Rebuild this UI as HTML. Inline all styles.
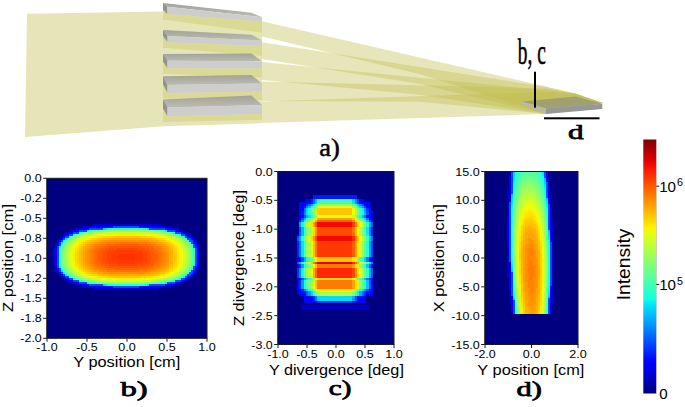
<!DOCTYPE html>
<html><head><meta charset="utf-8"><title>figure</title>
<style>html,body{margin:0;padding:0;background:#fff;}body{width:685px;height:407px;overflow:hidden;}svg{display:block;}</style>
</head><body>
<svg width="685" height="407" viewBox="0 0 685 407">
<defs><linearGradient id="tf" x1="0" y1="0" x2="0" y2="1"><stop offset="0" stop-color="#a2a29b"/><stop offset="1" stop-color="#bcbcb4"/></linearGradient></defs>
<polygon fill="#e6e5b8" points="27,13.8 163,11.4 262,17 262,123.2 163,126.2 25,137"/>
<polygon fill="#dbda93" points="163,10.1 167.5,14.0 262,21.7 262,32.7 163,19.5"/>
<polygon fill="url(#tf)" points="163,2.9 251.5,12.8 262,17.2 167.5,6.8"/>
<polygon fill="#93938e" points="163,2.9 167.5,6.8 167.5,14.0 163,10.1"/>
<polygon fill="#cdcdcd" points="167.5,6.8 262,17.2 262,21.7 167.5,14.0"/>
<polygon fill="#dbda93" points="163,36.1 167.5,42.2 262,46.0 262,56.0 163,47.7"/>
<polygon fill="url(#tf)" points="163,29.9 251.5,34.7 262,40.6 167.5,36.0"/>
<polygon fill="#93938e" points="163,29.9 167.5,36.0 167.5,42.2 163,36.1"/>
<polygon fill="#cdcdcd" points="167.5,36.0 262,40.6 262,46.0 167.5,42.2"/>
<polygon fill="#dbda93" points="163,61.5 167.5,68.3 262,68.6 262,77.6 163,73.8"/>
<polygon fill="url(#tf)" points="163,53.9 251.5,53.4 262,61.2 167.5,60.7"/>
<polygon fill="#93938e" points="163,53.9 167.5,60.7 167.5,68.3 163,61.5"/>
<polygon fill="#cdcdcd" points="167.5,60.7 262,61.2 262,68.6 167.5,68.3"/>
<polygon fill="#dbda93" points="163,84.3 167.5,93.0 262,91.6 262,100.1 163,98.5"/>
<polygon fill="url(#tf)" points="163,76.3 251.5,75.0 262,83.5 167.5,85.0"/>
<polygon fill="#93938e" points="163,76.3 167.5,85.0 167.5,93.0 163,84.3"/>
<polygon fill="#cdcdcd" points="167.5,85.0 262,83.5 262,91.6 167.5,93.0"/>
<polygon fill="#dbda93" points="163,108.4 167.5,116.4 262,113.9 262,119.9 163,121.9"/>
<polygon fill="url(#tf)" points="163,99.5 251.5,95.4 262,105.1 167.5,107.5"/>
<polygon fill="#93938e" points="163,99.5 167.5,107.5 167.5,116.4 163,108.4"/>
<polygon fill="#cdcdcd" points="167.5,107.5 262,105.1 262,113.9 167.5,116.4"/>
<polygon fill="#c4c4bc" points="522,101.4 546,108.4 546,114.0 522,104.4"/>
<polygon fill="#c0be4c" fill-opacity="0.38" points="262.0,21.2 545.0,86.3 575.0,93.5 603.0,103.0 546.0,114.0 420.0,74.3 262.0,36.4"/>
<polygon fill="#c0be4c" fill-opacity="0.38" points="262.0,42.3 545.0,86.7 575.0,93.5 603.0,103.0 546.0,114.0 420.0,84.1 262.0,59.0"/>
<polygon fill="#c0be4c" fill-opacity="0.38" points="262.0,61.9 545.0,90.2 575.0,93.5 603.0,103.0 546.0,114.0 420.0,94.7 262.0,80.0"/>
<polygon fill="#c0be4c" fill-opacity="0.38" points="262.0,81.6 545.0,88.4 575.0,93.5 603.0,103.0 546.0,114.0 420.0,101.8 262.0,101.0"/>
<polygon fill="#c0be4c" fill-opacity="0.38" points="262.0,101.5 545.0,91.9 575.0,93.5 603.0,103.0 546.0,114.0 420.0,118.0 262.0,123.0"/>
<polygon fill="#8e8e80" fill-opacity="0.65" points="522.0,101.4 546.0,108.4 602.3,103.8 576.0,96.5"/>
<polygon fill="#b9b9af" fill-opacity="0.85" points="522,101.4 546,108.4 546,114.0 522,104.4"/>
<polygon fill="#979797" points="546,108.4 602.3,103.8 602.3,109.0 546,114.0"/>
<rect x="534" y="71.7" width="2" height="36" fill="#000"/>
<rect x="544" y="117.3" width="55.5" height="2" fill="#000"/>
<text x="0.00" y="0.00" font-size="36.50" text-anchor="start" stroke="#000" stroke-width="0.60" transform="translate(517.8 64.4) scale(0.53 1)" style="font-family:'Liberation Serif',serif">b, c</text>
<text x="568.10" y="139.40" font-size="21.50" text-anchor="start" stroke="#000" stroke-width="0.75" textLength="15.60" lengthAdjust="spacingAndGlyphs" style="font-family:'Liberation Serif',serif">d</text>
<text x="0.00" y="0.00" font-size="24.50" text-anchor="start" stroke="#000" stroke-width="0.45" transform="translate(319.2 156) scale(1.08 1)" style="font-family:'Liberation Serif',serif">a)</text>
<rect x="47.00" y="178.30" width="160.00" height="160.00" fill="#000080"/>
<rect x="278.00" y="171.50" width="116.00" height="173.00" fill="#000080"/>
<rect x="485.00" y="171.50" width="93.00" height="173.00" fill="#000080"/>
<g shape-rendering="crispEdges">
<path fill="#0000d1" d="M93.0 224.3H159.0V226.3H93.0zM81.0 226.3H91.0V228.3H81.0zM163.0 226.3H171.0V228.3H163.0zM75.0 228.3H81.0V230.3H75.0zM173.0 228.3H179.0V230.3H173.0zM69.0 230.3H73.0V232.3H69.0zM179.0 230.3H183.0V232.3H179.0zM65.0 232.3H69.0V234.3H65.0zM185.0 232.3H187.0V234.3H185.0zM63.0 234.3H65.0V236.3H63.0zM187.0 234.3H191.0V236.3H187.0zM61.0 236.3H63.0V238.3H61.0zM191.0 236.3H193.0V238.3H191.0zM59.0 238.3H61.0V240.3H59.0zM193.0 238.3H195.0V240.3H193.0zM57.0 240.3H59.0V242.3H57.0zM195.0 240.3H197.0V242.3H195.0zM55.0 242.3H57.0V244.3H55.0zM195.0 242.3H197.0V244.3H195.0zM55.0 244.3H57.0V246.3H55.0zM197.0 244.3H199.0V246.3H197.0zM55.0 246.3H57.0V248.3H55.0zM197.0 246.3H199.0V248.3H197.0zM53.0 248.3H55.0V250.3H53.0zM197.0 248.3H199.0V250.3H197.0zM53.0 250.3H55.0V252.3H53.0zM53.0 252.3H55.0V254.3H53.0zM53.0 254.3H55.0V256.3H53.0zM53.0 256.3H55.0V258.3H53.0zM53.0 258.3H55.0V260.3H53.0zM53.0 260.3H55.0V262.3H53.0zM53.0 262.3H55.0V264.3H53.0zM53.0 264.3H55.0V266.3H53.0zM197.0 264.3H199.0V266.3H197.0zM55.0 266.3H57.0V268.3H55.0zM197.0 266.3H199.0V268.3H197.0zM55.0 268.3H57.0V270.3H55.0zM197.0 268.3H199.0V270.3H197.0zM55.0 270.3H57.0V272.3H55.0zM195.0 270.3H197.0V272.3H195.0zM57.0 272.3H59.0V274.3H57.0zM195.0 272.3H197.0V274.3H195.0zM59.0 274.3H61.0V276.3H59.0zM193.0 274.3H195.0V276.3H193.0zM61.0 276.3H63.0V278.3H61.0zM191.0 276.3H193.0V278.3H191.0zM63.0 278.3H65.0V280.3H63.0zM187.0 278.3H191.0V280.3H187.0zM65.0 280.3H69.0V282.3H65.0zM185.0 280.3H187.0V282.3H185.0zM69.0 282.3H73.0V284.3H69.0zM179.0 282.3H183.0V284.3H179.0zM75.0 284.3H81.0V286.3H75.0zM173.0 284.3H179.0V286.3H173.0zM81.0 286.3H91.0V288.3H81.0zM163.0 286.3H171.0V288.3H163.0zM93.0 288.3H159.0V290.3H93.0z"/>
<path fill="#0005ff" d="M91.0 226.3H113.0V228.3H91.0zM139.0 226.3H163.0V228.3H139.0zM81.0 228.3H89.0V230.3H81.0zM165.0 228.3H173.0V230.3H165.0zM73.0 230.3H79.0V232.3H73.0zM175.0 230.3H179.0V232.3H175.0zM69.0 232.3H73.0V234.3H69.0zM181.0 232.3H185.0V234.3H181.0zM65.0 234.3H69.0V236.3H65.0zM185.0 234.3H187.0V236.3H185.0zM63.0 236.3H65.0V238.3H63.0zM187.0 236.3H191.0V238.3H187.0zM61.0 238.3H63.0V240.3H61.0zM191.0 238.3H193.0V240.3H191.0zM59.0 240.3H61.0V242.3H59.0zM193.0 240.3H195.0V242.3H193.0zM57.0 242.3H59.0V244.3H57.0zM193.0 242.3H195.0V244.3H193.0zM57.0 244.3H59.0V246.3H57.0zM195.0 244.3H197.0V246.3H195.0zM195.0 246.3H197.0V248.3H195.0zM55.0 248.3H57.0V250.3H55.0zM55.0 250.3H57.0V252.3H55.0zM197.0 250.3H199.0V252.3H197.0zM55.0 252.3H57.0V254.3H55.0zM197.0 252.3H199.0V254.3H197.0zM55.0 254.3H57.0V256.3H55.0zM197.0 254.3H199.0V256.3H197.0zM55.0 256.3H57.0V258.3H55.0zM197.0 256.3H199.0V258.3H197.0zM55.0 258.3H57.0V260.3H55.0zM197.0 258.3H199.0V260.3H197.0zM55.0 260.3H57.0V262.3H55.0zM197.0 260.3H199.0V262.3H197.0zM55.0 262.3H57.0V264.3H55.0zM197.0 262.3H199.0V264.3H197.0zM55.0 264.3H57.0V266.3H55.0zM195.0 266.3H197.0V268.3H195.0zM57.0 268.3H59.0V270.3H57.0zM195.0 268.3H197.0V270.3H195.0zM57.0 270.3H59.0V272.3H57.0zM193.0 270.3H195.0V272.3H193.0zM59.0 272.3H61.0V274.3H59.0zM193.0 272.3H195.0V274.3H193.0zM61.0 274.3H63.0V276.3H61.0zM191.0 274.3H193.0V276.3H191.0zM63.0 276.3H65.0V278.3H63.0zM187.0 276.3H191.0V278.3H187.0zM65.0 278.3H69.0V280.3H65.0zM185.0 278.3H187.0V280.3H185.0zM69.0 280.3H73.0V282.3H69.0zM181.0 280.3H185.0V282.3H181.0zM73.0 282.3H79.0V284.3H73.0zM175.0 282.3H179.0V284.3H175.0zM81.0 284.3H89.0V286.3H81.0zM165.0 284.3H173.0V286.3H165.0zM91.0 286.3H113.0V288.3H91.0zM139.0 286.3H163.0V288.3H139.0z"/>
<path fill="#004dff" d="M113.0 226.3H139.0V228.3H113.0zM89.0 228.3H103.0V230.3H89.0zM149.0 228.3H165.0V230.3H149.0zM79.0 230.3H87.0V232.3H79.0zM167.0 230.3H175.0V232.3H167.0zM73.0 232.3H79.0V234.3H73.0zM175.0 232.3H181.0V234.3H175.0zM69.0 234.3H73.0V236.3H69.0zM181.0 234.3H185.0V236.3H181.0zM65.0 236.3H69.0V238.3H65.0zM185.0 236.3H187.0V238.3H185.0zM63.0 238.3H65.0V240.3H63.0zM187.0 238.3H191.0V240.3H187.0zM61.0 240.3H63.0V242.3H61.0zM189.0 240.3H193.0V242.3H189.0zM59.0 242.3H61.0V244.3H59.0zM191.0 242.3H193.0V244.3H191.0zM59.0 244.3H61.0V246.3H59.0zM193.0 244.3H195.0V246.3H193.0zM57.0 246.3H59.0V248.3H57.0zM193.0 246.3H195.0V248.3H193.0zM57.0 248.3H59.0V250.3H57.0zM195.0 248.3H197.0V250.3H195.0zM57.0 250.3H59.0V252.3H57.0zM195.0 250.3H197.0V252.3H195.0zM57.0 252.3H59.0V254.3H57.0zM195.0 252.3H197.0V254.3H195.0zM57.0 254.3H59.0V256.3H57.0zM195.0 254.3H197.0V256.3H195.0zM57.0 256.3H59.0V258.3H57.0zM195.0 256.3H197.0V258.3H195.0zM57.0 258.3H59.0V260.3H57.0zM195.0 258.3H197.0V260.3H195.0zM57.0 260.3H59.0V262.3H57.0zM195.0 260.3H197.0V262.3H195.0zM57.0 262.3H59.0V264.3H57.0zM195.0 262.3H197.0V264.3H195.0zM57.0 264.3H59.0V266.3H57.0zM195.0 264.3H197.0V266.3H195.0zM57.0 266.3H59.0V268.3H57.0zM193.0 266.3H195.0V268.3H193.0zM59.0 268.3H61.0V270.3H59.0zM193.0 268.3H195.0V270.3H193.0zM59.0 270.3H61.0V272.3H59.0zM191.0 270.3H193.0V272.3H191.0zM61.0 272.3H63.0V274.3H61.0zM189.0 272.3H193.0V274.3H189.0zM63.0 274.3H65.0V276.3H63.0zM187.0 274.3H191.0V276.3H187.0zM65.0 276.3H69.0V278.3H65.0zM185.0 276.3H187.0V278.3H185.0zM69.0 278.3H73.0V280.3H69.0zM181.0 278.3H185.0V280.3H181.0zM73.0 280.3H79.0V282.3H73.0zM175.0 280.3H181.0V282.3H175.0zM79.0 282.3H87.0V284.3H79.0zM167.0 282.3H175.0V284.3H167.0zM89.0 284.3H103.0V286.3H89.0zM149.0 284.3H165.0V286.3H149.0zM113.0 286.3H139.0V288.3H113.0z"/>
<path fill="#00d1ff" d="M103.0 228.3H105.0V230.3H103.0zM103.0 284.3H105.0V286.3H103.0z"/>
<path fill="#00e5f7" d="M105.0 228.3H107.0V230.3H105.0zM147.0 228.3H149.0V230.3H147.0zM65.0 238.3H67.0V240.3H65.0zM61.0 242.3H63.0V244.3H61.0zM61.0 270.3H63.0V272.3H61.0zM65.0 274.3H67.0V276.3H65.0zM105.0 284.3H107.0V286.3H105.0zM147.0 284.3H149.0V286.3H147.0z"/>
<path fill="#08f0ef" d="M165.0 230.3H167.0V232.3H165.0zM59.0 246.3H61.0V248.3H59.0zM59.0 266.3H61.0V268.3H59.0zM165.0 282.3H167.0V284.3H165.0z"/>
<path fill="#10fae6" d="M107.0 228.3H109.0V230.3H107.0zM145.0 228.3H147.0V230.3H145.0zM87.0 230.3H89.0V232.3H87.0zM179.0 234.3H181.0V236.3H179.0zM183.0 236.3H185.0V238.3H183.0zM63.0 240.3H65.0V242.3H63.0zM193.0 248.3H195.0V250.3H193.0zM193.0 264.3H195.0V266.3H193.0zM63.0 272.3H65.0V274.3H63.0zM183.0 276.3H185.0V278.3H183.0zM179.0 278.3H181.0V280.3H179.0zM87.0 282.3H89.0V284.3H87.0zM107.0 284.3H109.0V286.3H107.0zM145.0 284.3H147.0V286.3H145.0z"/>
<path fill="#19ffde" d="M109.0 228.3H111.0V230.3H109.0zM143.0 228.3H145.0V230.3H143.0zM173.0 232.3H175.0V234.3H173.0zM173.0 280.3H175.0V282.3H173.0zM109.0 284.3H111.0V286.3H109.0zM143.0 284.3H145.0V286.3H143.0z"/>
<path fill="#21ffd6" d="M111.0 228.3H115.0V230.3H111.0zM139.0 228.3H143.0V230.3H139.0zM79.0 232.3H81.0V234.3H79.0zM73.0 234.3H75.0V236.3H73.0zM191.0 244.3H193.0V246.3H191.0zM193.0 250.3H195.0V252.3H193.0zM193.0 262.3H195.0V264.3H193.0zM191.0 268.3H193.0V270.3H191.0zM73.0 278.3H75.0V280.3H73.0zM79.0 280.3H81.0V282.3H79.0zM111.0 284.3H115.0V286.3H111.0zM139.0 284.3H143.0V286.3H139.0z"/>
<path fill="#29ffce" d="M115.0 228.3H139.0V230.3H115.0zM163.0 230.3H165.0V232.3H163.0zM69.0 236.3H71.0V238.3H69.0zM59.0 248.3H61.0V250.3H59.0zM193.0 252.3H195.0V254.3H193.0zM193.0 254.3H195.0V256.3H193.0zM193.0 256.3H195.0V258.3H193.0zM193.0 258.3H195.0V260.3H193.0zM193.0 260.3H195.0V262.3H193.0zM59.0 264.3H61.0V266.3H59.0zM69.0 276.3H71.0V278.3H69.0zM163.0 282.3H165.0V284.3H163.0zM115.0 284.3H139.0V286.3H115.0z"/>
<path fill="#31ffc5" d="M89.0 230.3H91.0V232.3H89.0zM185.0 238.3H187.0V240.3H185.0zM185.0 274.3H187.0V276.3H185.0zM89.0 282.3H91.0V284.3H89.0z"/>
<path fill="#3affbd" d="M171.0 232.3H173.0V234.3H171.0zM187.0 240.3H189.0V242.3H187.0zM189.0 242.3H191.0V244.3H189.0zM61.0 244.3H63.0V246.3H61.0zM59.0 250.3H61.0V252.3H59.0zM59.0 252.3H61.0V254.3H59.0zM59.0 260.3H61.0V262.3H59.0zM59.0 262.3H61.0V264.3H59.0zM61.0 268.3H63.0V270.3H61.0zM189.0 270.3H191.0V272.3H189.0zM187.0 272.3H189.0V274.3H187.0zM171.0 280.3H173.0V282.3H171.0z"/>
<path fill="#42ffb5" d="M91.0 230.3H93.0V232.3H91.0zM161.0 230.3H163.0V232.3H161.0zM81.0 232.3H83.0V234.3H81.0zM177.0 234.3H179.0V236.3H177.0zM181.0 236.3H183.0V238.3H181.0zM67.0 238.3H69.0V240.3H67.0zM191.0 246.3H193.0V248.3H191.0zM59.0 254.3H61.0V256.3H59.0zM59.0 256.3H61.0V258.3H59.0zM59.0 258.3H61.0V260.3H59.0zM191.0 266.3H193.0V268.3H191.0zM67.0 274.3H69.0V276.3H67.0zM181.0 276.3H183.0V278.3H181.0zM177.0 278.3H179.0V280.3H177.0zM81.0 280.3H83.0V282.3H81.0zM91.0 282.3H93.0V284.3H91.0zM161.0 282.3H163.0V284.3H161.0z"/>
<path fill="#4affad" d="M75.0 234.3H77.0V236.3H75.0zM65.0 240.3H67.0V242.3H65.0zM63.0 242.3H65.0V244.3H63.0zM63.0 270.3H65.0V272.3H63.0zM65.0 272.3H67.0V274.3H65.0zM75.0 278.3H77.0V280.3H75.0z"/>
<path fill="#52ffa5" d="M93.0 230.3H95.0V232.3H93.0zM159.0 230.3H161.0V232.3H159.0zM169.0 232.3H171.0V234.3H169.0zM71.0 236.3H73.0V238.3H71.0zM61.0 246.3H63.0V248.3H61.0zM191.0 248.3H193.0V250.3H191.0zM191.0 264.3H193.0V266.3H191.0zM61.0 266.3H63.0V268.3H61.0zM71.0 276.3H73.0V278.3H71.0zM169.0 280.3H171.0V282.3H169.0zM93.0 282.3H95.0V284.3H93.0zM159.0 282.3H161.0V284.3H159.0z"/>
<path fill="#5aff9c" d="M157.0 230.3H159.0V232.3H157.0zM83.0 232.3H85.0V234.3H83.0zM175.0 234.3H177.0V236.3H175.0zM183.0 238.3H185.0V240.3H183.0zM189.0 244.3H191.0V246.3H189.0zM61.0 248.3H63.0V250.3H61.0zM191.0 250.3H193.0V252.3H191.0zM191.0 262.3H193.0V264.3H191.0zM61.0 264.3H63.0V266.3H61.0zM189.0 268.3H191.0V270.3H189.0zM183.0 274.3H185.0V276.3H183.0zM175.0 278.3H177.0V280.3H175.0zM83.0 280.3H85.0V282.3H83.0zM157.0 282.3H159.0V284.3H157.0z"/>
<path fill="#63ff94" d="M95.0 230.3H97.0V232.3H95.0zM155.0 230.3H157.0V232.3H155.0zM77.0 234.3H79.0V236.3H77.0zM179.0 236.3H181.0V238.3H179.0zM185.0 240.3H187.0V242.3H185.0zM187.0 242.3H189.0V244.3H187.0zM63.0 244.3H65.0V246.3H63.0zM191.0 252.3H193.0V254.3H191.0zM191.0 254.3H193.0V256.3H191.0zM191.0 256.3H193.0V258.3H191.0zM191.0 258.3H193.0V260.3H191.0zM191.0 260.3H193.0V262.3H191.0zM63.0 268.3H65.0V270.3H63.0zM187.0 270.3H189.0V272.3H187.0zM185.0 272.3H187.0V274.3H185.0zM179.0 276.3H181.0V278.3H179.0zM77.0 278.3H79.0V280.3H77.0zM95.0 282.3H97.0V284.3H95.0zM155.0 282.3H157.0V284.3H155.0z"/>
<path fill="#6bff8c" d="M97.0 230.3H99.0V232.3H97.0zM85.0 232.3H87.0V234.3H85.0zM167.0 232.3H169.0V234.3H167.0zM73.0 236.3H75.0V238.3H73.0zM69.0 238.3H71.0V240.3H69.0zM189.0 246.3H191.0V248.3H189.0zM61.0 250.3H63.0V252.3H61.0zM61.0 252.3H63.0V254.3H61.0zM61.0 254.3H63.0V256.3H61.0zM61.0 256.3H63.0V258.3H61.0zM61.0 258.3H63.0V260.3H61.0zM61.0 260.3H63.0V262.3H61.0zM61.0 262.3H63.0V264.3H61.0zM189.0 266.3H191.0V268.3H189.0zM69.0 274.3H71.0V276.3H69.0zM73.0 276.3H75.0V278.3H73.0zM85.0 280.3H87.0V282.3H85.0zM167.0 280.3H169.0V282.3H167.0zM97.0 282.3H99.0V284.3H97.0z"/>
<path fill="#73ff84" d="M99.0 230.3H101.0V232.3H99.0zM151.0 230.3H155.0V232.3H151.0zM173.0 234.3H175.0V236.3H173.0zM67.0 240.3H69.0V242.3H67.0zM65.0 242.3H67.0V244.3H65.0zM65.0 270.3H67.0V272.3H65.0zM67.0 272.3H69.0V274.3H67.0zM173.0 278.3H175.0V280.3H173.0zM99.0 282.3H101.0V284.3H99.0zM151.0 282.3H155.0V284.3H151.0z"/>
<path fill="#7bff7b" d="M101.0 230.3H105.0V232.3H101.0zM149.0 230.3H151.0V232.3H149.0zM87.0 232.3H89.0V234.3H87.0zM165.0 232.3H167.0V234.3H165.0zM79.0 234.3H81.0V236.3H79.0zM181.0 238.3H183.0V240.3H181.0zM187.0 244.3H189.0V246.3H187.0zM63.0 246.3H65.0V248.3H63.0zM189.0 248.3H191.0V250.3H189.0zM189.0 264.3H191.0V266.3H189.0zM63.0 266.3H65.0V268.3H63.0zM187.0 268.3H189.0V270.3H187.0zM181.0 274.3H183.0V276.3H181.0zM79.0 278.3H81.0V280.3H79.0zM87.0 280.3H89.0V282.3H87.0zM165.0 280.3H167.0V282.3H165.0zM101.0 282.3H105.0V284.3H101.0zM149.0 282.3H151.0V284.3H149.0z"/>
<path fill="#84ff73" d="M105.0 230.3H107.0V232.3H105.0zM145.0 230.3H149.0V232.3H145.0zM163.0 232.3H165.0V234.3H163.0zM75.0 236.3H77.0V238.3H75.0zM177.0 236.3H179.0V238.3H177.0zM71.0 238.3H73.0V240.3H71.0zM183.0 240.3H185.0V242.3H183.0zM185.0 242.3H187.0V244.3H185.0zM65.0 244.3H67.0V246.3H65.0zM63.0 248.3H65.0V250.3H63.0zM189.0 250.3H191.0V252.3H189.0zM189.0 252.3H191.0V254.3H189.0zM189.0 254.3H191.0V256.3H189.0zM189.0 256.3H191.0V258.3H189.0zM189.0 258.3H191.0V260.3H189.0zM189.0 260.3H191.0V262.3H189.0zM189.0 262.3H191.0V264.3H189.0zM63.0 264.3H65.0V266.3H63.0zM65.0 268.3H67.0V270.3H65.0zM185.0 270.3H187.0V272.3H185.0zM183.0 272.3H185.0V274.3H183.0zM71.0 274.3H73.0V276.3H71.0zM75.0 276.3H77.0V278.3H75.0zM177.0 276.3H179.0V278.3H177.0zM163.0 280.3H165.0V282.3H163.0zM105.0 282.3H107.0V284.3H105.0zM145.0 282.3H149.0V284.3H145.0z"/>
<path fill="#8cff6b" d="M107.0 230.3H115.0V232.3H107.0zM139.0 230.3H145.0V232.3H139.0zM89.0 232.3H91.0V234.3H89.0zM81.0 234.3H83.0V236.3H81.0zM171.0 234.3H173.0V236.3H171.0zM69.0 240.3H71.0V242.3H69.0zM67.0 242.3H69.0V244.3H67.0zM187.0 246.3H189.0V248.3H187.0zM63.0 250.3H65.0V252.3H63.0zM63.0 252.3H65.0V254.3H63.0zM63.0 260.3H65.0V262.3H63.0zM63.0 262.3H65.0V264.3H63.0zM187.0 266.3H189.0V268.3H187.0zM67.0 270.3H69.0V272.3H67.0zM69.0 272.3H71.0V274.3H69.0zM81.0 278.3H83.0V280.3H81.0zM171.0 278.3H173.0V280.3H171.0zM89.0 280.3H91.0V282.3H89.0zM107.0 282.3H115.0V284.3H107.0zM139.0 282.3H145.0V284.3H139.0z"/>
<path fill="#94ff63" d="M115.0 230.3H139.0V232.3H115.0zM91.0 232.3H93.0V234.3H91.0zM161.0 232.3H163.0V234.3H161.0zM175.0 236.3H177.0V238.3H175.0zM179.0 238.3H181.0V240.3H179.0zM65.0 246.3H67.0V248.3H65.0zM63.0 254.3H65.0V256.3H63.0zM63.0 256.3H65.0V258.3H63.0zM63.0 258.3H65.0V260.3H63.0zM65.0 266.3H67.0V268.3H65.0zM179.0 274.3H181.0V276.3H179.0zM175.0 276.3H177.0V278.3H175.0zM91.0 280.3H93.0V282.3H91.0zM161.0 280.3H163.0V282.3H161.0zM115.0 282.3H139.0V284.3H115.0z"/>
<path fill="#9cff5a" d="M93.0 232.3H95.0V234.3H93.0zM159.0 232.3H161.0V234.3H159.0zM83.0 234.3H85.0V236.3H83.0zM169.0 234.3H171.0V236.3H169.0zM77.0 236.3H79.0V238.3H77.0zM73.0 238.3H75.0V240.3H73.0zM181.0 240.3H183.0V242.3H181.0zM183.0 242.3H185.0V244.3H183.0zM185.0 244.3H187.0V246.3H185.0zM187.0 248.3H189.0V250.3H187.0zM187.0 250.3H189.0V252.3H187.0zM187.0 262.3H189.0V264.3H187.0zM187.0 264.3H189.0V266.3H187.0zM185.0 268.3H187.0V270.3H185.0zM183.0 270.3H185.0V272.3H183.0zM181.0 272.3H183.0V274.3H181.0zM73.0 274.3H75.0V276.3H73.0zM77.0 276.3H79.0V278.3H77.0zM83.0 278.3H85.0V280.3H83.0zM169.0 278.3H171.0V280.3H169.0zM93.0 280.3H95.0V282.3H93.0zM159.0 280.3H161.0V282.3H159.0z"/>
<path fill="#a5ff52" d="M95.0 232.3H97.0V234.3H95.0zM157.0 232.3H159.0V234.3H157.0zM167.0 234.3H169.0V236.3H167.0zM173.0 236.3H175.0V238.3H173.0zM71.0 240.3H73.0V242.3H71.0zM69.0 242.3H71.0V244.3H69.0zM67.0 244.3H69.0V246.3H67.0zM65.0 248.3H67.0V250.3H65.0zM65.0 250.3H67.0V252.3H65.0zM187.0 252.3H189.0V254.3H187.0zM187.0 254.3H189.0V256.3H187.0zM187.0 256.3H189.0V258.3H187.0zM187.0 258.3H189.0V260.3H187.0zM187.0 260.3H189.0V262.3H187.0zM65.0 262.3H67.0V264.3H65.0zM65.0 264.3H67.0V266.3H65.0zM67.0 268.3H69.0V270.3H67.0zM69.0 270.3H71.0V272.3H69.0zM71.0 272.3H73.0V274.3H71.0zM173.0 276.3H175.0V278.3H173.0zM167.0 278.3H169.0V280.3H167.0zM95.0 280.3H97.0V282.3H95.0zM157.0 280.3H159.0V282.3H157.0z"/>
<path fill="#adff4a" d="M97.0 232.3H99.0V234.3H97.0zM155.0 232.3H157.0V234.3H155.0zM85.0 234.3H87.0V236.3H85.0zM79.0 236.3H81.0V238.3H79.0zM75.0 238.3H77.0V240.3H75.0zM177.0 238.3H179.0V240.3H177.0zM67.0 246.3H69.0V248.3H67.0zM185.0 246.3H187.0V248.3H185.0zM65.0 252.3H67.0V254.3H65.0zM65.0 254.3H67.0V256.3H65.0zM65.0 256.3H67.0V258.3H65.0zM65.0 258.3H67.0V260.3H65.0zM65.0 260.3H67.0V262.3H65.0zM67.0 266.3H69.0V268.3H67.0zM185.0 266.3H187.0V268.3H185.0zM75.0 274.3H77.0V276.3H75.0zM177.0 274.3H179.0V276.3H177.0zM79.0 276.3H81.0V278.3H79.0zM85.0 278.3H87.0V280.3H85.0zM97.0 280.3H99.0V282.3H97.0zM155.0 280.3H157.0V282.3H155.0z"/>
<path fill="#b5ff42" d="M99.0 232.3H101.0V234.3H99.0zM153.0 232.3H155.0V234.3H153.0zM87.0 234.3H89.0V236.3H87.0zM165.0 234.3H167.0V236.3H165.0zM171.0 236.3H173.0V238.3H171.0zM179.0 240.3H181.0V242.3H179.0zM181.0 242.3H183.0V244.3H181.0zM183.0 244.3H185.0V246.3H183.0zM185.0 248.3H187.0V250.3H185.0zM185.0 250.3H187.0V252.3H185.0zM185.0 262.3H187.0V264.3H185.0zM185.0 264.3H187.0V266.3H185.0zM183.0 268.3H185.0V270.3H183.0zM181.0 270.3H183.0V272.3H181.0zM179.0 272.3H181.0V274.3H179.0zM171.0 276.3H173.0V278.3H171.0zM87.0 278.3H89.0V280.3H87.0zM165.0 278.3H167.0V280.3H165.0zM99.0 280.3H101.0V282.3H99.0zM153.0 280.3H155.0V282.3H153.0z"/>
<path fill="#bdff3a" d="M101.0 232.3H105.0V234.3H101.0zM149.0 232.3H153.0V234.3H149.0zM89.0 234.3H91.0V236.3H89.0zM163.0 234.3H165.0V236.3H163.0zM81.0 236.3H83.0V238.3H81.0zM77.0 238.3H79.0V240.3H77.0zM175.0 238.3H177.0V240.3H175.0zM73.0 240.3H75.0V242.3H73.0zM71.0 242.3H73.0V244.3H71.0zM69.0 244.3H71.0V246.3H69.0zM183.0 246.3H185.0V248.3H183.0zM67.0 248.3H69.0V250.3H67.0zM67.0 250.3H69.0V252.3H67.0zM185.0 252.3H187.0V254.3H185.0zM185.0 254.3H187.0V256.3H185.0zM185.0 256.3H187.0V258.3H185.0zM185.0 258.3H187.0V260.3H185.0zM185.0 260.3H187.0V262.3H185.0zM67.0 262.3H69.0V264.3H67.0zM67.0 264.3H69.0V266.3H67.0zM183.0 266.3H185.0V268.3H183.0zM69.0 268.3H71.0V270.3H69.0zM71.0 270.3H73.0V272.3H71.0zM73.0 272.3H75.0V274.3H73.0zM77.0 274.3H79.0V276.3H77.0zM175.0 274.3H177.0V276.3H175.0zM81.0 276.3H83.0V278.3H81.0zM89.0 278.3H91.0V280.3H89.0zM163.0 278.3H165.0V280.3H163.0zM101.0 280.3H105.0V282.3H101.0zM149.0 280.3H153.0V282.3H149.0z"/>
<path fill="#c5ff31" d="M105.0 232.3H111.0V234.3H105.0zM143.0 232.3H149.0V234.3H143.0zM161.0 234.3H163.0V236.3H161.0zM83.0 236.3H85.0V238.3H83.0zM169.0 236.3H171.0V238.3H169.0zM177.0 240.3H179.0V242.3H177.0zM181.0 244.3H183.0V246.3H181.0zM69.0 246.3H71.0V248.3H69.0zM183.0 248.3H185.0V250.3H183.0zM67.0 252.3H69.0V254.3H67.0zM67.0 254.3H69.0V256.3H67.0zM67.0 256.3H69.0V258.3H67.0zM67.0 258.3H69.0V260.3H67.0zM67.0 260.3H69.0V262.3H67.0zM183.0 264.3H185.0V266.3H183.0zM69.0 266.3H71.0V268.3H69.0zM181.0 268.3H183.0V270.3H181.0zM177.0 272.3H179.0V274.3H177.0zM83.0 276.3H85.0V278.3H83.0zM169.0 276.3H171.0V278.3H169.0zM161.0 278.3H163.0V280.3H161.0zM105.0 280.3H111.0V282.3H105.0zM143.0 280.3H149.0V282.3H143.0z"/>
<path fill="#ceff29" d="M111.0 232.3H143.0V234.3H111.0zM91.0 234.3H93.0V236.3H91.0zM159.0 234.3H161.0V236.3H159.0zM167.0 236.3H169.0V238.3H167.0zM79.0 238.3H81.0V240.3H79.0zM173.0 238.3H175.0V240.3H173.0zM75.0 240.3H77.0V242.3H75.0zM73.0 242.3H75.0V244.3H73.0zM179.0 242.3H181.0V244.3H179.0zM71.0 244.3H73.0V246.3H71.0zM69.0 248.3H71.0V250.3H69.0zM183.0 250.3H185.0V252.3H183.0zM183.0 262.3H185.0V264.3H183.0zM69.0 264.3H71.0V266.3H69.0zM71.0 268.3H73.0V270.3H71.0zM73.0 270.3H75.0V272.3H73.0zM179.0 270.3H181.0V272.3H179.0zM75.0 272.3H77.0V274.3H75.0zM79.0 274.3H81.0V276.3H79.0zM173.0 274.3H175.0V276.3H173.0zM167.0 276.3H169.0V278.3H167.0zM91.0 278.3H93.0V280.3H91.0zM159.0 278.3H161.0V280.3H159.0zM111.0 280.3H143.0V282.3H111.0z"/>
<path fill="#d6ff21" d="M93.0 234.3H97.0V236.3H93.0zM157.0 234.3H159.0V236.3H157.0zM85.0 236.3H87.0V238.3H85.0zM171.0 238.3H173.0V240.3H171.0zM175.0 240.3H177.0V242.3H175.0zM181.0 246.3H183.0V248.3H181.0zM69.0 250.3H71.0V252.3H69.0zM69.0 252.3H71.0V254.3H69.0zM183.0 252.3H185.0V254.3H183.0zM69.0 254.3H71.0V256.3H69.0zM183.0 254.3H185.0V256.3H183.0zM69.0 256.3H71.0V258.3H69.0zM183.0 256.3H185.0V258.3H183.0zM69.0 258.3H71.0V260.3H69.0zM183.0 258.3H185.0V260.3H183.0zM69.0 260.3H71.0V262.3H69.0zM183.0 260.3H185.0V262.3H183.0zM69.0 262.3H71.0V264.3H69.0zM181.0 266.3H183.0V268.3H181.0zM175.0 272.3H177.0V274.3H175.0zM171.0 274.3H173.0V276.3H171.0zM85.0 276.3H87.0V278.3H85.0zM93.0 278.3H97.0V280.3H93.0zM157.0 278.3H159.0V280.3H157.0z"/>
<path fill="#deff19" d="M97.0 234.3H99.0V236.3H97.0zM155.0 234.3H157.0V236.3H155.0zM87.0 236.3H89.0V238.3H87.0zM165.0 236.3H167.0V238.3H165.0zM81.0 238.3H83.0V240.3H81.0zM77.0 240.3H79.0V242.3H77.0zM75.0 242.3H77.0V244.3H75.0zM177.0 242.3H179.0V244.3H177.0zM73.0 244.3H75.0V246.3H73.0zM179.0 244.3H181.0V246.3H179.0zM71.0 246.3H73.0V248.3H71.0zM181.0 248.3H183.0V250.3H181.0zM181.0 264.3H183.0V266.3H181.0zM71.0 266.3H73.0V268.3H71.0zM73.0 268.3H75.0V270.3H73.0zM179.0 268.3H181.0V270.3H179.0zM75.0 270.3H77.0V272.3H75.0zM177.0 270.3H179.0V272.3H177.0zM77.0 272.3H79.0V274.3H77.0zM81.0 274.3H83.0V276.3H81.0zM87.0 276.3H89.0V278.3H87.0zM165.0 276.3H167.0V278.3H165.0zM97.0 278.3H99.0V280.3H97.0zM155.0 278.3H157.0V280.3H155.0z"/>
<path fill="#e6ff10" d="M99.0 234.3H103.0V236.3H99.0zM151.0 234.3H155.0V236.3H151.0zM89.0 236.3H91.0V238.3H89.0zM163.0 236.3H165.0V238.3H163.0zM83.0 238.3H85.0V240.3H83.0zM169.0 238.3H171.0V240.3H169.0zM79.0 240.3H81.0V242.3H79.0zM173.0 240.3H175.0V242.3H173.0zM179.0 246.3H181.0V248.3H179.0zM71.0 248.3H73.0V250.3H71.0zM71.0 250.3H73.0V252.3H71.0zM181.0 250.3H183.0V252.3H181.0zM181.0 252.3H183.0V254.3H181.0zM181.0 254.3H183.0V256.3H181.0zM181.0 256.3H183.0V258.3H181.0zM181.0 258.3H183.0V260.3H181.0zM181.0 260.3H183.0V262.3H181.0zM71.0 262.3H73.0V264.3H71.0zM181.0 262.3H183.0V264.3H181.0zM71.0 264.3H73.0V266.3H71.0zM179.0 266.3H181.0V268.3H179.0zM79.0 272.3H81.0V274.3H79.0zM173.0 272.3H175.0V274.3H173.0zM83.0 274.3H85.0V276.3H83.0zM169.0 274.3H171.0V276.3H169.0zM89.0 276.3H91.0V278.3H89.0zM163.0 276.3H165.0V278.3H163.0zM99.0 278.3H103.0V280.3H99.0zM151.0 278.3H155.0V280.3H151.0z"/>
<path fill="#efff08" d="M103.0 234.3H107.0V236.3H103.0zM145.0 234.3H151.0V236.3H145.0zM91.0 236.3H93.0V238.3H91.0zM161.0 236.3H163.0V238.3H161.0zM167.0 238.3H169.0V240.3H167.0zM171.0 240.3H173.0V242.3H171.0zM77.0 242.3H79.0V244.3H77.0zM175.0 242.3H177.0V244.3H175.0zM75.0 244.3H77.0V246.3H75.0zM177.0 244.3H179.0V246.3H177.0zM73.0 246.3H75.0V248.3H73.0zM179.0 248.3H181.0V250.3H179.0zM71.0 252.3H73.0V254.3H71.0zM71.0 254.3H73.0V256.3H71.0zM71.0 256.3H73.0V258.3H71.0zM71.0 258.3H73.0V260.3H71.0zM71.0 260.3H73.0V262.3H71.0zM179.0 264.3H181.0V266.3H179.0zM73.0 266.3H75.0V268.3H73.0zM75.0 268.3H77.0V270.3H75.0zM177.0 268.3H179.0V270.3H177.0zM77.0 270.3H79.0V272.3H77.0zM175.0 270.3H177.0V272.3H175.0zM171.0 272.3H173.0V274.3H171.0zM167.0 274.3H169.0V276.3H167.0zM91.0 276.3H93.0V278.3H91.0zM161.0 276.3H163.0V278.3H161.0zM103.0 278.3H107.0V280.3H103.0zM145.0 278.3H151.0V280.3H145.0z"/>
<path fill="#f7f600" d="M107.0 234.3H119.0V236.3H107.0zM135.0 234.3H145.0V236.3H135.0zM93.0 236.3H95.0V238.3H93.0zM159.0 236.3H161.0V238.3H159.0zM85.0 238.3H87.0V240.3H85.0zM165.0 238.3H167.0V240.3H165.0zM81.0 240.3H83.0V242.3H81.0zM173.0 242.3H175.0V244.3H173.0zM177.0 246.3H179.0V248.3H177.0zM73.0 248.3H75.0V250.3H73.0zM73.0 250.3H75.0V252.3H73.0zM179.0 250.3H181.0V252.3H179.0zM179.0 252.3H181.0V254.3H179.0zM179.0 254.3H181.0V256.3H179.0zM179.0 256.3H181.0V258.3H179.0zM179.0 258.3H181.0V260.3H179.0zM179.0 260.3H181.0V262.3H179.0zM73.0 262.3H75.0V264.3H73.0zM179.0 262.3H181.0V264.3H179.0zM73.0 264.3H75.0V266.3H73.0zM177.0 266.3H179.0V268.3H177.0zM173.0 270.3H175.0V272.3H173.0zM81.0 272.3H83.0V274.3H81.0zM85.0 274.3H87.0V276.3H85.0zM165.0 274.3H167.0V276.3H165.0zM93.0 276.3H95.0V278.3H93.0zM159.0 276.3H161.0V278.3H159.0zM107.0 278.3H119.0V280.3H107.0zM135.0 278.3H145.0V280.3H135.0z"/>
<path fill="#ffec00" d="M119.0 234.3H135.0V236.3H119.0zM95.0 236.3H97.0V238.3H95.0zM155.0 236.3H159.0V238.3H155.0zM87.0 238.3H89.0V240.3H87.0zM83.0 240.3H85.0V242.3H83.0zM169.0 240.3H171.0V242.3H169.0zM79.0 242.3H81.0V244.3H79.0zM77.0 244.3H79.0V246.3H77.0zM175.0 244.3H177.0V246.3H175.0zM75.0 246.3H77.0V248.3H75.0zM177.0 248.3H179.0V250.3H177.0zM73.0 252.3H75.0V254.3H73.0zM73.0 254.3H75.0V256.3H73.0zM73.0 256.3H75.0V258.3H73.0zM73.0 258.3H75.0V260.3H73.0zM73.0 260.3H75.0V262.3H73.0zM177.0 264.3H179.0V266.3H177.0zM75.0 266.3H77.0V268.3H75.0zM77.0 268.3H79.0V270.3H77.0zM175.0 268.3H177.0V270.3H175.0zM79.0 270.3H81.0V272.3H79.0zM83.0 272.3H85.0V274.3H83.0zM169.0 272.3H171.0V274.3H169.0zM87.0 274.3H89.0V276.3H87.0zM95.0 276.3H97.0V278.3H95.0zM155.0 276.3H159.0V278.3H155.0zM119.0 278.3H135.0V280.3H119.0z"/>
<path fill="#ffe300" d="M97.0 236.3H101.0V238.3H97.0zM153.0 236.3H155.0V238.3H153.0zM89.0 238.3H91.0V240.3H89.0zM163.0 238.3H165.0V240.3H163.0zM167.0 240.3H169.0V242.3H167.0zM81.0 242.3H83.0V244.3H81.0zM171.0 242.3H173.0V244.3H171.0zM173.0 244.3H175.0V246.3H173.0zM77.0 246.3H79.0V248.3H77.0zM175.0 246.3H177.0V248.3H175.0zM75.0 248.3H77.0V250.3H75.0zM75.0 250.3H77.0V252.3H75.0zM177.0 250.3H179.0V252.3H177.0zM177.0 252.3H179.0V254.3H177.0zM177.0 254.3H179.0V256.3H177.0zM177.0 256.3H179.0V258.3H177.0zM177.0 258.3H179.0V260.3H177.0zM177.0 260.3H179.0V262.3H177.0zM75.0 262.3H77.0V264.3H75.0zM177.0 262.3H179.0V264.3H177.0zM75.0 264.3H77.0V266.3H75.0zM77.0 266.3H79.0V268.3H77.0zM175.0 266.3H177.0V268.3H175.0zM173.0 268.3H175.0V270.3H173.0zM81.0 270.3H83.0V272.3H81.0zM171.0 270.3H173.0V272.3H171.0zM167.0 272.3H169.0V274.3H167.0zM89.0 274.3H91.0V276.3H89.0zM163.0 274.3H165.0V276.3H163.0zM97.0 276.3H101.0V278.3H97.0zM153.0 276.3H155.0V278.3H153.0z"/>
<path fill="#ffd900" d="M101.0 236.3H105.0V238.3H101.0zM147.0 236.3H153.0V238.3H147.0zM91.0 238.3H93.0V240.3H91.0zM159.0 238.3H163.0V240.3H159.0zM85.0 240.3H87.0V242.3H85.0zM165.0 240.3H167.0V242.3H165.0zM169.0 242.3H171.0V244.3H169.0zM79.0 244.3H81.0V246.3H79.0zM77.0 248.3H79.0V250.3H77.0zM175.0 248.3H177.0V250.3H175.0zM175.0 250.3H177.0V252.3H175.0zM75.0 252.3H77.0V254.3H75.0zM75.0 254.3H77.0V256.3H75.0zM75.0 256.3H77.0V258.3H75.0zM75.0 258.3H77.0V260.3H75.0zM75.0 260.3H77.0V262.3H75.0zM175.0 262.3H177.0V264.3H175.0zM77.0 264.3H79.0V266.3H77.0zM175.0 264.3H177.0V266.3H175.0zM79.0 268.3H81.0V270.3H79.0zM169.0 270.3H171.0V272.3H169.0zM85.0 272.3H87.0V274.3H85.0zM165.0 272.3H167.0V274.3H165.0zM91.0 274.3H93.0V276.3H91.0zM159.0 274.3H163.0V276.3H159.0zM101.0 276.3H105.0V278.3H101.0zM147.0 276.3H153.0V278.3H147.0z"/>
<path fill="#ffd000" d="M105.0 236.3H113.0V238.3H105.0zM141.0 236.3H147.0V238.3H141.0zM93.0 238.3H97.0V240.3H93.0zM157.0 238.3H159.0V240.3H157.0zM87.0 240.3H89.0V242.3H87.0zM83.0 242.3H85.0V244.3H83.0zM81.0 244.3H83.0V246.3H81.0zM171.0 244.3H173.0V246.3H171.0zM79.0 246.3H81.0V248.3H79.0zM173.0 246.3H175.0V248.3H173.0zM173.0 248.3H175.0V250.3H173.0zM77.0 250.3H79.0V252.3H77.0zM77.0 252.3H79.0V254.3H77.0zM175.0 252.3H177.0V254.3H175.0zM77.0 254.3H79.0V256.3H77.0zM175.0 254.3H177.0V256.3H175.0zM77.0 256.3H79.0V258.3H77.0zM175.0 256.3H177.0V258.3H175.0zM77.0 258.3H79.0V260.3H77.0zM175.0 258.3H177.0V260.3H175.0zM77.0 260.3H79.0V262.3H77.0zM175.0 260.3H177.0V262.3H175.0zM77.0 262.3H79.0V264.3H77.0zM173.0 264.3H175.0V266.3H173.0zM79.0 266.3H81.0V268.3H79.0zM173.0 266.3H175.0V268.3H173.0zM81.0 268.3H83.0V270.3H81.0zM171.0 268.3H173.0V270.3H171.0zM83.0 270.3H85.0V272.3H83.0zM87.0 272.3H89.0V274.3H87.0zM93.0 274.3H97.0V276.3H93.0zM157.0 274.3H159.0V276.3H157.0zM105.0 276.3H113.0V278.3H105.0zM141.0 276.3H147.0V278.3H141.0z"/>
<path fill="#ffc600" d="M113.0 236.3H141.0V238.3H113.0zM97.0 238.3H99.0V240.3H97.0zM155.0 238.3H157.0V240.3H155.0zM89.0 240.3H91.0V242.3H89.0zM161.0 240.3H165.0V242.3H161.0zM85.0 242.3H87.0V244.3H85.0zM167.0 242.3H169.0V244.3H167.0zM83.0 244.3H85.0V246.3H83.0zM169.0 244.3H171.0V246.3H169.0zM81.0 246.3H83.0V248.3H81.0zM171.0 246.3H173.0V248.3H171.0zM79.0 248.3H81.0V250.3H79.0zM79.0 250.3H81.0V252.3H79.0zM173.0 250.3H175.0V252.3H173.0zM173.0 252.3H175.0V254.3H173.0zM173.0 254.3H175.0V256.3H173.0zM173.0 258.3H175.0V260.3H173.0zM173.0 260.3H175.0V262.3H173.0zM79.0 262.3H81.0V264.3H79.0zM173.0 262.3H175.0V264.3H173.0zM79.0 264.3H81.0V266.3H79.0zM81.0 266.3H83.0V268.3H81.0zM171.0 266.3H173.0V268.3H171.0zM83.0 268.3H85.0V270.3H83.0zM169.0 268.3H171.0V270.3H169.0zM85.0 270.3H87.0V272.3H85.0zM167.0 270.3H169.0V272.3H167.0zM89.0 272.3H91.0V274.3H89.0zM161.0 272.3H165.0V274.3H161.0zM97.0 274.3H99.0V276.3H97.0zM155.0 274.3H157.0V276.3H155.0zM113.0 276.3H141.0V278.3H113.0z"/>
<path fill="#ffbd00" d="M99.0 238.3H103.0V240.3H99.0zM151.0 238.3H155.0V240.3H151.0zM91.0 240.3H93.0V242.3H91.0zM159.0 240.3H161.0V242.3H159.0zM87.0 242.3H89.0V244.3H87.0zM165.0 242.3H167.0V244.3H165.0zM167.0 244.3H169.0V246.3H167.0zM169.0 246.3H171.0V248.3H169.0zM81.0 248.3H83.0V250.3H81.0zM171.0 248.3H173.0V250.3H171.0zM79.0 252.3H81.0V254.3H79.0zM79.0 254.3H81.0V256.3H79.0zM79.0 256.3H81.0V258.3H79.0zM173.0 256.3H175.0V258.3H173.0zM79.0 258.3H81.0V260.3H79.0zM79.0 260.3H81.0V262.3H79.0zM81.0 264.3H83.0V266.3H81.0zM171.0 264.3H173.0V266.3H171.0zM169.0 266.3H171.0V268.3H169.0zM167.0 268.3H169.0V270.3H167.0zM87.0 270.3H89.0V272.3H87.0zM165.0 270.3H167.0V272.3H165.0zM91.0 272.3H93.0V274.3H91.0zM159.0 272.3H161.0V274.3H159.0zM99.0 274.3H103.0V276.3H99.0zM151.0 274.3H155.0V276.3H151.0z"/>
<path fill="#ffb300" d="M103.0 238.3H109.0V240.3H103.0zM145.0 238.3H151.0V240.3H145.0zM93.0 240.3H97.0V242.3H93.0zM157.0 240.3H159.0V242.3H157.0zM89.0 242.3H91.0V244.3H89.0zM163.0 242.3H165.0V244.3H163.0zM85.0 244.3H87.0V246.3H85.0zM83.0 246.3H85.0V248.3H83.0zM169.0 248.3H171.0V250.3H169.0zM81.0 250.3H83.0V252.3H81.0zM171.0 250.3H173.0V252.3H171.0zM81.0 252.3H83.0V254.3H81.0zM171.0 252.3H173.0V254.3H171.0zM81.0 254.3H83.0V256.3H81.0zM171.0 254.3H173.0V256.3H171.0zM81.0 256.3H83.0V258.3H81.0zM171.0 256.3H173.0V258.3H171.0zM81.0 258.3H83.0V260.3H81.0zM171.0 258.3H173.0V260.3H171.0zM81.0 260.3H83.0V262.3H81.0zM171.0 260.3H173.0V262.3H171.0zM81.0 262.3H83.0V264.3H81.0zM171.0 262.3H173.0V264.3H171.0zM169.0 264.3H171.0V266.3H169.0zM83.0 266.3H85.0V268.3H83.0zM85.0 268.3H87.0V270.3H85.0zM89.0 270.3H91.0V272.3H89.0zM163.0 270.3H165.0V272.3H163.0zM93.0 272.3H97.0V274.3H93.0zM157.0 272.3H159.0V274.3H157.0zM103.0 274.3H109.0V276.3H103.0zM145.0 274.3H151.0V276.3H145.0z"/>
<path fill="#ffaa00" d="M109.0 238.3H145.0V240.3H109.0zM97.0 240.3H99.0V242.3H97.0zM153.0 240.3H157.0V242.3H153.0zM91.0 242.3H93.0V244.3H91.0zM161.0 242.3H163.0V244.3H161.0zM87.0 244.3H89.0V246.3H87.0zM165.0 244.3H167.0V246.3H165.0zM85.0 246.3H87.0V248.3H85.0zM167.0 246.3H169.0V248.3H167.0zM83.0 248.3H85.0V250.3H83.0zM83.0 250.3H85.0V252.3H83.0zM169.0 250.3H171.0V252.3H169.0zM169.0 252.3H171.0V254.3H169.0zM169.0 254.3H171.0V256.3H169.0zM169.0 256.3H171.0V258.3H169.0zM169.0 258.3H171.0V260.3H169.0zM169.0 260.3H171.0V262.3H169.0zM83.0 262.3H85.0V264.3H83.0zM169.0 262.3H171.0V264.3H169.0zM83.0 264.3H85.0V266.3H83.0zM85.0 266.3H87.0V268.3H85.0zM167.0 266.3H169.0V268.3H167.0zM87.0 268.3H89.0V270.3H87.0zM165.0 268.3H167.0V270.3H165.0zM91.0 270.3H93.0V272.3H91.0zM161.0 270.3H163.0V272.3H161.0zM97.0 272.3H99.0V274.3H97.0zM153.0 272.3H157.0V274.3H153.0zM109.0 274.3H145.0V276.3H109.0z"/>
<path fill="#ffa100" d="M99.0 240.3H103.0V242.3H99.0zM149.0 240.3H153.0V242.3H149.0zM93.0 242.3H95.0V244.3H93.0zM157.0 242.3H161.0V244.3H157.0zM89.0 244.3H91.0V246.3H89.0zM163.0 244.3H165.0V246.3H163.0zM87.0 246.3H89.0V248.3H87.0zM165.0 246.3H167.0V248.3H165.0zM85.0 248.3H87.0V250.3H85.0zM167.0 248.3H169.0V250.3H167.0zM167.0 250.3H169.0V252.3H167.0zM83.0 252.3H85.0V254.3H83.0zM83.0 254.3H85.0V256.3H83.0zM83.0 256.3H85.0V258.3H83.0zM83.0 258.3H85.0V260.3H83.0zM83.0 260.3H85.0V262.3H83.0zM167.0 262.3H169.0V264.3H167.0zM85.0 264.3H87.0V266.3H85.0zM167.0 264.3H169.0V266.3H167.0zM87.0 266.3H89.0V268.3H87.0zM165.0 266.3H167.0V268.3H165.0zM89.0 268.3H91.0V270.3H89.0zM163.0 268.3H165.0V270.3H163.0zM93.0 270.3H95.0V272.3H93.0zM157.0 270.3H161.0V272.3H157.0zM99.0 272.3H103.0V274.3H99.0zM149.0 272.3H153.0V274.3H149.0z"/>
<path fill="#ff9700" d="M103.0 240.3H109.0V242.3H103.0zM145.0 240.3H149.0V242.3H145.0zM95.0 242.3H99.0V244.3H95.0zM155.0 242.3H157.0V244.3H155.0zM91.0 244.3H93.0V246.3H91.0zM159.0 244.3H163.0V246.3H159.0zM89.0 246.3H91.0V248.3H89.0zM163.0 246.3H165.0V248.3H163.0zM87.0 248.3H89.0V250.3H87.0zM165.0 248.3H167.0V250.3H165.0zM85.0 250.3H87.0V252.3H85.0zM165.0 250.3H167.0V252.3H165.0zM85.0 252.3H87.0V254.3H85.0zM167.0 252.3H169.0V254.3H167.0zM85.0 254.3H87.0V256.3H85.0zM167.0 254.3H169.0V256.3H167.0zM85.0 256.3H87.0V258.3H85.0zM167.0 256.3H169.0V258.3H167.0zM85.0 258.3H87.0V260.3H85.0zM167.0 258.3H169.0V260.3H167.0zM85.0 260.3H87.0V262.3H85.0zM167.0 260.3H169.0V262.3H167.0zM85.0 262.3H87.0V264.3H85.0zM165.0 262.3H167.0V264.3H165.0zM87.0 264.3H89.0V266.3H87.0zM165.0 264.3H167.0V266.3H165.0zM89.0 266.3H91.0V268.3H89.0zM163.0 266.3H165.0V268.3H163.0zM91.0 268.3H93.0V270.3H91.0zM159.0 268.3H163.0V270.3H159.0zM95.0 270.3H99.0V272.3H95.0zM155.0 270.3H157.0V272.3H155.0zM103.0 272.3H109.0V274.3H103.0zM145.0 272.3H149.0V274.3H145.0z"/>
<path fill="#ff8e00" d="M109.0 240.3H145.0V242.3H109.0zM99.0 242.3H101.0V244.3H99.0zM151.0 242.3H155.0V244.3H151.0zM93.0 244.3H95.0V246.3H93.0zM157.0 244.3H159.0V246.3H157.0zM91.0 246.3H93.0V248.3H91.0zM161.0 246.3H163.0V248.3H161.0zM89.0 248.3H91.0V250.3H89.0zM163.0 248.3H165.0V250.3H163.0zM87.0 250.3H89.0V252.3H87.0zM163.0 250.3H165.0V252.3H163.0zM87.0 252.3H89.0V254.3H87.0zM165.0 252.3H167.0V254.3H165.0zM87.0 254.3H89.0V256.3H87.0zM165.0 254.3H167.0V256.3H165.0zM87.0 256.3H89.0V258.3H87.0zM165.0 256.3H167.0V258.3H165.0zM87.0 258.3H89.0V260.3H87.0zM165.0 258.3H167.0V260.3H165.0zM87.0 260.3H89.0V262.3H87.0zM165.0 260.3H167.0V262.3H165.0zM87.0 262.3H89.0V264.3H87.0zM163.0 262.3H165.0V264.3H163.0zM89.0 264.3H91.0V266.3H89.0zM163.0 264.3H165.0V266.3H163.0zM91.0 266.3H93.0V268.3H91.0zM161.0 266.3H163.0V268.3H161.0zM93.0 268.3H95.0V270.3H93.0zM157.0 268.3H159.0V270.3H157.0zM99.0 270.3H101.0V272.3H99.0zM151.0 270.3H155.0V272.3H151.0zM109.0 272.3H145.0V274.3H109.0z"/>
<path fill="#ff8400" d="M101.0 242.3H107.0V244.3H101.0zM147.0 242.3H151.0V244.3H147.0zM95.0 244.3H99.0V246.3H95.0zM155.0 244.3H157.0V246.3H155.0zM93.0 246.3H95.0V248.3H93.0zM159.0 246.3H161.0V248.3H159.0zM91.0 248.3H93.0V250.3H91.0zM161.0 248.3H163.0V250.3H161.0zM89.0 250.3H91.0V252.3H89.0zM161.0 250.3H163.0V252.3H161.0zM89.0 252.3H91.0V254.3H89.0zM163.0 252.3H165.0V254.3H163.0zM89.0 254.3H91.0V256.3H89.0zM163.0 254.3H165.0V256.3H163.0zM89.0 256.3H91.0V258.3H89.0zM163.0 256.3H165.0V258.3H163.0zM89.0 258.3H91.0V260.3H89.0zM163.0 258.3H165.0V260.3H163.0zM89.0 260.3H91.0V262.3H89.0zM163.0 260.3H165.0V262.3H163.0zM89.0 262.3H91.0V264.3H89.0zM161.0 262.3H163.0V264.3H161.0zM91.0 264.3H93.0V266.3H91.0zM161.0 264.3H163.0V266.3H161.0zM93.0 266.3H95.0V268.3H93.0zM159.0 266.3H161.0V268.3H159.0zM95.0 268.3H99.0V270.3H95.0zM155.0 268.3H157.0V270.3H155.0zM101.0 270.3H107.0V272.3H101.0zM147.0 270.3H151.0V272.3H147.0z"/>
<path fill="#ff7b00" d="M107.0 242.3H115.0V244.3H107.0zM139.0 242.3H147.0V244.3H139.0zM99.0 244.3H103.0V246.3H99.0zM151.0 244.3H155.0V246.3H151.0zM95.0 246.3H97.0V248.3H95.0zM155.0 246.3H159.0V248.3H155.0zM93.0 248.3H95.0V250.3H93.0zM159.0 248.3H161.0V250.3H159.0zM91.0 250.3H93.0V252.3H91.0zM159.0 250.3H161.0V252.3H159.0zM91.0 252.3H93.0V254.3H91.0zM161.0 252.3H163.0V254.3H161.0zM91.0 254.3H93.0V256.3H91.0zM161.0 254.3H163.0V256.3H161.0zM91.0 256.3H93.0V258.3H91.0zM161.0 256.3H163.0V258.3H161.0zM91.0 258.3H93.0V260.3H91.0zM161.0 258.3H163.0V260.3H161.0zM91.0 260.3H93.0V262.3H91.0zM161.0 260.3H163.0V262.3H161.0zM91.0 262.3H93.0V264.3H91.0zM159.0 262.3H161.0V264.3H159.0zM93.0 264.3H95.0V266.3H93.0zM159.0 264.3H161.0V266.3H159.0zM95.0 266.3H97.0V268.3H95.0zM155.0 266.3H159.0V268.3H155.0zM99.0 268.3H103.0V270.3H99.0zM151.0 268.3H155.0V270.3H151.0zM107.0 270.3H115.0V272.3H107.0zM139.0 270.3H147.0V272.3H139.0z"/>
<path fill="#ff7100" d="M115.0 242.3H139.0V244.3H115.0zM103.0 244.3H107.0V246.3H103.0zM147.0 244.3H151.0V246.3H147.0zM97.0 246.3H101.0V248.3H97.0zM153.0 246.3H155.0V248.3H153.0zM95.0 248.3H97.0V250.3H95.0zM155.0 248.3H159.0V250.3H155.0zM93.0 250.3H95.0V252.3H93.0zM157.0 250.3H159.0V252.3H157.0zM93.0 252.3H95.0V254.3H93.0zM159.0 252.3H161.0V254.3H159.0zM93.0 254.3H95.0V256.3H93.0zM159.0 254.3H161.0V256.3H159.0zM93.0 256.3H95.0V258.3H93.0zM159.0 256.3H161.0V258.3H159.0zM93.0 258.3H95.0V260.3H93.0zM159.0 258.3H161.0V260.3H159.0zM93.0 260.3H95.0V262.3H93.0zM159.0 260.3H161.0V262.3H159.0zM93.0 262.3H95.0V264.3H93.0zM157.0 262.3H159.0V264.3H157.0zM95.0 264.3H97.0V266.3H95.0zM155.0 264.3H159.0V266.3H155.0zM97.0 266.3H101.0V268.3H97.0zM153.0 266.3H155.0V268.3H153.0zM103.0 268.3H107.0V270.3H103.0zM147.0 268.3H151.0V270.3H147.0zM115.0 270.3H139.0V272.3H115.0z"/>
<path fill="#ff6800" d="M107.0 244.3H115.0V246.3H107.0zM139.0 244.3H147.0V246.3H139.0zM101.0 246.3H105.0V248.3H101.0zM149.0 246.3H153.0V248.3H149.0zM97.0 248.3H101.0V250.3H97.0zM153.0 248.3H155.0V250.3H153.0zM95.0 250.3H99.0V252.3H95.0zM155.0 250.3H157.0V252.3H155.0zM95.0 252.3H97.0V254.3H95.0zM155.0 252.3H159.0V254.3H155.0zM95.0 254.3H97.0V256.3H95.0zM157.0 254.3H159.0V256.3H157.0zM95.0 256.3H97.0V258.3H95.0zM157.0 256.3H159.0V258.3H157.0zM95.0 258.3H97.0V260.3H95.0zM157.0 258.3H159.0V260.3H157.0zM95.0 260.3H97.0V262.3H95.0zM155.0 260.3H159.0V262.3H155.0zM95.0 262.3H99.0V264.3H95.0zM155.0 262.3H157.0V264.3H155.0zM97.0 264.3H101.0V266.3H97.0zM153.0 264.3H155.0V266.3H153.0zM101.0 266.3H105.0V268.3H101.0zM149.0 266.3H153.0V268.3H149.0zM107.0 268.3H115.0V270.3H107.0zM139.0 268.3H147.0V270.3H139.0z"/>
<path fill="#ff5e00" d="M115.0 244.3H139.0V246.3H115.0zM105.0 246.3H109.0V248.3H105.0zM143.0 246.3H149.0V248.3H143.0zM101.0 248.3H105.0V250.3H101.0zM149.0 248.3H153.0V250.3H149.0zM99.0 250.3H101.0V252.3H99.0zM151.0 250.3H155.0V252.3H151.0zM97.0 252.3H101.0V254.3H97.0zM153.0 252.3H155.0V254.3H153.0zM97.0 254.3H99.0V256.3H97.0zM153.0 254.3H157.0V256.3H153.0zM97.0 256.3H99.0V258.3H97.0zM153.0 256.3H157.0V258.3H153.0zM97.0 258.3H99.0V260.3H97.0zM153.0 258.3H157.0V260.3H153.0zM97.0 260.3H101.0V262.3H97.0zM153.0 260.3H155.0V262.3H153.0zM99.0 262.3H101.0V264.3H99.0zM151.0 262.3H155.0V264.3H151.0zM101.0 264.3H105.0V266.3H101.0zM149.0 264.3H153.0V266.3H149.0zM105.0 266.3H109.0V268.3H105.0zM143.0 266.3H149.0V268.3H143.0zM115.0 268.3H139.0V270.3H115.0z"/>
<path fill="#ff5500" d="M109.0 246.3H143.0V248.3H109.0zM105.0 248.3H109.0V250.3H105.0zM145.0 248.3H149.0V250.3H145.0zM101.0 250.3H105.0V252.3H101.0zM149.0 250.3H151.0V252.3H149.0zM101.0 252.3H103.0V254.3H101.0zM149.0 252.3H153.0V254.3H149.0zM99.0 254.3H103.0V256.3H99.0zM151.0 254.3H153.0V256.3H151.0zM99.0 256.3H103.0V258.3H99.0zM151.0 256.3H153.0V258.3H151.0zM99.0 258.3H103.0V260.3H99.0zM151.0 258.3H153.0V260.3H151.0zM101.0 260.3H103.0V262.3H101.0zM149.0 260.3H153.0V262.3H149.0zM101.0 262.3H105.0V264.3H101.0zM149.0 262.3H151.0V264.3H149.0zM105.0 264.3H109.0V266.3H105.0zM145.0 264.3H149.0V266.3H145.0zM109.0 266.3H143.0V268.3H109.0z"/>
<path fill="#ff4c00" d="M109.0 248.3H117.0V250.3H109.0zM137.0 248.3H145.0V250.3H137.0zM105.0 250.3H109.0V252.3H105.0zM143.0 250.3H149.0V252.3H143.0zM103.0 252.3H107.0V254.3H103.0zM147.0 252.3H149.0V254.3H147.0zM103.0 254.3H107.0V256.3H103.0zM147.0 254.3H151.0V256.3H147.0zM103.0 256.3H107.0V258.3H103.0zM147.0 256.3H151.0V258.3H147.0zM103.0 258.3H107.0V260.3H103.0zM147.0 258.3H151.0V260.3H147.0zM103.0 260.3H107.0V262.3H103.0zM147.0 260.3H149.0V262.3H147.0zM105.0 262.3H109.0V264.3H105.0zM143.0 262.3H149.0V264.3H143.0zM109.0 264.3H117.0V266.3H109.0zM137.0 264.3H145.0V266.3H137.0z"/>
<path fill="#ff4200" d="M117.0 248.3H137.0V250.3H117.0zM109.0 250.3H117.0V252.3H109.0zM135.0 250.3H143.0V252.3H135.0zM107.0 252.3H113.0V254.3H107.0zM141.0 252.3H147.0V254.3H141.0zM107.0 254.3H111.0V256.3H107.0zM143.0 254.3H147.0V256.3H143.0zM107.0 256.3H111.0V258.3H107.0zM143.0 256.3H147.0V258.3H143.0zM107.0 258.3H111.0V260.3H107.0zM143.0 258.3H147.0V260.3H143.0zM107.0 260.3H113.0V262.3H107.0zM141.0 260.3H147.0V262.3H141.0zM109.0 262.3H117.0V264.3H109.0zM135.0 262.3H143.0V264.3H135.0zM117.0 264.3H137.0V266.3H117.0z"/>
<path fill="#ff3900" d="M117.0 250.3H135.0V252.3H117.0zM113.0 252.3H141.0V254.3H113.0zM111.0 254.3H119.0V256.3H111.0zM135.0 254.3H143.0V256.3H135.0zM111.0 256.3H117.0V258.3H111.0zM135.0 256.3H143.0V258.3H135.0zM111.0 258.3H119.0V260.3H111.0zM135.0 258.3H143.0V260.3H135.0zM113.0 260.3H141.0V262.3H113.0zM117.0 262.3H135.0V264.3H117.0z"/>
<path fill="#ff2f00" d="M119.0 254.3H135.0V256.3H119.0zM117.0 256.3H135.0V258.3H117.0zM119.0 258.3H135.0V260.3H119.0z"/>
<path fill="#0000c5" d="M301.2 305.3H368.5V307.6H301.2zM301.2 307.6H368.5V309.9H301.2z"/>
<path fill="#0005ff" d="M305.8 199.2H310.5V201.5H305.8zM359.2 199.2H363.8V201.5H359.2zM298.9 201.5H310.5V203.8H298.9zM359.2 201.5H370.8V203.8H359.2zM298.9 203.8H305.8V206.1H298.9zM363.8 203.8H370.8V206.1H363.8zM298.9 206.1H303.5V208.4H298.9zM366.2 206.1H370.8V208.4H366.2zM298.9 208.4H303.5V210.7H298.9zM368.5 208.4H370.8V210.7H368.5zM298.9 210.7H301.2V213.0H298.9zM368.5 210.7H373.1V213.0H368.5zM298.9 213.0H301.2V215.3H298.9zM368.5 213.0H373.1V215.3H368.5zM298.9 215.3H303.5V217.6H298.9zM368.5 215.3H373.1V217.6H368.5zM298.9 217.6H301.2V219.9H298.9zM368.5 217.6H373.1V219.9H368.5zM370.8 219.9H373.1V222.2H370.8zM296.6 233.8H298.9V236.1H296.6zM296.6 256.8H301.2V259.2H296.6zM368.5 256.8H373.1V259.2H368.5zM296.6 259.2H301.2V261.5H296.6zM368.5 259.2H373.1V261.5H368.5zM296.6 263.8H298.9V266.1H296.6zM370.8 263.8H373.1V266.1H370.8zM296.6 266.1H298.9V268.4H296.6zM370.8 266.1H373.1V268.4H370.8zM296.6 277.6H301.2V279.9H296.6zM368.5 277.6H373.1V279.9H368.5zM296.6 279.9H298.9V282.2H296.6zM370.8 279.9H373.1V282.2H370.8zM296.6 282.2H298.9V284.5H296.6zM370.8 282.2H373.1V284.5H370.8zM296.6 284.5H298.9V286.8H296.6zM370.8 284.5H373.1V286.8H370.8zM296.6 286.8H298.9V289.1H296.6zM370.8 286.8H373.1V289.1H370.8zM296.6 289.1H301.2V291.4H296.6zM368.5 289.1H373.1V291.4H368.5zM296.6 291.4H303.5V293.8H296.6zM366.2 291.4H373.1V293.8H366.2zM298.9 293.8H305.8V296.1H298.9zM366.2 293.8H373.1V296.1H366.2zM303.5 296.1H312.8V298.4H303.5zM356.9 296.1H366.2V298.4H356.9zM303.5 298.4H312.8V300.7H303.5zM356.9 298.4H366.2V300.7H356.9zM303.5 300.7H317.4V303.0H303.5zM352.2 300.7H366.2V303.0H352.2z"/>
<path fill="#000fff" d="M366.2 215.3H368.5V217.6H366.2zM303.5 291.4H305.8V293.8H303.5z"/>
<path fill="#0019ff" d="M312.8 194.6H356.9V196.9H312.8zM312.8 196.9H356.9V199.2H312.8zM303.5 206.1H305.8V208.4H303.5zM301.2 210.7H303.5V213.0H301.2zM301.2 213.0H303.5V215.3H301.2zM370.8 226.9H373.1V229.2H370.8z"/>
<path fill="#0024ff" d="M310.5 199.2H312.8V201.5H310.5zM298.9 219.9H301.2V222.2H298.9zM370.8 229.2H373.1V231.5H370.8zM370.8 231.5H373.1V233.8H370.8zM370.8 233.8H373.1V236.1H370.8zM296.6 240.7H298.9V243.0H296.6zM296.6 243.0H298.9V245.3H296.6zM296.6 245.3H298.9V247.6H296.6zM296.6 247.6H298.9V249.9H296.6zM296.6 249.9H298.9V252.2H296.6zM296.6 252.2H298.9V254.5H296.6zM296.6 254.5H298.9V256.8H296.6zM301.2 289.1H303.5V291.4H301.2z"/>
<path fill="#002eff" d="M310.5 201.5H312.8V203.8H310.5zM305.8 203.8H308.2V206.1H305.8zM298.9 263.8H301.2V266.1H298.9zM298.9 266.1H301.2V268.4H298.9zM298.9 279.9H301.2V282.2H298.9zM298.9 282.2H301.2V284.5H298.9zM298.9 284.5H301.2V286.8H298.9zM298.9 286.8H301.2V289.1H298.9zM363.8 293.8H366.2V296.1H363.8zM312.8 298.4H315.1V300.7H312.8zM317.4 300.7H319.8V303.0H317.4z"/>
<path fill="#0038ff" d="M366.2 208.4H368.5V210.7H366.2zM296.6 268.4H298.9V270.7H296.6zM296.6 270.7H298.9V273.0H296.6zM296.6 273.0H298.9V275.3H296.6zM296.6 275.3H298.9V277.6H296.6zM301.2 277.6H303.5V279.9H301.2zM363.8 291.4H366.2V293.8H363.8zM312.8 296.1H315.1V298.4H312.8zM319.8 300.7H352.2V303.0H319.8z"/>
<path fill="#0042ff" d="M356.9 199.2H359.2V201.5H356.9zM356.9 201.5H359.2V203.8H356.9zM363.8 206.1H366.2V208.4H363.8zM366.2 210.7H368.5V213.0H366.2zM368.5 219.9H370.8V222.2H368.5zM370.8 240.7H373.1V243.0H370.8zM370.8 243.0H373.1V245.3H370.8zM370.8 245.3H373.1V247.6H370.8zM370.8 247.6H373.1V249.9H370.8zM370.8 249.9H373.1V252.2H370.8zM370.8 252.2H373.1V254.5H370.8zM370.8 254.5H373.1V256.8H370.8z"/>
<path fill="#004dff" d="M361.5 203.8H363.8V206.1H361.5zM366.2 213.0H368.5V215.3H366.2zM303.5 215.3H305.8V217.6H303.5zM301.2 217.6H303.5V219.9H301.2zM298.9 226.9H301.2V229.2H298.9zM298.9 229.2H301.2V231.5H298.9zM296.6 236.1H298.9V238.4H296.6zM301.2 256.8H303.5V259.2H301.2zM301.2 259.2H303.5V261.5H301.2zM366.2 289.1H368.5V291.4H366.2zM354.6 298.4H356.9V300.7H354.6z"/>
<path fill="#0057ff" d="M298.9 231.5H301.2V233.8H298.9zM298.9 233.8H301.2V236.1H298.9zM296.6 238.4H298.9V240.7H296.6zM368.5 263.8H370.8V266.1H368.5zM368.5 266.1H370.8V268.4H368.5zM370.8 268.4H373.1V270.7H370.8zM370.8 270.7H373.1V273.0H370.8zM370.8 273.0H373.1V275.3H370.8zM370.8 275.3H373.1V277.6H370.8zM368.5 279.9H370.8V282.2H368.5zM368.5 282.2H370.8V284.5H368.5zM368.5 284.5H370.8V286.8H368.5zM368.5 286.8H370.8V289.1H368.5zM354.6 296.1H356.9V298.4H354.6z"/>
<path fill="#0061ff" d="M370.8 222.2H373.1V224.6H370.8zM370.8 224.6H373.1V226.9H370.8zM296.6 261.5H298.9V263.8H296.6zM366.2 277.6H368.5V279.9H366.2zM305.8 291.4H308.2V293.8H305.8zM305.8 293.8H308.2V296.1H305.8z"/>
<path fill="#006bff" d="M312.8 199.2H315.1V201.5H312.8zM312.8 201.5H315.1V203.8H312.8zM308.2 203.8H310.5V206.1H308.2zM368.5 226.9H370.8V229.2H368.5z"/>
<path fill="#0075ff" d="M303.5 208.4H305.8V210.7H303.5zM363.8 215.3H366.2V217.6H363.8zM366.2 217.6H368.5V219.9H366.2zM368.5 229.2H370.8V231.5H368.5zM368.5 231.5H370.8V233.8H368.5zM370.8 236.1H373.1V238.4H370.8zM370.8 238.4H373.1V240.7H370.8zM298.9 240.7H301.2V243.0H298.9zM298.9 243.0H301.2V245.3H298.9zM298.9 245.3H301.2V247.6H298.9zM298.9 247.6H301.2V249.9H298.9zM298.9 249.9H301.2V252.2H298.9zM298.9 252.2H301.2V254.5H298.9zM298.9 254.5H301.2V256.8H298.9zM366.2 256.8H368.5V259.2H366.2zM366.2 259.2H368.5V261.5H366.2zM361.5 291.4H363.8V293.8H361.5zM361.5 293.8H363.8V296.1H361.5z"/>
<path fill="#0080ff" d="M305.8 206.1H308.2V208.4H305.8zM303.5 210.7H305.8V213.0H303.5zM368.5 233.8H370.8V236.1H368.5zM370.8 261.5H373.1V263.8H370.8zM303.5 289.1H305.8V291.4H303.5zM315.1 298.4H317.4V300.7H315.1z"/>
<path fill="#008aff" d="M354.6 199.2H356.9V201.5H354.6zM359.2 203.8H361.5V206.1H359.2zM303.5 213.0H305.8V215.3H303.5zM301.2 219.9H303.5V222.2H301.2zM298.9 268.4H301.2V270.7H298.9zM298.9 270.7H301.2V273.0H298.9zM298.9 273.0H301.2V275.3H298.9zM298.9 275.3H301.2V277.6H298.9zM315.1 296.1H317.4V298.4H315.1z"/>
<path fill="#0094ff" d="M354.6 201.5H356.9V203.8H354.6zM298.9 222.2H301.2V224.6H298.9zM298.9 224.6H301.2V226.9H298.9zM308.2 293.8H310.5V296.1H308.2z"/>
<path fill="#009eff" d="M361.5 206.1H363.8V208.4H361.5zM363.8 208.4H366.2V210.7H363.8zM298.9 236.1H301.2V238.4H298.9zM368.5 240.7H370.8V243.0H368.5zM368.5 243.0H370.8V245.3H368.5zM368.5 245.3H370.8V247.6H368.5zM368.5 247.6H370.8V249.9H368.5zM368.5 249.9H370.8V252.2H368.5zM368.5 252.2H370.8V254.5H368.5zM368.5 254.5H370.8V256.8H368.5zM301.2 263.8H303.5V266.1H301.2zM301.2 266.1H303.5V268.4H301.2zM303.5 277.6H305.8V279.9H303.5zM301.2 279.9H303.5V282.2H301.2zM301.2 282.2H303.5V284.5H301.2zM301.2 284.5H303.5V286.8H301.2zM301.2 286.8H303.5V289.1H301.2zM308.2 291.4H310.5V293.8H308.2zM352.2 298.4H354.6V300.7H352.2z"/>
<path fill="#00a8ff" d="M310.5 203.8H312.8V206.1H310.5zM363.8 210.7H366.2V213.0H363.8zM305.8 215.3H308.2V217.6H305.8zM298.9 238.4H301.2V240.7H298.9zM363.8 289.1H366.2V291.4H363.8zM359.2 293.8H361.5V296.1H359.2zM352.2 296.1H354.6V298.4H352.2z"/>
<path fill="#00b2ff" d="M363.8 213.0H366.2V215.3H363.8zM303.5 217.6H305.8V219.9H303.5zM368.5 222.2H370.8V224.6H368.5zM368.5 224.6H370.8V226.9H368.5zM301.2 226.9H303.5V229.2H301.2zM303.5 256.8H305.8V259.2H303.5zM303.5 259.2H305.8V261.5H303.5zM298.9 261.5H301.2V263.8H298.9zM368.5 268.4H370.8V270.7H368.5zM368.5 270.7H370.8V273.0H368.5zM368.5 273.0H370.8V275.3H368.5zM368.5 275.3H370.8V277.6H368.5zM359.2 291.4H361.5V293.8H359.2z"/>
<path fill="#00bdff" d="M315.1 199.2H317.4V201.5H315.1zM308.2 206.1H310.5V208.4H308.2zM361.5 215.3H363.8V217.6H361.5zM366.2 219.9H368.5V222.2H366.2zM301.2 229.2H303.5V231.5H301.2zM301.2 231.5H303.5V233.8H301.2zM301.2 233.8H303.5V236.1H301.2zM363.8 277.6H366.2V279.9H363.8z"/>
<path fill="#00c7ff" d="M315.1 201.5H317.4V203.8H315.1zM356.9 203.8H359.2V206.1H356.9zM368.5 236.1H370.8V238.4H368.5zM368.5 238.4H370.8V240.7H368.5zM366.2 263.8H368.5V266.1H366.2zM366.2 266.1H368.5V268.4H366.2zM366.2 279.9H368.5V282.2H366.2zM366.2 282.2H368.5V284.5H366.2zM366.2 284.5H368.5V286.8H366.2zM366.2 286.8H368.5V289.1H366.2z"/>
<path fill="#00d1ff" d="M359.2 206.1H361.5V208.4H359.2zM363.8 256.8H366.2V259.2H363.8zM363.8 259.2H366.2V261.5H363.8zM305.8 289.1H308.2V291.4H305.8zM310.5 293.8H312.8V296.1H310.5zM317.4 298.4H319.8V300.7H317.4z"/>
<path fill="#00dbff" d="M352.2 199.2H354.6V201.5H352.2zM305.8 208.4H308.2V210.7H305.8zM308.2 215.3H310.5V217.6H308.2zM363.8 217.6H366.2V219.9H363.8zM301.2 240.7H303.5V243.0H301.2zM368.5 261.5H370.8V263.8H368.5zM310.5 291.4H312.8V293.8H310.5zM317.4 296.1H352.2V298.4H317.4zM319.8 298.4H352.2V300.7H319.8z"/>
<path fill="#00e5f7" d="M352.2 201.5H354.6V203.8H352.2zM305.8 210.7H308.2V213.0H305.8zM305.8 213.0H308.2V215.3H305.8zM366.2 226.9H368.5V229.2H366.2zM366.2 229.2H368.5V231.5H366.2zM366.2 231.5H368.5V233.8H366.2zM301.2 243.0H303.5V245.3H301.2zM301.2 245.3H303.5V247.6H301.2zM301.2 247.6H303.5V249.9H301.2zM301.2 249.9H303.5V252.2H301.2zM301.2 252.2H303.5V254.5H301.2zM301.2 254.5H303.5V256.8H301.2zM305.8 277.6H308.2V279.9H305.8zM361.5 289.1H363.8V291.4H361.5z"/>
<path fill="#08f0ef" d="M312.8 203.8H315.1V206.1H312.8zM361.5 208.4H363.8V210.7H361.5zM366.2 233.8H368.5V236.1H366.2zM356.9 291.4H359.2V293.8H356.9zM356.9 293.8H359.2V296.1H356.9z"/>
<path fill="#10fae6" d="M310.5 206.1H312.8V208.4H310.5zM361.5 210.7H363.8V213.0H361.5zM361.5 213.0H363.8V215.3H361.5zM359.2 215.3H361.5V217.6H359.2zM303.5 219.9H305.8V222.2H303.5zM301.2 222.2H303.5V224.6H301.2zM301.2 224.6H303.5V226.9H301.2zM305.8 256.8H308.2V259.2H305.8zM305.8 259.2H308.2V261.5H305.8zM301.2 268.4H303.5V270.7H301.2zM301.2 270.7H303.5V273.0H301.2zM301.2 273.0H303.5V275.3H301.2zM301.2 275.3H303.5V277.6H301.2zM361.5 277.6H363.8V279.9H361.5z"/>
<path fill="#19ffde" d="M303.5 263.8H305.8V266.1H303.5zM303.5 266.1H305.8V268.4H303.5zM303.5 279.9H305.8V282.2H303.5zM303.5 282.2H305.8V284.5H303.5zM303.5 284.5H305.8V286.8H303.5zM303.5 286.8H305.8V289.1H303.5zM308.2 289.1H310.5V291.4H308.2z"/>
<path fill="#21ffd6" d="M317.4 199.2H319.8V201.5H317.4zM354.6 203.8H356.9V206.1H354.6zM305.8 217.6H308.2V219.9H305.8zM301.2 236.1H303.5V238.4H301.2zM301.2 238.4H303.5V240.7H301.2zM366.2 240.7H368.5V243.0H366.2zM366.2 243.0H368.5V245.3H366.2zM366.2 245.3H368.5V247.6H366.2zM366.2 247.6H368.5V249.9H366.2zM366.2 249.9H368.5V252.2H366.2zM366.2 252.2H368.5V254.5H366.2zM366.2 254.5H368.5V256.8H366.2zM361.5 256.8H363.8V259.2H361.5zM361.5 259.2H363.8V261.5H361.5z"/>
<path fill="#29ffce" d="M317.4 201.5H319.8V203.8H317.4zM356.9 206.1H359.2V208.4H356.9zM308.2 208.4H310.5V210.7H308.2zM308.2 210.7H310.5V213.0H308.2zM308.2 213.0H310.5V215.3H308.2zM310.5 215.3H312.8V217.6H310.5zM363.8 219.9H366.2V222.2H363.8zM303.5 226.9H305.8V229.2H303.5zM308.2 277.6H310.5V279.9H308.2zM359.2 289.1H361.5V291.4H359.2zM312.8 293.8H315.1V296.1H312.8z"/>
<path fill="#31ffc5" d="M361.5 217.6H363.8V219.9H361.5zM366.2 222.2H368.5V224.6H366.2zM366.2 224.6H368.5V226.9H366.2zM303.5 229.2H305.8V231.5H303.5zM303.5 231.5H305.8V233.8H303.5zM303.5 233.8H305.8V236.1H303.5zM301.2 261.5H303.5V263.8H301.2zM363.8 263.8H366.2V266.1H363.8zM363.8 266.1H366.2V268.4H363.8zM366.2 268.4H368.5V270.7H366.2zM366.2 270.7H368.5V273.0H366.2zM366.2 273.0H368.5V275.3H366.2zM366.2 275.3H368.5V277.6H366.2zM363.8 279.9H366.2V282.2H363.8zM363.8 282.2H366.2V284.5H363.8zM363.8 284.5H366.2V286.8H363.8zM363.8 286.8H366.2V289.1H363.8zM312.8 291.4H315.1V293.8H312.8z"/>
<path fill="#3affbd" d="M359.2 208.4H361.5V210.7H359.2zM359.2 210.7H361.5V213.0H359.2zM359.2 213.0H361.5V215.3H359.2zM308.2 256.8H310.5V259.2H308.2zM308.2 259.2H310.5V261.5H308.2z"/>
<path fill="#42ffb5" d="M319.8 199.2H352.2V201.5H319.8zM319.8 201.5H352.2V203.8H319.8zM356.9 215.3H359.2V217.6H356.9zM366.2 236.1H368.5V238.4H366.2zM366.2 238.4H368.5V240.7H366.2zM359.2 277.6H361.5V279.9H359.2zM354.6 293.8H356.9V296.1H354.6z"/>
<path fill="#4affad" d="M315.1 203.8H317.4V206.1H315.1zM312.8 206.1H315.1V208.4H312.8zM363.8 226.9H366.2V229.2H363.8zM363.8 229.2H366.2V231.5H363.8zM303.5 240.7H305.8V243.0H303.5zM303.5 243.0H305.8V245.3H303.5zM310.5 289.1H312.8V291.4H310.5zM354.6 291.4H356.9V293.8H354.6z"/>
<path fill="#52ffa5" d="M308.2 217.6H310.5V219.9H308.2zM305.8 219.9H308.2V222.2H305.8zM363.8 231.5H366.2V233.8H363.8zM363.8 233.8H366.2V236.1H363.8zM303.5 245.3H305.8V247.6H303.5zM303.5 247.6H305.8V249.9H303.5zM303.5 249.9H305.8V252.2H303.5zM303.5 252.2H305.8V254.5H303.5zM303.5 254.5H305.8V256.8H303.5zM359.2 256.8H361.5V259.2H359.2zM359.2 259.2H361.5V261.5H359.2zM366.2 261.5H368.5V263.8H366.2zM305.8 263.8H308.2V266.1H305.8zM305.8 266.1H308.2V268.4H305.8zM305.8 279.9H308.2V282.2H305.8zM305.8 282.2H308.2V284.5H305.8zM305.8 284.5H308.2V286.8H305.8zM305.8 286.8H308.2V289.1H305.8z"/>
<path fill="#5aff9c" d="M310.5 208.4H312.8V210.7H310.5zM310.5 210.7H312.8V213.0H310.5zM310.5 213.0H312.8V215.3H310.5zM310.5 277.6H312.8V279.9H310.5z"/>
<path fill="#63ff94" d="M354.6 206.1H356.9V208.4H354.6zM359.2 217.6H361.5V219.9H359.2zM361.5 219.9H363.8V222.2H361.5zM303.5 222.2H305.8V224.6H303.5zM303.5 224.6H305.8V226.9H303.5zM361.5 263.8H363.8V266.1H361.5zM361.5 266.1H363.8V268.4H361.5zM303.5 268.4H305.8V270.7H303.5zM303.5 270.7H305.8V273.0H303.5zM303.5 273.0H305.8V275.3H303.5zM303.5 275.3H305.8V277.6H303.5zM361.5 279.9H363.8V282.2H361.5zM361.5 282.2H363.8V284.5H361.5zM361.5 284.5H363.8V286.8H361.5zM361.5 286.8H363.8V289.1H361.5zM356.9 289.1H359.2V291.4H356.9z"/>
<path fill="#6bff8c" d="M352.2 203.8H354.6V206.1H352.2zM356.9 208.4H359.2V210.7H356.9zM312.8 215.3H315.1V217.6H312.8zM363.8 240.7H366.2V243.0H363.8zM363.8 243.0H366.2V245.3H363.8zM363.8 245.3H366.2V247.6H363.8zM363.8 247.6H366.2V249.9H363.8zM363.8 249.9H366.2V252.2H363.8zM363.8 252.2H366.2V254.5H363.8zM363.8 254.5H366.2V256.8H363.8zM310.5 256.8H312.8V259.2H310.5zM310.5 259.2H312.8V261.5H310.5zM315.1 293.8H317.4V296.1H315.1z"/>
<path fill="#73ff84" d="M356.9 210.7H359.2V213.0H356.9zM356.9 213.0H359.2V215.3H356.9zM305.8 226.9H308.2V229.2H305.8zM305.8 229.2H308.2V231.5H305.8zM305.8 231.5H308.2V233.8H305.8zM305.8 233.8H308.2V236.1H305.8zM303.5 236.1H305.8V238.4H303.5zM303.5 238.4H305.8V240.7H303.5zM356.9 277.6H359.2V279.9H356.9zM315.1 291.4H317.4V293.8H315.1z"/>
<path fill="#7bff7b" d="M308.2 263.8H310.5V266.1H308.2zM308.2 266.1H310.5V268.4H308.2zM363.8 268.4H366.2V270.7H363.8zM363.8 270.7H366.2V273.0H363.8zM363.8 273.0H366.2V275.3H363.8zM363.8 275.3H366.2V277.6H363.8zM308.2 279.9H310.5V282.2H308.2zM308.2 282.2H310.5V284.5H308.2zM308.2 284.5H310.5V286.8H308.2zM308.2 286.8H310.5V289.1H308.2z"/>
<path fill="#84ff73" d="M354.6 215.3H356.9V217.6H354.6zM310.5 217.6H312.8V219.9H310.5zM308.2 219.9H310.5V222.2H308.2zM363.8 222.2H366.2V224.6H363.8zM363.8 224.6H366.2V226.9H363.8zM361.5 226.9H363.8V229.2H361.5zM361.5 229.2H363.8V231.5H361.5zM361.5 231.5H363.8V233.8H361.5zM361.5 233.8H363.8V236.1H361.5zM356.9 256.8H359.2V259.2H356.9zM356.9 259.2H359.2V261.5H356.9zM303.5 261.5H305.8V263.8H303.5zM312.8 289.1H315.1V291.4H312.8zM352.2 293.8H354.6V296.1H352.2z"/>
<path fill="#8cff6b" d="M315.1 206.1H317.4V208.4H315.1zM312.8 208.4H315.1V210.7H312.8zM363.8 236.1H366.2V238.4H363.8zM305.8 240.7H308.2V243.0H305.8zM305.8 243.0H308.2V245.3H305.8zM305.8 245.3H308.2V247.6H305.8zM305.8 247.6H308.2V249.9H305.8zM305.8 249.9H308.2V252.2H305.8zM305.8 252.2H308.2V254.5H305.8zM305.8 254.5H308.2V256.8H305.8zM352.2 291.4H354.6V293.8H352.2z"/>
<path fill="#94ff63" d="M317.4 203.8H319.8V206.1H317.4zM312.8 210.7H315.1V213.0H312.8zM312.8 213.0H315.1V215.3H312.8zM356.9 217.6H359.2V219.9H356.9zM359.2 219.9H361.5V222.2H359.2zM363.8 238.4H366.2V240.7H363.8zM359.2 263.8H361.5V266.1H359.2zM359.2 266.1H361.5V268.4H359.2zM359.2 279.9H361.5V282.2H359.2zM359.2 282.2H361.5V284.5H359.2zM359.2 284.5H361.5V286.8H359.2zM359.2 286.8H361.5V289.1H359.2z"/>
<path fill="#9cff5a" d="M308.2 226.9H310.5V229.2H308.2zM308.2 229.2H310.5V231.5H308.2zM308.2 231.5H310.5V233.8H308.2zM308.2 233.8H310.5V236.1H308.2zM361.5 240.7H363.8V243.0H361.5zM361.5 243.0H363.8V245.3H361.5zM361.5 245.3H363.8V247.6H361.5zM361.5 247.6H363.8V249.9H361.5zM361.5 249.9H363.8V252.2H361.5zM361.5 252.2H363.8V254.5H361.5zM361.5 254.5H363.8V256.8H361.5zM363.8 261.5H366.2V263.8H363.8zM305.8 268.4H308.2V270.7H305.8zM305.8 270.7H308.2V273.0H305.8zM305.8 273.0H308.2V275.3H305.8zM305.8 275.3H308.2V277.6H305.8zM312.8 277.6H315.1V279.9H312.8z"/>
<path fill="#a5ff52" d="M319.8 203.8H352.2V206.1H319.8zM352.2 206.1H354.6V208.4H352.2zM315.1 215.3H317.4V217.6H315.1zM305.8 222.2H308.2V224.6H305.8zM354.6 289.1H356.9V291.4H354.6z"/>
<path fill="#adff4a" d="M354.6 208.4H356.9V210.7H354.6zM354.6 210.7H356.9V213.0H354.6zM305.8 224.6H308.2V226.9H305.8zM359.2 226.9H361.5V229.2H359.2zM305.8 236.1H308.2V238.4H305.8zM305.8 238.4H308.2V240.7H305.8zM312.8 256.8H315.1V259.2H312.8zM312.8 259.2H315.1V261.5H312.8zM310.5 263.8H312.8V266.1H310.5zM310.5 266.1H312.8V268.4H310.5zM361.5 268.4H363.8V270.7H361.5zM361.5 270.7H363.8V273.0H361.5zM361.5 273.0H363.8V275.3H361.5zM361.5 275.3H363.8V277.6H361.5zM310.5 279.9H312.8V282.2H310.5zM310.5 282.2H312.8V284.5H310.5zM310.5 284.5H312.8V286.8H310.5zM310.5 286.8H312.8V289.1H310.5zM317.4 291.4H352.2V293.8H317.4zM317.4 293.8H352.2V296.1H317.4z"/>
<path fill="#b5ff42" d="M354.6 213.0H356.9V215.3H354.6zM310.5 219.9H312.8V222.2H310.5zM359.2 229.2H361.5V231.5H359.2zM359.2 231.5H361.5V233.8H359.2zM359.2 233.8H361.5V236.1H359.2zM308.2 240.7H310.5V243.0H308.2zM308.2 243.0H310.5V245.3H308.2zM308.2 245.3H310.5V247.6H308.2zM308.2 247.6H310.5V249.9H308.2zM308.2 249.9H310.5V252.2H308.2zM308.2 252.2H310.5V254.5H308.2zM308.2 254.5H310.5V256.8H308.2zM354.6 277.6H356.9V279.9H354.6z"/>
<path fill="#bdff3a" d="M312.8 217.6H315.1V219.9H312.8zM361.5 222.2H363.8V224.6H361.5zM361.5 224.6H363.8V226.9H361.5zM361.5 236.1H363.8V238.4H361.5zM305.8 261.5H308.2V263.8H305.8z"/>
<path fill="#c5ff31" d="M352.2 215.3H354.6V217.6H352.2zM356.9 219.9H359.2V222.2H356.9zM361.5 238.4H363.8V240.7H361.5zM359.2 240.7H361.5V243.0H359.2zM359.2 243.0H361.5V245.3H359.2zM354.6 256.8H356.9V259.2H354.6zM354.6 259.2H356.9V261.5H354.6zM356.9 263.8H359.2V266.1H356.9zM356.9 266.1H359.2V268.4H356.9zM308.2 268.4H310.5V270.7H308.2zM308.2 270.7H310.5V273.0H308.2zM308.2 273.0H310.5V275.3H308.2zM308.2 275.3H310.5V277.6H308.2zM356.9 279.9H359.2V282.2H356.9zM356.9 282.2H359.2V284.5H356.9zM356.9 284.5H359.2V286.8H356.9zM356.9 286.8H359.2V289.1H356.9zM315.1 289.1H317.4V291.4H315.1z"/>
<path fill="#ceff29" d="M317.4 206.1H319.8V208.4H317.4zM310.5 226.9H312.8V229.2H310.5zM310.5 229.2H312.8V231.5H310.5zM310.5 231.5H312.8V233.8H310.5zM359.2 245.3H361.5V247.6H359.2zM359.2 247.6H361.5V249.9H359.2zM359.2 249.9H361.5V252.2H359.2zM359.2 252.2H361.5V254.5H359.2zM359.2 254.5H361.5V256.8H359.2zM361.5 261.5H363.8V263.8H361.5z"/>
<path fill="#d6ff21" d="M315.1 208.4H317.4V210.7H315.1zM315.1 210.7H317.4V213.0H315.1zM315.1 213.0H317.4V215.3H315.1zM354.6 217.6H356.9V219.9H354.6zM308.2 222.2H310.5V224.6H308.2zM308.2 224.6H310.5V226.9H308.2zM310.5 233.8H312.8V236.1H310.5zM315.1 277.6H317.4V279.9H315.1z"/>
<path fill="#deff19" d="M319.8 206.1H352.2V208.4H319.8zM308.2 236.1H310.5V238.4H308.2zM308.2 238.4H310.5V240.7H308.2zM359.2 268.4H361.5V270.7H359.2zM359.2 270.7H361.5V273.0H359.2zM359.2 273.0H361.5V275.3H359.2zM359.2 275.3H361.5V277.6H359.2zM352.2 289.1H354.6V291.4H352.2z"/>
<path fill="#e6ff10" d="M317.4 215.3H319.8V217.6H317.4zM359.2 222.2H361.5V224.6H359.2zM359.2 224.6H361.5V226.9H359.2zM356.9 226.9H359.2V229.2H356.9zM356.9 229.2H359.2V231.5H356.9zM356.9 231.5H359.2V233.8H356.9zM356.9 233.8H359.2V236.1H356.9zM310.5 240.7H312.8V243.0H310.5zM310.5 243.0H312.8V245.3H310.5zM310.5 245.3H312.8V247.6H310.5zM310.5 247.6H312.8V249.9H310.5zM310.5 249.9H312.8V252.2H310.5zM310.5 252.2H312.8V254.5H310.5zM310.5 254.5H312.8V256.8H310.5zM315.1 256.8H317.4V259.2H315.1zM315.1 259.2H317.4V261.5H315.1zM308.2 261.5H310.5V263.8H308.2z"/>
<path fill="#efff08" d="M352.2 208.4H354.6V210.7H352.2zM352.2 210.7H354.6V213.0H352.2zM352.2 213.0H354.6V215.3H352.2zM319.8 215.3H352.2V217.6H319.8zM312.8 219.9H315.1V222.2H312.8zM359.2 236.1H361.5V238.4H359.2zM359.2 238.4H361.5V240.7H359.2zM312.8 263.8H315.1V266.1H312.8zM312.8 266.1H315.1V268.4H312.8zM352.2 277.6H354.6V279.9H352.2zM312.8 279.9H315.1V282.2H312.8zM312.8 282.2H315.1V284.5H312.8zM312.8 284.5H315.1V286.8H312.8zM312.8 286.8H315.1V289.1H312.8z"/>
<path fill="#f7f600" d="M310.5 268.4H312.8V270.7H310.5zM310.5 270.7H312.8V273.0H310.5zM310.5 273.0H312.8V275.3H310.5zM310.5 275.3H312.8V277.6H310.5z"/>
<path fill="#ffec00" d="M315.1 217.6H317.4V219.9H315.1zM356.9 240.7H359.2V243.0H356.9zM356.9 243.0H359.2V245.3H356.9zM356.9 245.3H359.2V247.6H356.9zM356.9 247.6H359.2V249.9H356.9zM356.9 249.9H359.2V252.2H356.9zM356.9 252.2H359.2V254.5H356.9zM356.9 254.5H359.2V256.8H356.9zM352.2 256.8H354.6V259.2H352.2zM352.2 259.2H354.6V261.5H352.2zM359.2 261.5H361.5V263.8H359.2zM317.4 289.1H352.2V291.4H317.4z"/>
<path fill="#ffe300" d="M354.6 219.9H356.9V222.2H354.6zM310.5 222.2H312.8V224.6H310.5zM310.5 224.6H312.8V226.9H310.5zM312.8 226.9H315.1V229.2H312.8zM354.6 263.8H356.9V266.1H354.6zM354.6 266.1H356.9V268.4H354.6zM354.6 279.9H356.9V282.2H354.6zM354.6 282.2H356.9V284.5H354.6zM354.6 284.5H356.9V286.8H354.6zM354.6 286.8H356.9V289.1H354.6z"/>
<path fill="#ffd900" d="M312.8 229.2H315.1V231.5H312.8zM312.8 231.5H315.1V233.8H312.8zM312.8 233.8H315.1V236.1H312.8zM310.5 236.1H312.8V238.4H310.5zM310.5 238.4H312.8V240.7H310.5zM356.9 268.4H359.2V270.7H356.9zM356.9 270.7H359.2V273.0H356.9zM356.9 273.0H359.2V275.3H356.9zM356.9 275.3H359.2V277.6H356.9zM317.4 277.6H352.2V279.9H317.4z"/>
<path fill="#ffd000" d="M317.4 208.4H319.8V210.7H317.4zM317.4 210.7H319.8V213.0H317.4zM317.4 213.0H319.8V215.3H317.4zM352.2 217.6H354.6V219.9H352.2zM356.9 222.2H359.2V224.6H356.9zM310.5 261.5H312.8V263.8H310.5z"/>
<path fill="#ffc600" d="M319.8 208.4H352.2V210.7H319.8zM319.8 210.7H352.2V213.0H319.8zM319.8 213.0H352.2V215.3H319.8zM356.9 224.6H359.2V226.9H356.9zM354.6 226.9H356.9V229.2H354.6zM356.9 236.1H359.2V238.4H356.9zM356.9 238.4H359.2V240.7H356.9zM312.8 240.7H315.1V243.0H312.8zM312.8 243.0H315.1V245.3H312.8zM317.4 256.8H352.2V259.2H317.4zM317.4 259.2H352.2V261.5H317.4z"/>
<path fill="#ffbd00" d="M354.6 229.2H356.9V231.5H354.6zM354.6 231.5H356.9V233.8H354.6zM354.6 233.8H356.9V236.1H354.6zM312.8 245.3H315.1V247.6H312.8zM312.8 247.6H315.1V249.9H312.8zM312.8 249.9H315.1V252.2H312.8zM312.8 252.2H315.1V254.5H312.8zM312.8 254.5H315.1V256.8H312.8zM315.1 263.8H317.4V266.1H315.1zM315.1 266.1H317.4V268.4H315.1zM315.1 279.9H317.4V282.2H315.1zM315.1 282.2H317.4V284.5H315.1zM315.1 284.5H317.4V286.8H315.1zM315.1 286.8H317.4V289.1H315.1z"/>
<path fill="#ffb300" d="M315.1 219.9H317.4V222.2H315.1zM356.9 261.5H359.2V263.8H356.9z"/>
<path fill="#ffaa00" d="M354.6 240.7H356.9V243.0H354.6zM312.8 268.4H315.1V270.7H312.8zM312.8 270.7H315.1V273.0H312.8zM312.8 273.0H315.1V275.3H312.8zM312.8 275.3H315.1V277.6H312.8z"/>
<path fill="#ffa100" d="M317.4 217.6H352.2V219.9H317.4zM312.8 222.2H315.1V224.6H312.8zM312.8 224.6H315.1V226.9H312.8zM354.6 243.0H356.9V245.3H354.6zM354.6 245.3H356.9V247.6H354.6zM354.6 247.6H356.9V249.9H354.6zM354.6 249.9H356.9V252.2H354.6zM354.6 252.2H356.9V254.5H354.6zM354.6 254.5H356.9V256.8H354.6zM352.2 263.8H354.6V266.1H352.2zM352.2 266.1H354.6V268.4H352.2zM352.2 279.9H354.6V282.2H352.2zM352.2 282.2H354.6V284.5H352.2zM352.2 284.5H354.6V286.8H352.2zM352.2 286.8H354.6V289.1H352.2z"/>
<path fill="#ff9700" d="M352.2 219.9H354.6V222.2H352.2zM315.1 226.9H317.4V229.2H315.1zM315.1 229.2H317.4V231.5H315.1zM312.8 236.1H315.1V238.4H312.8zM312.8 238.4H315.1V240.7H312.8z"/>
<path fill="#ff8e00" d="M315.1 231.5H317.4V233.8H315.1zM315.1 233.8H317.4V236.1H315.1zM354.6 268.4H356.9V270.7H354.6zM354.6 270.7H356.9V273.0H354.6zM354.6 273.0H356.9V275.3H354.6zM354.6 275.3H356.9V277.6H354.6z"/>
<path fill="#ff8400" d="M354.6 222.2H356.9V224.6H354.6zM354.6 224.6H356.9V226.9H354.6zM312.8 261.5H315.1V263.8H312.8z"/>
<path fill="#ff7b00" d="M352.2 226.9H354.6V229.2H352.2zM352.2 229.2H354.6V231.5H352.2zM354.6 236.1H356.9V238.4H354.6zM354.6 238.4H356.9V240.7H354.6zM315.1 240.7H317.4V243.0H315.1zM315.1 243.0H317.4V245.3H315.1zM315.1 245.3H317.4V247.6H315.1zM315.1 247.6H317.4V249.9H315.1zM315.1 249.9H317.4V252.2H315.1zM315.1 252.2H317.4V254.5H315.1zM315.1 254.5H317.4V256.8H315.1zM317.4 263.8H352.2V266.1H317.4zM317.4 266.1H352.2V268.4H317.4zM317.4 279.9H352.2V282.2H317.4zM317.4 282.2H352.2V284.5H317.4zM317.4 284.5H352.2V286.8H317.4zM317.4 286.8H352.2V289.1H317.4z"/>
<path fill="#ff7100" d="M352.2 231.5H354.6V233.8H352.2zM352.2 233.8H354.6V236.1H352.2z"/>
<path fill="#ff6800" d="M317.4 219.9H352.2V222.2H317.4zM354.6 261.5H356.9V263.8H354.6zM315.1 268.4H317.4V270.7H315.1zM315.1 270.7H317.4V273.0H315.1zM315.1 273.0H317.4V275.3H315.1zM315.1 275.3H317.4V277.6H315.1z"/>
<path fill="#ff5e00" d="M352.2 240.7H354.6V243.0H352.2zM352.2 243.0H354.6V245.3H352.2zM352.2 245.3H354.6V247.6H352.2zM352.2 247.6H354.6V249.9H352.2zM352.2 249.9H354.6V252.2H352.2zM352.2 252.2H354.6V254.5H352.2zM352.2 254.5H354.6V256.8H352.2z"/>
<path fill="#ff5500" d="M315.1 222.2H317.4V224.6H315.1zM315.1 224.6H317.4V226.9H315.1z"/>
<path fill="#ff4c00" d="M317.4 226.9H352.2V229.2H317.4zM317.4 229.2H352.2V231.5H317.4zM317.4 231.5H352.2V233.8H317.4zM317.4 233.8H352.2V236.1H317.4zM315.1 236.1H317.4V238.4H315.1zM315.1 238.4H317.4V240.7H315.1zM352.2 268.4H354.6V270.7H352.2zM352.2 270.7H354.6V273.0H352.2zM352.2 273.0H354.6V275.3H352.2zM352.2 275.3H354.6V277.6H352.2z"/>
<path fill="#ff4200" d="M315.1 261.5H317.4V263.8H315.1z"/>
<path fill="#ff3900" d="M352.2 222.2H354.6V224.6H352.2zM352.2 224.6H354.6V226.9H352.2zM317.4 240.7H352.2V243.0H317.4zM317.4 243.0H352.2V245.3H317.4zM317.4 245.3H352.2V247.6H317.4zM317.4 247.6H352.2V249.9H317.4zM317.4 249.9H352.2V252.2H317.4zM317.4 252.2H352.2V254.5H317.4zM317.4 254.5H352.2V256.8H317.4z"/>
<path fill="#ff2f00" d="M352.2 236.1H354.6V238.4H352.2zM352.2 238.4H354.6V240.7H352.2z"/>
<path fill="#ff2600" d="M352.2 261.5H354.6V263.8H352.2zM317.4 268.4H352.2V270.7H317.4zM317.4 270.7H352.2V273.0H317.4zM317.4 273.0H352.2V275.3H317.4zM317.4 275.3H352.2V277.6H317.4z"/>
<path fill="#f30900" d="M317.4 222.2H352.2V224.6H317.4zM317.4 224.6H352.2V226.9H317.4zM317.4 236.1H352.2V238.4H317.4zM317.4 238.4H352.2V240.7H317.4z"/>
<path fill="#e80000" d="M317.4 261.5H352.2V263.8H317.4z"/>
<path fill="#0000c5" d="M509.3 171.5H511.3V173.5H509.3zM509.3 173.5H511.3V175.5H509.3zM547.7 175.5H549.7V177.5H547.7zM547.7 177.5H549.7V179.5H547.7zM547.7 179.5H549.7V181.6H547.7zM547.7 181.6H549.7V183.6H547.7zM547.7 183.6H549.7V185.6H547.7zM507.2 187.6H509.3V189.6H507.2zM507.2 189.6H509.3V191.6H507.2zM507.2 191.6H509.3V193.6H507.2zM507.2 193.6H509.3V195.6H507.2zM549.7 193.6H551.7V195.6H549.7zM507.2 195.6H509.3V197.7H507.2zM549.7 195.6H551.7V197.7H549.7zM507.2 197.7H509.3V199.7H507.2zM549.7 197.7H551.7V199.7H549.7zM507.2 199.7H509.3V201.7H507.2zM549.7 199.7H551.7V201.7H549.7zM507.2 201.7H509.3V203.7H507.2zM549.7 201.7H551.7V203.7H549.7zM507.2 203.7H509.3V205.7H507.2zM549.7 203.7H551.7V205.7H549.7zM507.2 205.7H509.3V207.7H507.2zM549.7 205.7H551.7V207.7H549.7zM507.2 207.7H509.3V209.7H507.2zM507.2 209.7H509.3V211.7H507.2zM507.2 211.7H509.3V213.7H507.2zM507.2 213.7H509.3V215.8H507.2zM551.7 221.8H553.7V223.8H551.7zM551.7 223.8H553.7V225.8H551.7zM551.7 225.8H553.7V227.8H551.7zM551.7 227.8H553.7V229.8H551.7zM551.7 229.8H553.7V231.8H551.7zM551.7 231.8H553.7V233.9H551.7zM551.7 233.9H553.7V235.9H551.7zM551.7 235.9H553.7V237.9H551.7zM551.7 237.9H553.7V239.9H551.7zM551.7 239.9H553.7V241.9H551.7zM551.7 241.9H553.7V243.9H551.7zM551.7 243.9H553.7V245.9H551.7zM551.7 245.9H553.7V247.9H551.7zM507.2 247.9H509.3V250.0H507.2zM551.7 247.9H553.7V250.0H551.7zM507.2 250.0H509.3V252.0H507.2zM551.7 250.0H553.7V252.0H551.7zM507.2 252.0H509.3V254.0H507.2zM551.7 252.0H553.7V254.0H551.7zM507.2 254.0H509.3V256.0H507.2zM551.7 254.0H553.7V256.0H551.7zM507.2 256.0H509.3V258.0H507.2zM551.7 256.0H553.7V258.0H551.7zM507.2 258.0H509.3V260.0H507.2zM551.7 258.0H553.7V260.0H551.7zM507.2 260.0H509.3V262.0H507.2zM551.7 260.0H553.7V262.0H551.7zM507.2 262.0H509.3V264.0H507.2zM551.7 262.0H553.7V264.0H551.7zM507.2 264.0H509.3V266.0H507.2zM551.7 264.0H553.7V266.0H551.7zM507.2 266.0H509.3V268.1H507.2zM551.7 266.0H553.7V268.1H551.7zM507.2 268.1H509.3V270.1H507.2zM551.7 268.1H553.7V270.1H551.7zM507.2 270.1H509.3V272.1H507.2zM551.7 270.1H553.7V272.1H551.7zM507.2 272.1H509.3V274.1H507.2zM551.7 272.1H553.7V274.1H551.7zM507.2 274.1H509.3V276.1H507.2zM551.7 274.1H553.7V276.1H551.7zM507.2 276.1H509.3V278.1H507.2zM551.7 276.1H553.7V278.1H551.7zM551.7 278.1H553.7V280.1H551.7zM551.7 280.1H553.7V282.1H551.7zM551.7 282.1H553.7V284.2H551.7zM551.7 284.2H553.7V286.2H551.7zM551.7 286.2H553.7V288.2H551.7zM551.7 288.2H553.7V290.2H551.7zM509.3 290.2H511.3V292.2H509.3zM551.7 290.2H553.7V292.2H551.7zM509.3 292.2H511.3V294.2H509.3zM551.7 292.2H553.7V294.2H551.7zM509.3 294.2H511.3V296.2H509.3zM551.7 294.2H553.7V296.2H551.7zM509.3 296.2H511.3V298.2H509.3zM551.7 296.2H553.7V298.2H551.7zM509.3 298.2H511.3V300.2H509.3zM551.7 298.2H553.7V300.2H551.7zM509.3 300.2H511.3V302.3H509.3zM551.7 300.2H553.7V302.3H551.7zM509.3 302.3H511.3V304.3H509.3zM551.7 302.3H553.7V304.3H551.7zM511.3 312.3H513.3V314.3H511.3z"/>
<path fill="#0000ff" d="M545.7 171.5H547.7V173.5H545.7zM545.7 173.5H547.7V175.5H545.7zM509.3 175.5H511.3V177.5H509.3zM545.7 175.5H547.7V177.5H545.7zM509.3 177.5H511.3V179.5H509.3zM545.7 177.5H547.7V179.5H545.7zM509.3 179.5H511.3V181.6H509.3zM545.7 179.5H547.7V181.6H545.7zM509.3 181.6H511.3V183.6H509.3zM509.3 183.6H511.3V185.6H509.3zM509.3 185.6H511.3V187.6H509.3zM547.7 185.6H549.7V187.6H547.7zM509.3 187.6H511.3V189.6H509.3zM547.7 187.6H549.7V189.6H547.7zM509.3 189.6H511.3V191.6H509.3zM547.7 189.6H549.7V191.6H547.7zM509.3 191.6H511.3V193.6H509.3zM547.7 191.6H549.7V193.6H547.7zM509.3 193.6H511.3V195.6H509.3zM547.7 193.6H549.7V195.6H547.7zM509.3 195.6H511.3V197.7H509.3zM547.7 195.6H549.7V197.7H547.7zM509.3 197.7H511.3V199.7H509.3zM547.7 197.7H549.7V199.7H547.7zM509.3 199.7H511.3V201.7H509.3zM547.7 199.7H549.7V201.7H547.7zM547.7 201.7H549.7V203.7H547.7zM549.7 207.7H551.7V209.7H549.7zM549.7 209.7H551.7V211.7H549.7zM549.7 211.7H551.7V213.7H549.7zM549.7 213.7H551.7V215.8H549.7zM507.2 215.8H509.3V217.8H507.2zM549.7 215.8H551.7V217.8H549.7zM507.2 217.8H509.3V219.8H507.2zM549.7 217.8H551.7V219.8H549.7zM507.2 219.8H509.3V221.8H507.2zM549.7 219.8H551.7V221.8H549.7zM507.2 221.8H509.3V223.8H507.2zM549.7 221.8H551.7V223.8H549.7zM507.2 223.8H509.3V225.8H507.2zM549.7 223.8H551.7V225.8H549.7zM507.2 225.8H509.3V227.8H507.2zM549.7 225.8H551.7V227.8H549.7zM507.2 227.8H509.3V229.8H507.2zM549.7 227.8H551.7V229.8H549.7zM507.2 229.8H509.3V231.8H507.2zM549.7 229.8H551.7V231.8H549.7zM507.2 231.8H509.3V233.9H507.2zM549.7 231.8H551.7V233.9H549.7zM507.2 233.9H509.3V235.9H507.2zM549.7 233.9H551.7V235.9H549.7zM507.2 235.9H509.3V237.9H507.2zM549.7 235.9H551.7V237.9H549.7zM507.2 237.9H509.3V239.9H507.2zM549.7 237.9H551.7V239.9H549.7zM507.2 239.9H509.3V241.9H507.2zM549.7 239.9H551.7V241.9H549.7zM507.2 241.9H509.3V243.9H507.2zM507.2 243.9H509.3V245.9H507.2zM507.2 245.9H509.3V247.9H507.2zM509.3 262.0H511.3V264.0H509.3zM509.3 264.0H511.3V266.0H509.3zM509.3 266.0H511.3V268.1H509.3zM509.3 268.1H511.3V270.1H509.3zM509.3 270.1H511.3V272.1H509.3zM509.3 272.1H511.3V274.1H509.3zM509.3 274.1H511.3V276.1H509.3zM509.3 276.1H511.3V278.1H509.3zM509.3 278.1H511.3V280.1H509.3zM509.3 280.1H511.3V282.1H509.3zM509.3 282.1H511.3V284.2H509.3zM509.3 284.2H511.3V286.2H509.3zM509.3 286.2H511.3V288.2H509.3zM549.7 286.2H551.7V288.2H549.7zM509.3 288.2H511.3V290.2H509.3zM549.7 288.2H551.7V290.2H549.7zM549.7 290.2H551.7V292.2H549.7zM549.7 292.2H551.7V294.2H549.7zM549.7 294.2H551.7V296.2H549.7zM511.3 296.2H513.3V298.2H511.3zM549.7 296.2H551.7V298.2H549.7zM511.3 298.2H513.3V300.2H511.3zM549.7 298.2H551.7V300.2H549.7zM511.3 300.2H513.3V302.3H511.3zM549.7 300.2H551.7V302.3H549.7zM511.3 302.3H513.3V304.3H511.3zM549.7 302.3H551.7V304.3H549.7zM511.3 304.3H513.3V306.3H511.3zM549.7 304.3H551.7V306.3H549.7zM511.3 306.3H513.3V308.3H511.3zM549.7 306.3H551.7V308.3H549.7zM511.3 308.3H513.3V310.3H511.3zM549.7 308.3H551.7V310.3H549.7zM511.3 310.3H513.3V312.3H511.3zM549.7 310.3H551.7V312.3H549.7zM549.7 312.3H551.7V314.3H549.7z"/>
<path fill="#004dff" d="M511.3 171.5H513.3V173.5H511.3zM543.6 171.5H545.7V173.5H543.6zM511.3 173.5H513.3V175.5H511.3zM543.6 173.5H545.7V175.5H543.6zM511.3 175.5H513.3V177.5H511.3zM543.6 175.5H545.7V177.5H543.6zM511.3 177.5H513.3V179.5H511.3zM511.3 179.5H513.3V181.6H511.3zM511.3 181.6H513.3V183.6H511.3zM545.7 181.6H547.7V183.6H545.7zM511.3 183.6H513.3V185.6H511.3zM545.7 183.6H547.7V185.6H545.7zM511.3 185.6H513.3V187.6H511.3zM545.7 185.6H547.7V187.6H545.7zM511.3 187.6H513.3V189.6H511.3zM545.7 187.6H547.7V189.6H545.7zM511.3 189.6H513.3V191.6H511.3zM545.7 189.6H547.7V191.6H545.7zM511.3 191.6H513.3V193.6H511.3zM545.7 191.6H547.7V193.6H545.7zM545.7 193.6H547.7V195.6H545.7zM545.7 195.6H547.7V197.7H545.7zM509.3 201.7H511.3V203.7H509.3zM509.3 203.7H511.3V205.7H509.3zM547.7 203.7H549.7V205.7H547.7zM509.3 205.7H511.3V207.7H509.3zM547.7 205.7H549.7V207.7H547.7zM509.3 207.7H511.3V209.7H509.3zM547.7 207.7H549.7V209.7H547.7zM509.3 209.7H511.3V211.7H509.3zM547.7 209.7H549.7V211.7H547.7zM509.3 211.7H511.3V213.7H509.3zM547.7 211.7H549.7V213.7H547.7zM509.3 213.7H511.3V215.8H509.3zM547.7 213.7H549.7V215.8H547.7zM509.3 215.8H511.3V217.8H509.3zM547.7 215.8H549.7V217.8H547.7zM509.3 217.8H511.3V219.8H509.3zM547.7 217.8H549.7V219.8H547.7zM509.3 219.8H511.3V221.8H509.3zM547.7 219.8H549.7V221.8H547.7zM509.3 221.8H511.3V223.8H509.3zM547.7 221.8H549.7V223.8H547.7zM509.3 223.8H511.3V225.8H509.3zM547.7 223.8H549.7V225.8H547.7zM509.3 225.8H511.3V227.8H509.3zM547.7 225.8H549.7V227.8H547.7zM509.3 227.8H511.3V229.8H509.3zM547.7 227.8H549.7V229.8H547.7zM509.3 229.8H511.3V231.8H509.3zM509.3 231.8H511.3V233.9H509.3zM509.3 233.9H511.3V235.9H509.3zM509.3 235.9H511.3V237.9H509.3zM509.3 237.9H511.3V239.9H509.3zM509.3 239.9H511.3V241.9H509.3zM509.3 241.9H511.3V243.9H509.3zM549.7 241.9H551.7V243.9H549.7zM509.3 243.9H511.3V245.9H509.3zM549.7 243.9H551.7V245.9H549.7zM509.3 245.9H511.3V247.9H509.3zM549.7 245.9H551.7V247.9H549.7zM509.3 247.9H511.3V250.0H509.3zM549.7 247.9H551.7V250.0H549.7zM509.3 250.0H511.3V252.0H509.3zM549.7 250.0H551.7V252.0H549.7zM509.3 252.0H511.3V254.0H509.3zM549.7 252.0H551.7V254.0H549.7zM509.3 254.0H511.3V256.0H509.3zM549.7 254.0H551.7V256.0H549.7zM509.3 256.0H511.3V258.0H509.3zM549.7 256.0H551.7V258.0H549.7zM509.3 258.0H511.3V260.0H509.3zM549.7 258.0H551.7V260.0H549.7zM509.3 260.0H511.3V262.0H509.3zM549.7 260.0H551.7V262.0H549.7zM549.7 262.0H551.7V264.0H549.7zM549.7 264.0H551.7V266.0H549.7zM549.7 266.0H551.7V268.1H549.7zM549.7 268.1H551.7V270.1H549.7zM549.7 270.1H551.7V272.1H549.7zM511.3 272.1H513.3V274.1H511.3zM549.7 272.1H551.7V274.1H549.7zM511.3 274.1H513.3V276.1H511.3zM549.7 274.1H551.7V276.1H549.7zM511.3 276.1H513.3V278.1H511.3zM549.7 276.1H551.7V278.1H549.7zM511.3 278.1H513.3V280.1H511.3zM549.7 278.1H551.7V280.1H549.7zM511.3 280.1H513.3V282.1H511.3zM549.7 280.1H551.7V282.1H549.7zM511.3 282.1H513.3V284.2H511.3zM549.7 282.1H551.7V284.2H549.7zM511.3 284.2H513.3V286.2H511.3zM549.7 284.2H551.7V286.2H549.7zM511.3 286.2H513.3V288.2H511.3zM511.3 288.2H513.3V290.2H511.3zM511.3 290.2H513.3V292.2H511.3zM511.3 292.2H513.3V294.2H511.3zM511.3 294.2H513.3V296.2H511.3zM547.7 298.2H549.7V300.2H547.7zM513.3 300.2H515.3V302.3H513.3zM547.7 300.2H549.7V302.3H547.7zM513.3 302.3H515.3V304.3H513.3zM547.7 302.3H549.7V304.3H547.7zM513.3 304.3H515.3V306.3H513.3zM547.7 304.3H549.7V306.3H547.7zM513.3 306.3H515.3V308.3H513.3zM547.7 306.3H549.7V308.3H547.7zM513.3 308.3H515.3V310.3H513.3zM547.7 308.3H549.7V310.3H547.7zM513.3 310.3H515.3V312.3H513.3zM547.7 310.3H549.7V312.3H547.7zM513.3 312.3H515.3V314.3H513.3zM547.7 312.3H549.7V314.3H547.7z"/>
<path fill="#00bdff" d="M543.6 177.5H545.7V179.5H543.6z"/>
<path fill="#00c7ff" d="M511.3 193.6H513.3V195.6H511.3zM545.7 197.7H547.7V199.7H545.7zM547.7 229.8H549.7V231.8H547.7zM511.3 270.1H513.3V272.1H511.3zM547.7 296.2H549.7V298.2H547.7z"/>
<path fill="#00d1ff" d="M513.3 171.5H515.3V173.5H513.3zM543.6 179.5H545.7V181.6H543.6zM511.3 195.6H513.3V197.7H511.3zM547.7 231.8H549.7V233.9H547.7z"/>
<path fill="#00dbff" d="M513.3 173.5H515.3V175.5H513.3zM543.6 181.6H545.7V183.6H543.6zM511.3 197.7H513.3V199.7H511.3zM545.7 199.7H547.7V201.7H545.7zM547.7 233.9H549.7V235.9H547.7zM511.3 268.1H513.3V270.1H511.3zM547.7 294.2H549.7V296.2H547.7zM513.3 298.2H515.3V300.2H513.3z"/>
<path fill="#00e5f7" d="M541.6 171.5H543.6V173.5H541.6zM513.3 175.5H515.3V177.5H513.3zM513.3 177.5H515.3V179.5H513.3zM543.6 183.6H545.7V185.6H543.6zM511.3 199.7H513.3V201.7H511.3zM511.3 201.7H513.3V203.7H511.3zM545.7 201.7H547.7V203.7H545.7zM547.7 235.9H549.7V237.9H547.7zM511.3 266.0H513.3V268.1H511.3zM547.7 292.2H549.7V294.2H547.7z"/>
<path fill="#08f0ef" d="M541.6 173.5H543.6V175.5H541.6zM513.3 179.5H515.3V181.6H513.3zM543.6 185.6H545.7V187.6H543.6zM511.3 203.7H513.3V205.7H511.3zM545.7 203.7H547.7V205.7H545.7zM547.7 237.9H549.7V239.9H547.7zM511.3 264.0H513.3V266.0H511.3zM547.7 290.2H549.7V292.2H547.7z"/>
<path fill="#10fae6" d="M541.6 175.5H543.6V177.5H541.6zM513.3 181.6H515.3V183.6H513.3zM543.6 187.6H545.7V189.6H543.6zM511.3 205.7H513.3V207.7H511.3zM545.7 205.7H547.7V207.7H545.7zM511.3 207.7H513.3V209.7H511.3zM547.7 239.9H549.7V241.9H547.7zM547.7 241.9H549.7V243.9H547.7zM511.3 262.0H513.3V264.0H511.3zM547.7 286.2H549.7V288.2H547.7zM547.7 288.2H549.7V290.2H547.7zM513.3 296.2H515.3V298.2H513.3z"/>
<path fill="#19ffde" d="M515.3 171.5H517.3V173.5H515.3zM515.3 173.5H517.3V175.5H515.3zM541.6 177.5H543.6V179.5H541.6zM513.3 183.6H515.3V185.6H513.3zM543.6 189.6H545.7V191.6H543.6zM545.7 207.7H547.7V209.7H545.7zM511.3 209.7H513.3V211.7H511.3zM511.3 211.7H513.3V213.7H511.3zM547.7 243.9H549.7V245.9H547.7zM547.7 245.9H549.7V247.9H547.7zM511.3 258.0H513.3V260.0H511.3zM511.3 260.0H513.3V262.0H511.3zM547.7 282.1H549.7V284.2H547.7zM547.7 284.2H549.7V286.2H547.7zM513.3 294.2H515.3V296.2H513.3z"/>
<path fill="#21ffd6" d="M539.6 171.5H541.6V173.5H539.6zM515.3 175.5H517.3V177.5H515.3zM541.6 179.5H543.6V181.6H541.6zM513.3 185.6H515.3V187.6H513.3zM513.3 187.6H515.3V189.6H513.3zM543.6 191.6H545.7V193.6H543.6zM545.7 209.7H547.7V211.7H545.7zM511.3 213.7H513.3V215.8H511.3zM511.3 215.8H513.3V217.8H511.3zM511.3 217.8H513.3V219.8H511.3zM547.7 247.9H549.7V250.0H547.7zM547.7 250.0H549.7V252.0H547.7zM547.7 252.0H549.7V254.0H547.7zM511.3 256.0H513.3V258.0H511.3zM547.7 278.1H549.7V280.1H547.7zM547.7 280.1H549.7V282.1H547.7z"/>
<path fill="#29ffce" d="M517.3 171.5H519.4V173.5H517.3zM539.6 173.5H541.6V175.5H539.6zM515.3 177.5H517.3V179.5H515.3zM541.6 181.6H543.6V183.6H541.6zM513.3 189.6H515.3V191.6H513.3zM543.6 193.6H545.7V195.6H543.6zM545.7 211.7H547.7V213.7H545.7zM511.3 219.8H513.3V221.8H511.3zM511.3 221.8H513.3V223.8H511.3zM511.3 223.8H513.3V225.8H511.3zM511.3 250.0H513.3V252.0H511.3zM511.3 252.0H513.3V254.0H511.3zM511.3 254.0H513.3V256.0H511.3zM547.7 254.0H549.7V256.0H547.7zM547.7 256.0H549.7V258.0H547.7zM547.7 258.0H549.7V260.0H547.7zM547.7 260.0H549.7V262.0H547.7zM547.7 262.0H549.7V264.0H547.7zM547.7 264.0H549.7V266.0H547.7zM547.7 266.0H549.7V268.1H547.7zM547.7 268.1H549.7V270.1H547.7zM547.7 270.1H549.7V272.1H547.7zM547.7 272.1H549.7V274.1H547.7zM547.7 274.1H549.7V276.1H547.7zM547.7 276.1H549.7V278.1H547.7zM513.3 292.2H515.3V294.2H513.3z"/>
<path fill="#31ffc5" d="M537.6 171.5H539.6V173.5H537.6zM517.3 173.5H519.4V175.5H517.3zM539.6 175.5H541.6V177.5H539.6zM515.3 179.5H517.3V181.6H515.3zM541.6 183.6H543.6V185.6H541.6zM513.3 191.6H515.3V193.6H513.3zM513.3 193.6H515.3V195.6H513.3zM543.6 195.6H545.7V197.7H543.6zM545.7 213.7H547.7V215.8H545.7zM511.3 225.8H513.3V227.8H511.3zM511.3 227.8H513.3V229.8H511.3zM511.3 229.8H513.3V231.8H511.3zM511.3 231.8H513.3V233.9H511.3zM511.3 233.9H513.3V235.9H511.3zM511.3 235.9H513.3V237.9H511.3zM511.3 237.9H513.3V239.9H511.3zM511.3 239.9H513.3V241.9H511.3zM511.3 241.9H513.3V243.9H511.3zM511.3 243.9H513.3V245.9H511.3zM511.3 245.9H513.3V247.9H511.3zM511.3 247.9H513.3V250.0H511.3zM513.3 290.2H515.3V292.2H513.3zM515.3 312.3H517.3V314.3H515.3z"/>
<path fill="#3affbd" d="M519.4 171.5H521.4V173.5H519.4zM537.6 173.5H539.6V175.5H537.6zM517.3 175.5H519.4V177.5H517.3zM539.6 177.5H541.6V179.5H539.6zM515.3 181.6H517.3V183.6H515.3zM515.3 183.6H517.3V185.6H515.3zM541.6 185.6H543.6V187.6H541.6zM513.3 195.6H515.3V197.7H513.3zM543.6 197.7H545.7V199.7H543.6zM545.7 215.8H547.7V217.8H545.7zM513.3 288.2H515.3V290.2H513.3zM515.3 310.3H517.3V312.3H515.3z"/>
<path fill="#42ffb5" d="M535.5 171.5H537.6V173.5H535.5zM519.4 173.5H521.4V175.5H519.4zM537.6 175.5H539.6V177.5H537.6zM517.3 177.5H519.4V179.5H517.3zM539.6 179.5H541.6V181.6H539.6zM515.3 185.6H517.3V187.6H515.3zM541.6 187.6H543.6V189.6H541.6zM513.3 197.7H515.3V199.7H513.3zM513.3 199.7H515.3V201.7H513.3zM543.6 199.7H545.7V201.7H543.6zM545.7 217.8H547.7V219.8H545.7zM545.7 219.8H547.7V221.8H545.7zM513.3 286.2H515.3V288.2H513.3zM545.7 312.3H547.7V314.3H545.7z"/>
<path fill="#4affad" d="M521.4 171.5H525.4V173.5H521.4zM533.5 171.5H535.5V173.5H533.5zM535.5 173.5H537.6V175.5H535.5zM519.4 175.5H521.4V177.5H519.4zM537.6 177.5H539.6V179.5H537.6zM517.3 179.5H519.4V181.6H517.3zM539.6 181.6H541.6V183.6H539.6zM515.3 187.6H517.3V189.6H515.3zM541.6 189.6H543.6V191.6H541.6zM513.3 201.7H515.3V203.7H513.3zM543.6 201.7H545.7V203.7H543.6zM545.7 221.8H547.7V223.8H545.7zM513.3 284.2H515.3V286.2H513.3zM515.3 308.3H517.3V310.3H515.3zM545.7 310.3H547.7V312.3H545.7z"/>
<path fill="#52ffa5" d="M525.4 171.5H533.5V173.5H525.4zM521.4 173.5H523.4V175.5H521.4zM533.5 173.5H535.5V175.5H533.5zM535.5 175.5H537.6V177.5H535.5zM519.4 177.5H521.4V179.5H519.4zM537.6 179.5H539.6V181.6H537.6zM517.3 181.6H519.4V183.6H517.3zM539.6 183.6H541.6V185.6H539.6zM515.3 189.6H517.3V191.6H515.3zM541.6 191.6H543.6V193.6H541.6zM513.3 203.7H515.3V205.7H513.3zM543.6 203.7H545.7V205.7H543.6zM513.3 205.7H515.3V207.7H513.3zM545.7 223.8H547.7V225.8H545.7zM513.3 282.1H515.3V284.2H513.3zM515.3 306.3H517.3V308.3H515.3zM545.7 308.3H547.7V310.3H545.7z"/>
<path fill="#5aff9c" d="M523.4 173.5H533.5V175.5H523.4zM521.4 175.5H523.4V177.5H521.4zM533.5 175.5H535.5V177.5H533.5zM535.5 177.5H537.6V179.5H535.5zM519.4 179.5H521.4V181.6H519.4zM537.6 181.6H539.6V183.6H537.6zM517.3 183.6H519.4V185.6H517.3zM539.6 185.6H541.6V187.6H539.6zM515.3 191.6H517.3V193.6H515.3zM515.3 193.6H517.3V195.6H515.3zM541.6 193.6H543.6V195.6H541.6zM543.6 205.7H545.7V207.7H543.6zM513.3 207.7H515.3V209.7H513.3zM545.7 225.8H547.7V227.8H545.7zM545.7 227.8H547.7V229.8H545.7zM513.3 278.1H515.3V280.1H513.3zM513.3 280.1H515.3V282.1H513.3zM515.3 304.3H517.3V306.3H515.3zM545.7 304.3H547.7V306.3H545.7zM545.7 306.3H547.7V308.3H545.7z"/>
<path fill="#63ff94" d="M523.4 175.5H527.5V177.5H523.4zM529.5 175.5H533.5V177.5H529.5zM521.4 177.5H523.4V179.5H521.4zM533.5 177.5H535.5V179.5H533.5zM535.5 179.5H537.6V181.6H535.5zM519.4 181.6H521.4V183.6H519.4zM537.6 183.6H539.6V185.6H537.6zM517.3 185.6H519.4V187.6H517.3zM517.3 187.6H519.4V189.6H517.3zM539.6 187.6H541.6V189.6H539.6zM539.6 189.6H541.6V191.6H539.6zM515.3 195.6H517.3V197.7H515.3zM541.6 195.6H543.6V197.7H541.6zM543.6 207.7H545.7V209.7H543.6zM513.3 209.7H515.3V211.7H513.3zM513.3 211.7H515.3V213.7H513.3zM545.7 229.8H547.7V231.8H545.7zM545.7 231.8H547.7V233.9H545.7zM513.3 276.1H515.3V278.1H513.3zM515.3 302.3H517.3V304.3H515.3zM545.7 302.3H547.7V304.3H545.7z"/>
<path fill="#6bff8c" d="M527.5 175.5H529.5V177.5H527.5zM523.4 177.5H527.5V179.5H523.4zM531.5 177.5H533.5V179.5H531.5zM521.4 179.5H523.4V181.6H521.4zM533.5 179.5H535.5V181.6H533.5zM535.5 181.6H537.6V183.6H535.5zM519.4 183.6H521.4V185.6H519.4zM537.6 185.6H539.6V187.6H537.6zM517.3 189.6H519.4V191.6H517.3zM539.6 191.6H541.6V193.6H539.6zM515.3 197.7H517.3V199.7H515.3zM541.6 197.7H543.6V199.7H541.6zM541.6 199.7H543.6V201.7H541.6zM543.6 209.7H545.7V211.7H543.6zM543.6 211.7H545.7V213.7H543.6zM513.3 213.7H515.3V215.8H513.3zM513.3 215.8H515.3V217.8H513.3zM545.7 233.9H547.7V235.9H545.7zM545.7 235.9H547.7V237.9H545.7zM513.3 272.1H515.3V274.1H513.3zM513.3 274.1H515.3V276.1H513.3zM545.7 298.2H547.7V300.2H545.7zM515.3 300.2H517.3V302.3H515.3zM545.7 300.2H547.7V302.3H545.7z"/>
<path fill="#73ff84" d="M527.5 177.5H531.5V179.5H527.5zM523.4 179.5H527.5V181.6H523.4zM531.5 179.5H533.5V181.6H531.5zM521.4 181.6H523.4V183.6H521.4zM533.5 181.6H535.5V183.6H533.5zM535.5 183.6H537.6V185.6H535.5zM519.4 185.6H521.4V187.6H519.4zM537.6 187.6H539.6V189.6H537.6zM517.3 191.6H519.4V193.6H517.3zM539.6 193.6H541.6V195.6H539.6zM515.3 199.7H517.3V201.7H515.3zM515.3 201.7H517.3V203.7H515.3zM541.6 201.7H543.6V203.7H541.6zM543.6 213.7H545.7V215.8H543.6zM513.3 217.8H515.3V219.8H513.3zM513.3 219.8H515.3V221.8H513.3zM513.3 221.8H515.3V223.8H513.3zM545.7 237.9H547.7V239.9H545.7zM545.7 239.9H547.7V241.9H545.7zM513.3 268.1H515.3V270.1H513.3zM513.3 270.1H515.3V272.1H513.3zM545.7 294.2H547.7V296.2H545.7zM545.7 296.2H547.7V298.2H545.7zM515.3 298.2H517.3V300.2H515.3z"/>
<path fill="#7bff7b" d="M527.5 179.5H531.5V181.6H527.5zM523.4 181.6H525.4V183.6H523.4zM531.5 181.6H533.5V183.6H531.5zM521.4 183.6H523.4V185.6H521.4zM533.5 183.6H535.5V185.6H533.5zM535.5 185.6H537.6V187.6H535.5zM519.4 187.6H521.4V189.6H519.4zM537.6 189.6H539.6V191.6H537.6zM517.3 193.6H519.4V195.6H517.3zM539.6 195.6H541.6V197.7H539.6zM515.3 203.7H517.3V205.7H515.3zM541.6 203.7H543.6V205.7H541.6zM543.6 215.8H545.7V217.8H543.6zM513.3 223.8H515.3V225.8H513.3zM513.3 225.8H515.3V227.8H513.3zM545.7 241.9H547.7V243.9H545.7zM545.7 243.9H547.7V245.9H545.7zM545.7 245.9H547.7V247.9H545.7zM513.3 262.0H515.3V264.0H513.3zM513.3 264.0H515.3V266.0H513.3zM513.3 266.0H515.3V268.1H513.3zM545.7 288.2H547.7V290.2H545.7zM545.7 290.2H547.7V292.2H545.7zM545.7 292.2H547.7V294.2H545.7zM515.3 296.2H517.3V298.2H515.3z"/>
<path fill="#84ff73" d="M525.4 181.6H531.5V183.6H525.4zM523.4 183.6H525.4V185.6H523.4zM531.5 183.6H533.5V185.6H531.5zM521.4 185.6H523.4V187.6H521.4zM535.5 187.6H537.6V189.6H535.5zM519.4 189.6H521.4V191.6H519.4zM537.6 191.6H539.6V193.6H537.6zM517.3 195.6H519.4V197.7H517.3zM539.6 197.7H541.6V199.7H539.6zM515.3 205.7H517.3V207.7H515.3zM541.6 205.7H543.6V207.7H541.6zM543.6 217.8H545.7V219.8H543.6zM543.6 219.8H545.7V221.8H543.6zM513.3 227.8H515.3V229.8H513.3zM513.3 229.8H515.3V231.8H513.3zM513.3 231.8H515.3V233.9H513.3zM513.3 233.9H515.3V235.9H513.3zM513.3 235.9H515.3V237.9H513.3zM513.3 237.9H515.3V239.9H513.3zM513.3 239.9H515.3V241.9H513.3zM545.7 247.9H547.7V250.0H545.7zM545.7 250.0H547.7V252.0H545.7zM513.3 252.0H515.3V254.0H513.3zM545.7 252.0H547.7V254.0H545.7zM513.3 254.0H515.3V256.0H513.3zM545.7 254.0H547.7V256.0H545.7zM513.3 256.0H515.3V258.0H513.3zM513.3 258.0H515.3V260.0H513.3zM513.3 260.0H515.3V262.0H513.3zM545.7 278.1H547.7V280.1H545.7zM545.7 280.1H547.7V282.1H545.7zM545.7 282.1H547.7V284.2H545.7zM545.7 284.2H547.7V286.2H545.7zM545.7 286.2H547.7V288.2H545.7zM515.3 294.2H517.3V296.2H515.3z"/>
<path fill="#8cff6b" d="M525.4 183.6H531.5V185.6H525.4zM523.4 185.6H525.4V187.6H523.4zM533.5 185.6H535.5V187.6H533.5zM521.4 187.6H523.4V189.6H521.4zM535.5 189.6H537.6V191.6H535.5zM519.4 191.6H521.4V193.6H519.4zM537.6 193.6H539.6V195.6H537.6zM517.3 197.7H519.4V199.7H517.3zM539.6 199.7H541.6V201.7H539.6zM515.3 207.7H517.3V209.7H515.3zM541.6 207.7H543.6V209.7H541.6zM515.3 209.7H517.3V211.7H515.3zM543.6 221.8H545.7V223.8H543.6zM513.3 241.9H515.3V243.9H513.3zM513.3 243.9H515.3V245.9H513.3zM513.3 245.9H515.3V247.9H513.3zM513.3 247.9H515.3V250.0H513.3zM513.3 250.0H515.3V252.0H513.3zM545.7 256.0H547.7V258.0H545.7zM545.7 258.0H547.7V260.0H545.7zM545.7 260.0H547.7V262.0H545.7zM545.7 262.0H547.7V264.0H545.7zM545.7 264.0H547.7V266.0H545.7zM545.7 266.0H547.7V268.1H545.7zM545.7 268.1H547.7V270.1H545.7zM545.7 270.1H547.7V272.1H545.7zM545.7 272.1H547.7V274.1H545.7zM545.7 274.1H547.7V276.1H545.7zM545.7 276.1H547.7V278.1H545.7zM515.3 292.2H517.3V294.2H515.3zM517.3 312.3H519.4V314.3H517.3z"/>
<path fill="#94ff63" d="M525.4 185.6H533.5V187.6H525.4zM523.4 187.6H525.4V189.6H523.4zM533.5 187.6H535.5V189.6H533.5zM521.4 189.6H523.4V191.6H521.4zM535.5 191.6H537.6V193.6H535.5zM519.4 193.6H521.4V195.6H519.4zM537.6 195.6H539.6V197.7H537.6zM517.3 199.7H519.4V201.7H517.3zM517.3 201.7H519.4V203.7H517.3zM539.6 201.7H541.6V203.7H539.6zM541.6 209.7H543.6V211.7H541.6zM515.3 211.7H517.3V213.7H515.3zM543.6 223.8H545.7V225.8H543.6zM543.6 225.8H545.7V227.8H543.6zM515.3 288.2H517.3V290.2H515.3zM515.3 290.2H517.3V292.2H515.3zM517.3 310.3H519.4V312.3H517.3z"/>
<path fill="#9cff5a" d="M525.4 187.6H533.5V189.6H525.4zM523.4 189.6H525.4V191.6H523.4zM533.5 189.6H535.5V191.6H533.5zM521.4 191.6H523.4V193.6H521.4zM535.5 193.6H537.6V195.6H535.5zM519.4 195.6H521.4V197.7H519.4zM519.4 197.7H521.4V199.7H519.4zM537.6 197.7H539.6V199.7H537.6zM517.3 203.7H519.4V205.7H517.3zM539.6 203.7H541.6V205.7H539.6zM541.6 211.7H543.6V213.7H541.6zM515.3 213.7H517.3V215.8H515.3zM515.3 215.8H517.3V217.8H515.3zM543.6 227.8H545.7V229.8H543.6zM515.3 284.2H517.3V286.2H515.3zM515.3 286.2H517.3V288.2H515.3zM517.3 308.3H519.4V310.3H517.3zM543.6 310.3H545.7V312.3H543.6zM543.6 312.3H545.7V314.3H543.6z"/>
<path fill="#a5ff52" d="M525.4 189.6H533.5V191.6H525.4zM523.4 191.6H525.4V193.6H523.4zM533.5 191.6H535.5V193.6H533.5zM521.4 193.6H523.4V195.6H521.4zM535.5 195.6H537.6V197.7H535.5zM519.4 199.7H521.4V201.7H519.4zM537.6 199.7H539.6V201.7H537.6zM517.3 205.7H519.4V207.7H517.3zM539.6 205.7H541.6V207.7H539.6zM541.6 213.7H543.6V215.8H541.6zM541.6 215.8H543.6V217.8H541.6zM515.3 217.8H517.3V219.8H515.3zM515.3 219.8H517.3V221.8H515.3zM543.6 229.8H545.7V231.8H543.6zM543.6 231.8H545.7V233.9H543.6zM543.6 233.9H545.7V235.9H543.6zM515.3 280.1H517.3V282.1H515.3zM515.3 282.1H517.3V284.2H515.3zM517.3 306.3H519.4V308.3H517.3zM543.6 306.3H545.7V308.3H543.6zM543.6 308.3H545.7V310.3H543.6z"/>
<path fill="#adff4a" d="M525.4 191.6H533.5V193.6H525.4zM523.4 193.6H525.4V195.6H523.4zM533.5 193.6H535.5V195.6H533.5zM521.4 195.6H523.4V197.7H521.4zM535.5 197.7H537.6V199.7H535.5zM519.4 201.7H521.4V203.7H519.4zM537.6 201.7H539.6V203.7H537.6zM517.3 207.7H519.4V209.7H517.3zM539.6 207.7H541.6V209.7H539.6zM541.6 217.8H543.6V219.8H541.6zM515.3 221.8H517.3V223.8H515.3zM515.3 223.8H517.3V225.8H515.3zM515.3 225.8H517.3V227.8H515.3zM543.6 235.9H545.7V237.9H543.6zM543.6 237.9H545.7V239.9H543.6zM515.3 276.1H517.3V278.1H515.3zM515.3 278.1H517.3V280.1H515.3zM543.6 300.2H545.7V302.3H543.6zM517.3 302.3H519.4V304.3H517.3zM543.6 302.3H545.7V304.3H543.6zM517.3 304.3H519.4V306.3H517.3zM543.6 304.3H545.7V306.3H543.6z"/>
<path fill="#b5ff42" d="M525.4 193.6H533.5V195.6H525.4zM523.4 195.6H525.4V197.7H523.4zM533.5 195.6H535.5V197.7H533.5zM521.4 197.7H523.4V199.7H521.4zM535.5 199.7H537.6V201.7H535.5zM519.4 203.7H521.4V205.7H519.4zM537.6 203.7H539.6V205.7H537.6zM517.3 209.7H519.4V211.7H517.3zM539.6 209.7H541.6V211.7H539.6zM517.3 211.7H519.4V213.7H517.3zM541.6 219.8H543.6V221.8H541.6zM541.6 221.8H543.6V223.8H541.6zM515.3 227.8H517.3V229.8H515.3zM515.3 229.8H517.3V231.8H515.3zM543.6 239.9H545.7V241.9H543.6zM543.6 241.9H545.7V243.9H543.6zM543.6 243.9H545.7V245.9H543.6zM515.3 270.1H517.3V272.1H515.3zM515.3 272.1H517.3V274.1H515.3zM515.3 274.1H517.3V276.1H515.3zM543.6 296.2H545.7V298.2H543.6zM543.6 298.2H545.7V300.2H543.6zM517.3 300.2H519.4V302.3H517.3z"/>
<path fill="#bdff3a" d="M525.4 195.6H533.5V197.7H525.4zM523.4 197.7H525.4V199.7H523.4zM533.5 197.7H535.5V199.7H533.5zM521.4 199.7H523.4V201.7H521.4zM521.4 201.7H523.4V203.7H521.4zM535.5 201.7H537.6V203.7H535.5zM519.4 205.7H521.4V207.7H519.4zM537.6 205.7H539.6V207.7H537.6zM539.6 211.7H541.6V213.7H539.6zM517.3 213.7H519.4V215.8H517.3zM517.3 215.8H519.4V217.8H517.3zM541.6 223.8H543.6V225.8H541.6zM515.3 231.8H517.3V233.9H515.3zM515.3 233.9H517.3V235.9H515.3zM515.3 235.9H517.3V237.9H515.3zM515.3 237.9H517.3V239.9H515.3zM515.3 239.9H517.3V241.9H515.3zM515.3 241.9H517.3V243.9H515.3zM543.6 245.9H545.7V247.9H543.6zM543.6 247.9H545.7V250.0H543.6zM543.6 250.0H545.7V252.0H543.6zM515.3 260.0H517.3V262.0H515.3zM515.3 262.0H517.3V264.0H515.3zM515.3 264.0H517.3V266.0H515.3zM515.3 266.0H517.3V268.1H515.3zM515.3 268.1H517.3V270.1H515.3zM543.6 288.2H545.7V290.2H543.6zM543.6 290.2H545.7V292.2H543.6zM543.6 292.2H545.7V294.2H543.6zM543.6 294.2H545.7V296.2H543.6zM517.3 296.2H519.4V298.2H517.3zM517.3 298.2H519.4V300.2H517.3z"/>
<path fill="#c5ff31" d="M525.4 197.7H533.5V199.7H525.4zM523.4 199.7H525.4V201.7H523.4zM533.5 199.7H535.5V201.7H533.5zM521.4 203.7H523.4V205.7H521.4zM535.5 203.7H537.6V205.7H535.5zM519.4 207.7H521.4V209.7H519.4zM537.6 207.7H539.6V209.7H537.6zM539.6 213.7H541.6V215.8H539.6zM539.6 215.8H541.6V217.8H539.6zM517.3 217.8H519.4V219.8H517.3zM541.6 225.8H543.6V227.8H541.6zM541.6 227.8H543.6V229.8H541.6zM515.3 243.9H517.3V245.9H515.3zM515.3 245.9H517.3V247.9H515.3zM515.3 247.9H517.3V250.0H515.3zM515.3 250.0H517.3V252.0H515.3zM515.3 252.0H517.3V254.0H515.3zM543.6 252.0H545.7V254.0H543.6zM515.3 254.0H517.3V256.0H515.3zM543.6 254.0H545.7V256.0H543.6zM515.3 256.0H517.3V258.0H515.3zM543.6 256.0H545.7V258.0H543.6zM515.3 258.0H517.3V260.0H515.3zM543.6 258.0H545.7V260.0H543.6zM543.6 260.0H545.7V262.0H543.6zM543.6 262.0H545.7V264.0H543.6zM543.6 264.0H545.7V266.0H543.6zM543.6 266.0H545.7V268.1H543.6zM543.6 272.1H545.7V274.1H543.6zM543.6 274.1H545.7V276.1H543.6zM543.6 276.1H545.7V278.1H543.6zM543.6 278.1H545.7V280.1H543.6zM543.6 280.1H545.7V282.1H543.6zM543.6 282.1H545.7V284.2H543.6zM543.6 284.2H545.7V286.2H543.6zM543.6 286.2H545.7V288.2H543.6zM517.3 292.2H519.4V294.2H517.3zM517.3 294.2H519.4V296.2H517.3zM519.4 312.3H521.4V314.3H519.4z"/>
<path fill="#ceff29" d="M525.4 199.7H527.5V201.7H525.4zM531.5 199.7H533.5V201.7H531.5zM523.4 201.7H525.4V203.7H523.4zM533.5 201.7H535.5V203.7H533.5zM521.4 205.7H523.4V207.7H521.4zM519.4 209.7H521.4V211.7H519.4zM537.6 209.7H539.6V211.7H537.6zM539.6 217.8H541.6V219.8H539.6zM517.3 219.8H519.4V221.8H517.3zM517.3 221.8H519.4V223.8H517.3zM541.6 229.8H543.6V231.8H541.6zM541.6 231.8H543.6V233.9H541.6zM543.6 268.1H545.7V270.1H543.6zM543.6 270.1H545.7V272.1H543.6zM517.3 288.2H519.4V290.2H517.3zM517.3 290.2H519.4V292.2H517.3zM519.4 310.3H521.4V312.3H519.4zM541.6 312.3H543.6V314.3H541.6z"/>
<path fill="#d6ff21" d="M527.5 199.7H531.5V201.7H527.5zM525.4 201.7H527.5V203.7H525.4zM531.5 201.7H533.5V203.7H531.5zM523.4 203.7H525.4V205.7H523.4zM533.5 203.7H535.5V205.7H533.5zM535.5 205.7H537.6V207.7H535.5zM521.4 207.7H523.4V209.7H521.4zM519.4 211.7H521.4V213.7H519.4zM537.6 211.7H539.6V213.7H537.6zM519.4 213.7H521.4V215.8H519.4zM539.6 219.8H541.6V221.8H539.6zM517.3 223.8H519.4V225.8H517.3zM517.3 225.8H519.4V227.8H517.3zM541.6 233.9H543.6V235.9H541.6zM541.6 235.9H543.6V237.9H541.6zM517.3 284.2H519.4V286.2H517.3zM517.3 286.2H519.4V288.2H517.3zM519.4 306.3H521.4V308.3H519.4zM519.4 308.3H521.4V310.3H519.4zM541.6 308.3H543.6V310.3H541.6zM541.6 310.3H543.6V312.3H541.6z"/>
<path fill="#deff19" d="M527.5 201.7H531.5V203.7H527.5zM525.4 203.7H527.5V205.7H525.4zM531.5 203.7H533.5V205.7H531.5zM523.4 205.7H525.4V207.7H523.4zM533.5 205.7H535.5V207.7H533.5zM535.5 207.7H537.6V209.7H535.5zM521.4 209.7H523.4V211.7H521.4zM537.6 213.7H539.6V215.8H537.6zM519.4 215.8H521.4V217.8H519.4zM519.4 217.8H521.4V219.8H519.4zM539.6 221.8H541.6V223.8H539.6zM539.6 223.8H541.6V225.8H539.6zM517.3 227.8H519.4V229.8H517.3zM517.3 229.8H519.4V231.8H517.3zM517.3 231.8H519.4V233.9H517.3zM541.6 237.9H543.6V239.9H541.6zM541.6 239.9H543.6V241.9H541.6zM517.3 278.1H519.4V280.1H517.3zM517.3 280.1H519.4V282.1H517.3zM517.3 282.1H519.4V284.2H517.3zM519.4 302.3H521.4V304.3H519.4zM541.6 302.3H543.6V304.3H541.6zM519.4 304.3H521.4V306.3H519.4zM541.6 304.3H543.6V306.3H541.6zM541.6 306.3H543.6V308.3H541.6z"/>
<path fill="#e6ff10" d="M527.5 203.7H531.5V205.7H527.5zM525.4 205.7H527.5V207.7H525.4zM531.5 205.7H533.5V207.7H531.5zM523.4 207.7H525.4V209.7H523.4zM533.5 207.7H535.5V209.7H533.5zM535.5 209.7H537.6V211.7H535.5zM521.4 211.7H523.4V213.7H521.4zM535.5 211.7H537.6V213.7H535.5zM537.6 215.8H539.6V217.8H537.6zM537.6 217.8H539.6V219.8H537.6zM519.4 219.8H521.4V221.8H519.4zM539.6 225.8H541.6V227.8H539.6zM517.3 233.9H519.4V235.9H517.3zM517.3 235.9H519.4V237.9H517.3zM517.3 237.9H519.4V239.9H517.3zM517.3 239.9H519.4V241.9H517.3zM541.6 241.9H543.6V243.9H541.6zM541.6 243.9H543.6V245.9H541.6zM541.6 245.9H543.6V247.9H541.6zM517.3 270.1H519.4V272.1H517.3zM517.3 272.1H519.4V274.1H517.3zM517.3 274.1H519.4V276.1H517.3zM517.3 276.1H519.4V278.1H517.3zM541.6 296.2H543.6V298.2H541.6zM541.6 298.2H543.6V300.2H541.6zM519.4 300.2H521.4V302.3H519.4zM541.6 300.2H543.6V302.3H541.6z"/>
<path fill="#efff08" d="M527.5 205.7H531.5V207.7H527.5zM525.4 207.7H527.5V209.7H525.4zM531.5 207.7H533.5V209.7H531.5zM523.4 209.7H525.4V211.7H523.4zM533.5 209.7H535.5V211.7H533.5zM521.4 213.7H523.4V215.8H521.4zM535.5 213.7H537.6V215.8H535.5zM521.4 215.8H523.4V217.8H521.4zM537.6 219.8H539.6V221.8H537.6zM519.4 221.8H521.4V223.8H519.4zM519.4 223.8H521.4V225.8H519.4zM539.6 227.8H541.6V229.8H539.6zM539.6 229.8H541.6V231.8H539.6zM517.3 241.9H519.4V243.9H517.3zM517.3 243.9H519.4V245.9H517.3zM517.3 245.9H519.4V247.9H517.3zM517.3 247.9H519.4V250.0H517.3zM541.6 247.9H543.6V250.0H541.6zM517.3 250.0H519.4V252.0H517.3zM541.6 250.0H543.6V252.0H541.6zM517.3 252.0H519.4V254.0H517.3zM541.6 252.0H543.6V254.0H541.6zM517.3 254.0H519.4V256.0H517.3zM541.6 254.0H543.6V256.0H541.6zM517.3 256.0H519.4V258.0H517.3zM541.6 256.0H543.6V258.0H541.6zM517.3 258.0H519.4V260.0H517.3zM517.3 260.0H519.4V262.0H517.3zM517.3 262.0H519.4V264.0H517.3zM517.3 264.0H519.4V266.0H517.3zM517.3 266.0H519.4V268.1H517.3zM517.3 268.1H519.4V270.1H517.3zM541.6 286.2H543.6V288.2H541.6zM541.6 288.2H543.6V290.2H541.6zM541.6 290.2H543.6V292.2H541.6zM541.6 292.2H543.6V294.2H541.6zM519.4 294.2H521.4V296.2H519.4zM541.6 294.2H543.6V296.2H541.6zM519.4 296.2H521.4V298.2H519.4zM519.4 298.2H521.4V300.2H519.4z"/>
<path fill="#f7f600" d="M527.5 207.7H531.5V209.7H527.5zM525.4 209.7H527.5V211.7H525.4zM531.5 209.7H533.5V211.7H531.5zM523.4 211.7H525.4V213.7H523.4zM533.5 211.7H535.5V213.7H533.5zM523.4 213.7H525.4V215.8H523.4zM535.5 215.8H537.6V217.8H535.5zM521.4 217.8H523.4V219.8H521.4zM537.6 221.8H539.6V223.8H537.6zM537.6 223.8H539.6V225.8H537.6zM519.4 225.8H521.4V227.8H519.4zM519.4 227.8H521.4V229.8H519.4zM539.6 231.8H541.6V233.9H539.6zM539.6 233.9H541.6V235.9H539.6zM541.6 258.0H543.6V260.0H541.6zM541.6 260.0H543.6V262.0H541.6zM541.6 262.0H543.6V264.0H541.6zM541.6 264.0H543.6V266.0H541.6zM541.6 266.0H543.6V268.1H541.6zM541.6 268.1H543.6V270.1H541.6zM541.6 270.1H543.6V272.1H541.6zM541.6 272.1H543.6V274.1H541.6zM541.6 274.1H543.6V276.1H541.6zM541.6 276.1H543.6V278.1H541.6zM541.6 278.1H543.6V280.1H541.6zM541.6 280.1H543.6V282.1H541.6zM541.6 282.1H543.6V284.2H541.6zM541.6 284.2H543.6V286.2H541.6zM519.4 290.2H521.4V292.2H519.4zM519.4 292.2H521.4V294.2H519.4zM521.4 310.3H523.4V312.3H521.4zM521.4 312.3H523.4V314.3H521.4zM539.6 312.3H541.6V314.3H539.6z"/>
<path fill="#ffec00" d="M527.5 209.7H531.5V211.7H527.5zM525.4 211.7H527.5V213.7H525.4zM531.5 211.7H533.5V213.7H531.5zM533.5 213.7H535.5V215.8H533.5zM523.4 215.8H525.4V217.8H523.4zM535.5 217.8H537.6V219.8H535.5zM521.4 219.8H523.4V221.8H521.4zM535.5 219.8H537.6V221.8H535.5zM521.4 221.8H523.4V223.8H521.4zM537.6 225.8H539.6V227.8H537.6zM519.4 229.8H521.4V231.8H519.4zM519.4 231.8H521.4V233.9H519.4zM519.4 233.9H521.4V235.9H519.4zM539.6 235.9H541.6V237.9H539.6zM539.6 237.9H541.6V239.9H539.6zM539.6 239.9H541.6V241.9H539.6zM519.4 284.2H521.4V286.2H519.4zM519.4 286.2H521.4V288.2H519.4zM519.4 288.2H521.4V290.2H519.4zM521.4 306.3H523.4V308.3H521.4zM539.6 306.3H541.6V308.3H539.6zM521.4 308.3H523.4V310.3H521.4zM539.6 308.3H541.6V310.3H539.6zM539.6 310.3H541.6V312.3H539.6z"/>
<path fill="#ffe300" d="M527.5 211.7H531.5V213.7H527.5zM525.4 213.7H533.5V215.8H525.4zM525.4 215.8H527.5V217.8H525.4zM533.5 215.8H535.5V217.8H533.5zM523.4 217.8H525.4V219.8H523.4zM533.5 217.8H535.5V219.8H533.5zM535.5 221.8H537.6V223.8H535.5zM521.4 223.8H523.4V225.8H521.4zM537.6 227.8H539.6V229.8H537.6zM519.4 235.9H521.4V237.9H519.4zM519.4 237.9H521.4V239.9H519.4zM519.4 239.9H521.4V241.9H519.4zM539.6 241.9H541.6V243.9H539.6zM539.6 243.9H541.6V245.9H539.6zM519.4 276.1H521.4V278.1H519.4zM519.4 278.1H521.4V280.1H519.4zM519.4 280.1H521.4V282.1H519.4zM519.4 282.1H521.4V284.2H519.4zM539.6 300.2H541.6V302.3H539.6zM521.4 302.3H523.4V304.3H521.4zM539.6 302.3H541.6V304.3H539.6zM521.4 304.3H523.4V306.3H521.4zM539.6 304.3H541.6V306.3H539.6z"/>
<path fill="#ffd900" d="M527.5 215.8H533.5V217.8H527.5zM525.4 217.8H527.5V219.8H525.4zM531.5 217.8H533.5V219.8H531.5zM523.4 219.8H525.4V221.8H523.4zM533.5 219.8H535.5V221.8H533.5zM523.4 221.8H525.4V223.8H523.4zM535.5 223.8H537.6V225.8H535.5zM521.4 225.8H523.4V227.8H521.4zM521.4 227.8H523.4V229.8H521.4zM537.6 229.8H539.6V231.8H537.6zM537.6 231.8H539.6V233.9H537.6zM537.6 233.9H539.6V235.9H537.6zM519.4 241.9H521.4V243.9H519.4zM519.4 243.9H521.4V245.9H519.4zM519.4 245.9H521.4V247.9H519.4zM539.6 245.9H541.6V247.9H539.6zM519.4 247.9H521.4V250.0H519.4zM539.6 247.9H541.6V250.0H539.6zM539.6 250.0H541.6V252.0H539.6zM539.6 252.0H541.6V254.0H539.6zM519.4 260.0H521.4V262.0H519.4zM519.4 262.0H521.4V264.0H519.4zM519.4 264.0H521.4V266.0H519.4zM519.4 266.0H521.4V268.1H519.4zM519.4 268.1H521.4V270.1H519.4zM519.4 270.1H521.4V272.1H519.4zM519.4 272.1H521.4V274.1H519.4zM519.4 274.1H521.4V276.1H519.4zM539.6 290.2H541.6V292.2H539.6zM539.6 292.2H541.6V294.2H539.6zM539.6 294.2H541.6V296.2H539.6zM521.4 296.2H523.4V298.2H521.4zM539.6 296.2H541.6V298.2H539.6zM521.4 298.2H523.4V300.2H521.4zM539.6 298.2H541.6V300.2H539.6zM521.4 300.2H523.4V302.3H521.4z"/>
<path fill="#ffd000" d="M527.5 217.8H531.5V219.8H527.5zM525.4 219.8H529.5V221.8H525.4zM531.5 219.8H533.5V221.8H531.5zM533.5 221.8H535.5V223.8H533.5zM523.4 223.8H525.4V225.8H523.4zM535.5 225.8H537.6V227.8H535.5zM535.5 227.8H537.6V229.8H535.5zM521.4 229.8H523.4V231.8H521.4zM521.4 231.8H523.4V233.9H521.4zM521.4 233.9H523.4V235.9H521.4zM537.6 235.9H539.6V237.9H537.6zM537.6 237.9H539.6V239.9H537.6zM519.4 250.0H521.4V252.0H519.4zM519.4 252.0H521.4V254.0H519.4zM519.4 254.0H521.4V256.0H519.4zM539.6 254.0H541.6V256.0H539.6zM519.4 256.0H521.4V258.0H519.4zM539.6 256.0H541.6V258.0H539.6zM519.4 258.0H521.4V260.0H519.4zM539.6 258.0H541.6V260.0H539.6zM539.6 260.0H541.6V262.0H539.6zM539.6 262.0H541.6V264.0H539.6zM539.6 264.0H541.6V266.0H539.6zM539.6 266.0H541.6V268.1H539.6zM539.6 268.1H541.6V270.1H539.6zM539.6 270.1H541.6V272.1H539.6zM539.6 272.1H541.6V274.1H539.6zM539.6 274.1H541.6V276.1H539.6zM539.6 276.1H541.6V278.1H539.6zM539.6 278.1H541.6V280.1H539.6zM539.6 280.1H541.6V282.1H539.6zM539.6 282.1H541.6V284.2H539.6zM539.6 284.2H541.6V286.2H539.6zM539.6 286.2H541.6V288.2H539.6zM539.6 288.2H541.6V290.2H539.6zM521.4 292.2H523.4V294.2H521.4zM521.4 294.2H523.4V296.2H521.4zM523.4 308.3H525.4V310.3H523.4zM523.4 310.3H525.4V312.3H523.4zM537.6 310.3H539.6V312.3H537.6zM523.4 312.3H525.4V314.3H523.4zM537.6 312.3H539.6V314.3H537.6z"/>
<path fill="#ffc600" d="M529.5 219.8H531.5V221.8H529.5zM525.4 221.8H533.5V223.8H525.4zM525.4 223.8H527.5V225.8H525.4zM533.5 223.8H535.5V225.8H533.5zM523.4 225.8H525.4V227.8H523.4zM533.5 225.8H535.5V227.8H533.5zM523.4 227.8H525.4V229.8H523.4zM535.5 229.8H537.6V231.8H535.5zM535.5 231.8H537.6V233.9H535.5zM521.4 235.9H523.4V237.9H521.4zM521.4 237.9H523.4V239.9H521.4zM521.4 239.9H523.4V241.9H521.4zM537.6 239.9H539.6V241.9H537.6zM537.6 241.9H539.6V243.9H537.6zM537.6 243.9H539.6V245.9H537.6zM521.4 284.2H523.4V286.2H521.4zM521.4 286.2H523.4V288.2H521.4zM521.4 288.2H523.4V290.2H521.4zM521.4 290.2H523.4V292.2H521.4zM537.6 302.3H539.6V304.3H537.6zM523.4 304.3H525.4V306.3H523.4zM537.6 304.3H539.6V306.3H537.6zM523.4 306.3H525.4V308.3H523.4zM537.6 306.3H539.6V308.3H537.6zM537.6 308.3H539.6V310.3H537.6z"/>
<path fill="#ffbd00" d="M527.5 223.8H533.5V225.8H527.5zM525.4 225.8H527.5V227.8H525.4zM531.5 225.8H533.5V227.8H531.5zM533.5 227.8H535.5V229.8H533.5zM523.4 229.8H525.4V231.8H523.4zM523.4 231.8H525.4V233.9H523.4zM535.5 233.9H537.6V235.9H535.5zM535.5 235.9H537.6V237.9H535.5zM521.4 241.9H523.4V243.9H521.4zM521.4 243.9H523.4V245.9H521.4zM521.4 245.9H523.4V247.9H521.4zM537.6 245.9H539.6V247.9H537.6zM537.6 247.9H539.6V250.0H537.6zM521.4 274.1H523.4V276.1H521.4zM521.4 276.1H523.4V278.1H521.4zM521.4 278.1H523.4V280.1H521.4zM521.4 280.1H523.4V282.1H521.4zM521.4 282.1H523.4V284.2H521.4zM537.6 294.2H539.6V296.2H537.6zM537.6 296.2H539.6V298.2H537.6zM523.4 298.2H525.4V300.2H523.4zM537.6 298.2H539.6V300.2H537.6zM523.4 300.2H525.4V302.3H523.4zM537.6 300.2H539.6V302.3H537.6zM523.4 302.3H525.4V304.3H523.4zM525.4 312.3H527.5V314.3H525.4z"/>
<path fill="#ffb300" d="M527.5 225.8H531.5V227.8H527.5zM525.4 227.8H529.5V229.8H525.4zM531.5 227.8H533.5V229.8H531.5zM525.4 229.8H527.5V231.8H525.4zM533.5 229.8H535.5V231.8H533.5zM533.5 231.8H535.5V233.9H533.5zM523.4 233.9H525.4V235.9H523.4zM533.5 233.9H535.5V235.9H533.5zM523.4 235.9H525.4V237.9H523.4zM523.4 237.9H525.4V239.9H523.4zM535.5 237.9H537.6V239.9H535.5zM535.5 239.9H537.6V241.9H535.5zM535.5 241.9H537.6V243.9H535.5zM521.4 247.9H523.4V250.0H521.4zM521.4 250.0H523.4V252.0H521.4zM537.6 250.0H539.6V252.0H537.6zM521.4 252.0H523.4V254.0H521.4zM537.6 252.0H539.6V254.0H537.6zM521.4 254.0H523.4V256.0H521.4zM537.6 254.0H539.6V256.0H537.6zM521.4 256.0H523.4V258.0H521.4zM537.6 256.0H539.6V258.0H537.6zM521.4 258.0H523.4V260.0H521.4zM537.6 258.0H539.6V260.0H537.6zM521.4 260.0H523.4V262.0H521.4zM537.6 260.0H539.6V262.0H537.6zM521.4 262.0H523.4V264.0H521.4zM537.6 262.0H539.6V264.0H537.6zM521.4 264.0H523.4V266.0H521.4zM537.6 264.0H539.6V266.0H537.6zM521.4 266.0H523.4V268.1H521.4zM521.4 268.1H523.4V270.1H521.4zM521.4 270.1H523.4V272.1H521.4zM521.4 272.1H523.4V274.1H521.4zM537.6 278.1H539.6V280.1H537.6zM537.6 280.1H539.6V282.1H537.6zM537.6 282.1H539.6V284.2H537.6zM537.6 284.2H539.6V286.2H537.6zM537.6 286.2H539.6V288.2H537.6zM537.6 288.2H539.6V290.2H537.6zM537.6 290.2H539.6V292.2H537.6zM523.4 292.2H525.4V294.2H523.4zM537.6 292.2H539.6V294.2H537.6zM523.4 294.2H525.4V296.2H523.4zM523.4 296.2H525.4V298.2H523.4zM525.4 306.3H527.5V308.3H525.4zM535.5 306.3H537.6V308.3H535.5zM525.4 308.3H527.5V310.3H525.4zM535.5 308.3H537.6V310.3H535.5zM525.4 310.3H527.5V312.3H525.4zM535.5 310.3H537.6V312.3H535.5zM535.5 312.3H537.6V314.3H535.5z"/>
<path fill="#ffaa00" d="M529.5 227.8H531.5V229.8H529.5zM527.5 229.8H533.5V231.8H527.5zM525.4 231.8H529.5V233.9H525.4zM531.5 231.8H533.5V233.9H531.5zM525.4 233.9H527.5V235.9H525.4zM525.4 235.9H527.5V237.9H525.4zM533.5 235.9H535.5V237.9H533.5zM533.5 237.9H535.5V239.9H533.5zM523.4 239.9H525.4V241.9H523.4zM523.4 241.9H525.4V243.9H523.4zM523.4 243.9H525.4V245.9H523.4zM535.5 243.9H537.6V245.9H535.5zM535.5 245.9H537.6V247.9H535.5zM537.6 266.0H539.6V268.1H537.6zM537.6 268.1H539.6V270.1H537.6zM537.6 270.1H539.6V272.1H537.6zM537.6 272.1H539.6V274.1H537.6zM537.6 274.1H539.6V276.1H537.6zM537.6 276.1H539.6V278.1H537.6zM523.4 282.1H525.4V284.2H523.4zM523.4 284.2H525.4V286.2H523.4zM523.4 286.2H525.4V288.2H523.4zM523.4 288.2H525.4V290.2H523.4zM523.4 290.2H525.4V292.2H523.4zM535.5 298.2H537.6V300.2H535.5zM525.4 300.2H527.5V302.3H525.4zM535.5 300.2H537.6V302.3H535.5zM525.4 302.3H527.5V304.3H525.4zM535.5 302.3H537.6V304.3H535.5zM525.4 304.3H527.5V306.3H525.4zM535.5 304.3H537.6V306.3H535.5zM527.5 310.3H529.5V312.3H527.5zM527.5 312.3H529.5V314.3H527.5zM533.5 312.3H535.5V314.3H533.5z"/>
<path fill="#ffa100" d="M529.5 231.8H531.5V233.9H529.5zM527.5 233.9H533.5V235.9H527.5zM527.5 235.9H533.5V237.9H527.5zM525.4 237.9H527.5V239.9H525.4zM531.5 237.9H533.5V239.9H531.5zM525.4 239.9H527.5V241.9H525.4zM533.5 239.9H535.5V241.9H533.5zM525.4 241.9H527.5V243.9H525.4zM533.5 241.9H535.5V243.9H533.5zM523.4 245.9H525.4V247.9H523.4zM523.4 247.9H525.4V250.0H523.4zM535.5 247.9H537.6V250.0H535.5zM523.4 250.0H525.4V252.0H523.4zM535.5 250.0H537.6V252.0H535.5zM523.4 252.0H525.4V254.0H523.4zM535.5 252.0H537.6V254.0H535.5zM523.4 254.0H525.4V256.0H523.4zM535.5 254.0H537.6V256.0H535.5zM523.4 256.0H525.4V258.0H523.4zM535.5 256.0H537.6V258.0H535.5zM523.4 258.0H525.4V260.0H523.4zM523.4 260.0H525.4V262.0H523.4zM523.4 262.0H525.4V264.0H523.4zM523.4 264.0H525.4V266.0H523.4zM523.4 266.0H525.4V268.1H523.4zM523.4 270.1H525.4V272.1H523.4zM523.4 272.1H525.4V274.1H523.4zM523.4 274.1H525.4V276.1H523.4zM523.4 276.1H525.4V278.1H523.4zM523.4 278.1H525.4V280.1H523.4zM523.4 280.1H525.4V282.1H523.4zM535.5 288.2H537.6V290.2H535.5zM535.5 290.2H537.6V292.2H535.5zM525.4 292.2H527.5V294.2H525.4zM535.5 292.2H537.6V294.2H535.5zM525.4 294.2H527.5V296.2H525.4zM535.5 294.2H537.6V296.2H535.5zM525.4 296.2H527.5V298.2H525.4zM535.5 296.2H537.6V298.2H535.5zM525.4 298.2H527.5V300.2H525.4zM527.5 304.3H529.5V306.3H527.5zM533.5 304.3H535.5V306.3H533.5zM527.5 306.3H529.5V308.3H527.5zM533.5 306.3H535.5V308.3H533.5zM527.5 308.3H529.5V310.3H527.5zM533.5 308.3H535.5V310.3H533.5zM529.5 310.3H535.5V312.3H529.5zM529.5 312.3H533.5V314.3H529.5z"/>
<path fill="#ff9700" d="M527.5 237.9H531.5V239.9H527.5zM527.5 239.9H533.5V241.9H527.5zM527.5 241.9H529.5V243.9H527.5zM531.5 241.9H533.5V243.9H531.5zM525.4 243.9H527.5V245.9H525.4zM533.5 243.9H535.5V245.9H533.5zM525.4 245.9H527.5V247.9H525.4zM533.5 245.9H535.5V247.9H533.5zM533.5 247.9H535.5V250.0H533.5zM535.5 258.0H537.6V260.0H535.5zM535.5 260.0H537.6V262.0H535.5zM535.5 262.0H537.6V264.0H535.5zM535.5 264.0H537.6V266.0H535.5zM535.5 266.0H537.6V268.1H535.5zM523.4 268.1H525.4V270.1H523.4zM535.5 268.1H537.6V270.1H535.5zM535.5 270.1H537.6V272.1H535.5zM535.5 272.1H537.6V274.1H535.5zM535.5 274.1H537.6V276.1H535.5zM535.5 276.1H537.6V278.1H535.5zM535.5 278.1H537.6V280.1H535.5zM535.5 280.1H537.6V282.1H535.5zM525.4 282.1H527.5V284.2H525.4zM535.5 282.1H537.6V284.2H535.5zM525.4 284.2H527.5V286.2H525.4zM535.5 284.2H537.6V286.2H535.5zM525.4 286.2H527.5V288.2H525.4zM535.5 286.2H537.6V288.2H535.5zM525.4 288.2H527.5V290.2H525.4zM525.4 290.2H527.5V292.2H525.4zM533.5 294.2H535.5V296.2H533.5zM527.5 296.2H529.5V298.2H527.5zM533.5 296.2H535.5V298.2H533.5zM527.5 298.2H529.5V300.2H527.5zM533.5 298.2H535.5V300.2H533.5zM527.5 300.2H529.5V302.3H527.5zM533.5 300.2H535.5V302.3H533.5zM527.5 302.3H535.5V304.3H527.5zM529.5 304.3H533.5V306.3H529.5zM529.5 306.3H533.5V308.3H529.5zM529.5 308.3H533.5V310.3H529.5z"/>
<path fill="#ff8e00" d="M529.5 241.9H531.5V243.9H529.5zM527.5 243.9H533.5V245.9H527.5zM527.5 245.9H533.5V247.9H527.5zM525.4 247.9H527.5V250.0H525.4zM531.5 247.9H533.5V250.0H531.5zM525.4 250.0H527.5V252.0H525.4zM533.5 250.0H535.5V252.0H533.5zM525.4 252.0H527.5V254.0H525.4zM533.5 252.0H535.5V254.0H533.5zM525.4 254.0H527.5V256.0H525.4zM533.5 254.0H535.5V256.0H533.5zM525.4 256.0H527.5V258.0H525.4zM533.5 256.0H535.5V258.0H533.5zM525.4 258.0H527.5V260.0H525.4zM533.5 258.0H535.5V260.0H533.5zM525.4 260.0H527.5V262.0H525.4zM533.5 260.0H535.5V262.0H533.5zM525.4 262.0H527.5V264.0H525.4zM533.5 262.0H535.5V264.0H533.5zM525.4 264.0H527.5V266.0H525.4zM525.4 266.0H527.5V268.1H525.4zM525.4 268.1H527.5V270.1H525.4zM525.4 270.1H527.5V272.1H525.4zM525.4 272.1H527.5V274.1H525.4zM525.4 274.1H527.5V276.1H525.4zM525.4 276.1H527.5V278.1H525.4zM525.4 278.1H527.5V280.1H525.4zM533.5 278.1H535.5V280.1H533.5zM525.4 280.1H527.5V282.1H525.4zM533.5 280.1H535.5V282.1H533.5zM533.5 282.1H535.5V284.2H533.5zM533.5 284.2H535.5V286.2H533.5zM533.5 286.2H535.5V288.2H533.5zM527.5 288.2H529.5V290.2H527.5zM533.5 288.2H535.5V290.2H533.5zM527.5 290.2H529.5V292.2H527.5zM533.5 290.2H535.5V292.2H533.5zM527.5 292.2H529.5V294.2H527.5zM531.5 292.2H535.5V294.2H531.5zM527.5 294.2H533.5V296.2H527.5zM529.5 296.2H533.5V298.2H529.5zM529.5 298.2H533.5V300.2H529.5zM529.5 300.2H533.5V302.3H529.5z"/>
<path fill="#ff8400" d="M527.5 247.9H531.5V250.0H527.5zM527.5 250.0H533.5V252.0H527.5zM527.5 252.0H533.5V254.0H527.5zM527.5 254.0H533.5V256.0H527.5zM527.5 256.0H533.5V258.0H527.5zM527.5 258.0H533.5V260.0H527.5zM527.5 260.0H529.5V262.0H527.5zM531.5 260.0H533.5V262.0H531.5zM527.5 262.0H529.5V264.0H527.5zM531.5 262.0H533.5V264.0H531.5zM527.5 264.0H529.5V266.0H527.5zM531.5 264.0H535.5V266.0H531.5zM527.5 266.0H529.5V268.1H527.5zM533.5 266.0H535.5V268.1H533.5zM533.5 268.1H535.5V270.1H533.5zM527.5 270.1H529.5V272.1H527.5zM533.5 270.1H535.5V272.1H533.5zM527.5 272.1H529.5V274.1H527.5zM533.5 272.1H535.5V274.1H533.5zM527.5 274.1H529.5V276.1H527.5zM533.5 274.1H535.5V276.1H533.5zM527.5 276.1H529.5V278.1H527.5zM531.5 276.1H535.5V278.1H531.5zM527.5 278.1H529.5V280.1H527.5zM531.5 278.1H533.5V280.1H531.5zM527.5 280.1H533.5V282.1H527.5zM527.5 282.1H533.5V284.2H527.5zM527.5 284.2H533.5V286.2H527.5zM527.5 286.2H533.5V288.2H527.5zM529.5 288.2H533.5V290.2H529.5zM529.5 290.2H533.5V292.2H529.5zM529.5 292.2H531.5V294.2H529.5z"/>
<path fill="#ff7b00" d="M529.5 260.0H531.5V262.0H529.5zM529.5 262.0H531.5V264.0H529.5zM529.5 264.0H531.5V266.0H529.5zM529.5 266.0H533.5V268.1H529.5zM527.5 268.1H533.5V270.1H527.5zM529.5 270.1H533.5V272.1H529.5zM529.5 272.1H533.5V274.1H529.5zM529.5 274.1H533.5V276.1H529.5zM529.5 276.1H531.5V278.1H529.5zM529.5 278.1H531.5V280.1H529.5z"/>
</g>
<rect x="46.70" y="178.30" width="160.30" height="160.00" fill="none" stroke="#1a1a1a" stroke-width="1"/>
<rect x="277.70" y="171.50" width="116.30" height="173.00" fill="none" stroke="#1a1a1a" stroke-width="1"/>
<rect x="484.70" y="171.50" width="93.30" height="173.00" fill="none" stroke="#1a1a1a" stroke-width="1"/>
<line x1="43.20" x2="46.70" y1="178.30" y2="178.30" stroke="#1a1a1a" stroke-width="1"/><line x1="43.20" x2="46.70" y1="198.30" y2="198.30" stroke="#1a1a1a" stroke-width="1"/><line x1="43.20" x2="46.70" y1="218.30" y2="218.30" stroke="#1a1a1a" stroke-width="1"/><line x1="43.20" x2="46.70" y1="238.30" y2="238.30" stroke="#1a1a1a" stroke-width="1"/><line x1="43.20" x2="46.70" y1="258.30" y2="258.30" stroke="#1a1a1a" stroke-width="1"/><line x1="43.20" x2="46.70" y1="278.30" y2="278.30" stroke="#1a1a1a" stroke-width="1"/><line x1="43.20" x2="46.70" y1="298.30" y2="298.30" stroke="#1a1a1a" stroke-width="1"/><line x1="43.20" x2="46.70" y1="318.30" y2="318.30" stroke="#1a1a1a" stroke-width="1"/><line x1="43.20" x2="46.70" y1="338.30" y2="338.30" stroke="#1a1a1a" stroke-width="1"/>
<line x1="47.00" x2="47.00" y1="338.30" y2="341.80" stroke="#1a1a1a" stroke-width="1"/><line x1="87.00" x2="87.00" y1="338.30" y2="341.80" stroke="#1a1a1a" stroke-width="1"/><line x1="127.00" x2="127.00" y1="338.30" y2="341.80" stroke="#1a1a1a" stroke-width="1"/><line x1="167.00" x2="167.00" y1="338.30" y2="341.80" stroke="#1a1a1a" stroke-width="1"/><line x1="207.00" x2="207.00" y1="338.30" y2="341.80" stroke="#1a1a1a" stroke-width="1"/>
<line x1="274.20" x2="277.70" y1="171.50" y2="171.50" stroke="#1a1a1a" stroke-width="1"/><line x1="274.20" x2="277.70" y1="200.33" y2="200.33" stroke="#1a1a1a" stroke-width="1"/><line x1="274.20" x2="277.70" y1="229.17" y2="229.17" stroke="#1a1a1a" stroke-width="1"/><line x1="274.20" x2="277.70" y1="258.00" y2="258.00" stroke="#1a1a1a" stroke-width="1"/><line x1="274.20" x2="277.70" y1="286.83" y2="286.83" stroke="#1a1a1a" stroke-width="1"/><line x1="274.20" x2="277.70" y1="315.67" y2="315.67" stroke="#1a1a1a" stroke-width="1"/><line x1="274.20" x2="277.70" y1="344.50" y2="344.50" stroke="#1a1a1a" stroke-width="1"/>
<line x1="278.00" x2="278.00" y1="344.50" y2="348.00" stroke="#1a1a1a" stroke-width="1"/><line x1="307.00" x2="307.00" y1="344.50" y2="348.00" stroke="#1a1a1a" stroke-width="1"/><line x1="336.00" x2="336.00" y1="344.50" y2="348.00" stroke="#1a1a1a" stroke-width="1"/><line x1="365.00" x2="365.00" y1="344.50" y2="348.00" stroke="#1a1a1a" stroke-width="1"/><line x1="394.00" x2="394.00" y1="344.50" y2="348.00" stroke="#1a1a1a" stroke-width="1"/>
<line x1="481.20" x2="484.70" y1="171.50" y2="171.50" stroke="#1a1a1a" stroke-width="1"/><line x1="481.20" x2="484.70" y1="200.33" y2="200.33" stroke="#1a1a1a" stroke-width="1"/><line x1="481.20" x2="484.70" y1="229.17" y2="229.17" stroke="#1a1a1a" stroke-width="1"/><line x1="481.20" x2="484.70" y1="258.00" y2="258.00" stroke="#1a1a1a" stroke-width="1"/><line x1="481.20" x2="484.70" y1="286.83" y2="286.83" stroke="#1a1a1a" stroke-width="1"/><line x1="481.20" x2="484.70" y1="315.67" y2="315.67" stroke="#1a1a1a" stroke-width="1"/><line x1="481.20" x2="484.70" y1="344.50" y2="344.50" stroke="#1a1a1a" stroke-width="1"/>
<line x1="485.00" x2="485.00" y1="344.50" y2="348.00" stroke="#1a1a1a" stroke-width="1"/><line x1="531.50" x2="531.50" y1="344.50" y2="348.00" stroke="#1a1a1a" stroke-width="1"/><line x1="578.00" x2="578.00" y1="344.50" y2="348.00" stroke="#1a1a1a" stroke-width="1"/>
<text x="41.80" y="182.30" font-size="11.50" text-anchor="end" textLength="17.49" lengthAdjust="spacingAndGlyphs" style="font-family:'Liberation Sans',sans-serif">0.0</text>
<text x="41.80" y="202.30" font-size="11.50" text-anchor="end" textLength="21.46" lengthAdjust="spacingAndGlyphs" style="font-family:'Liberation Sans',sans-serif">-0.2</text>
<text x="41.80" y="222.30" font-size="11.50" text-anchor="end" textLength="21.46" lengthAdjust="spacingAndGlyphs" style="font-family:'Liberation Sans',sans-serif">-0.5</text>
<text x="41.80" y="242.30" font-size="11.50" text-anchor="end" textLength="21.46" lengthAdjust="spacingAndGlyphs" style="font-family:'Liberation Sans',sans-serif">-0.8</text>
<text x="41.80" y="262.30" font-size="11.50" text-anchor="end" textLength="21.46" lengthAdjust="spacingAndGlyphs" style="font-family:'Liberation Sans',sans-serif">-1.0</text>
<text x="41.80" y="282.30" font-size="11.50" text-anchor="end" textLength="21.46" lengthAdjust="spacingAndGlyphs" style="font-family:'Liberation Sans',sans-serif">-1.2</text>
<text x="41.80" y="302.30" font-size="11.50" text-anchor="end" textLength="21.46" lengthAdjust="spacingAndGlyphs" style="font-family:'Liberation Sans',sans-serif">-1.5</text>
<text x="41.80" y="322.30" font-size="11.50" text-anchor="end" textLength="21.46" lengthAdjust="spacingAndGlyphs" style="font-family:'Liberation Sans',sans-serif">-1.8</text>
<text x="41.80" y="342.30" font-size="11.50" text-anchor="end" textLength="21.46" lengthAdjust="spacingAndGlyphs" style="font-family:'Liberation Sans',sans-serif">-2.0</text>
<text x="47.00" y="351.30" font-size="11.50" text-anchor="middle" textLength="21.46" lengthAdjust="spacingAndGlyphs" style="font-family:'Liberation Sans',sans-serif">-1.0</text>
<text x="87.00" y="351.30" font-size="11.50" text-anchor="middle" textLength="21.46" lengthAdjust="spacingAndGlyphs" style="font-family:'Liberation Sans',sans-serif">-0.5</text>
<text x="127.00" y="351.30" font-size="11.50" text-anchor="middle" textLength="17.49" lengthAdjust="spacingAndGlyphs" style="font-family:'Liberation Sans',sans-serif">0.0</text>
<text x="167.00" y="351.30" font-size="11.50" text-anchor="middle" textLength="17.49" lengthAdjust="spacingAndGlyphs" style="font-family:'Liberation Sans',sans-serif">0.5</text>
<text x="207.00" y="351.30" font-size="11.50" text-anchor="middle" textLength="17.49" lengthAdjust="spacingAndGlyphs" style="font-family:'Liberation Sans',sans-serif">1.0</text>
<text x="272.80" y="175.50" font-size="11.50" text-anchor="end" textLength="17.49" lengthAdjust="spacingAndGlyphs" style="font-family:'Liberation Sans',sans-serif">0.0</text>
<text x="272.80" y="204.33" font-size="11.50" text-anchor="end" textLength="21.46" lengthAdjust="spacingAndGlyphs" style="font-family:'Liberation Sans',sans-serif">-0.5</text>
<text x="272.80" y="233.17" font-size="11.50" text-anchor="end" textLength="21.46" lengthAdjust="spacingAndGlyphs" style="font-family:'Liberation Sans',sans-serif">-1.0</text>
<text x="272.80" y="262.00" font-size="11.50" text-anchor="end" textLength="21.46" lengthAdjust="spacingAndGlyphs" style="font-family:'Liberation Sans',sans-serif">-1.5</text>
<text x="272.80" y="290.83" font-size="11.50" text-anchor="end" textLength="21.46" lengthAdjust="spacingAndGlyphs" style="font-family:'Liberation Sans',sans-serif">-2.0</text>
<text x="272.80" y="319.67" font-size="11.50" text-anchor="end" textLength="21.46" lengthAdjust="spacingAndGlyphs" style="font-family:'Liberation Sans',sans-serif">-2.5</text>
<text x="272.80" y="348.50" font-size="11.50" text-anchor="end" textLength="21.46" lengthAdjust="spacingAndGlyphs" style="font-family:'Liberation Sans',sans-serif">-3.0</text>
<text x="278.00" y="358.20" font-size="11.50" text-anchor="middle" textLength="21.46" lengthAdjust="spacingAndGlyphs" style="font-family:'Liberation Sans',sans-serif">-1.0</text>
<text x="307.00" y="358.20" font-size="11.50" text-anchor="middle" textLength="21.46" lengthAdjust="spacingAndGlyphs" style="font-family:'Liberation Sans',sans-serif">-0.5</text>
<text x="336.00" y="358.20" font-size="11.50" text-anchor="middle" textLength="17.49" lengthAdjust="spacingAndGlyphs" style="font-family:'Liberation Sans',sans-serif">0.0</text>
<text x="365.00" y="358.20" font-size="11.50" text-anchor="middle" textLength="17.49" lengthAdjust="spacingAndGlyphs" style="font-family:'Liberation Sans',sans-serif">0.5</text>
<text x="394.00" y="358.20" font-size="11.50" text-anchor="middle" textLength="17.49" lengthAdjust="spacingAndGlyphs" style="font-family:'Liberation Sans',sans-serif">1.0</text>
<text x="479.80" y="175.50" font-size="11.50" text-anchor="end" textLength="24.49" lengthAdjust="spacingAndGlyphs" style="font-family:'Liberation Sans',sans-serif">15.0</text>
<text x="479.80" y="204.33" font-size="11.50" text-anchor="end" textLength="24.49" lengthAdjust="spacingAndGlyphs" style="font-family:'Liberation Sans',sans-serif">10.0</text>
<text x="479.80" y="233.17" font-size="11.50" text-anchor="end" textLength="17.49" lengthAdjust="spacingAndGlyphs" style="font-family:'Liberation Sans',sans-serif">5.0</text>
<text x="479.80" y="262.00" font-size="11.50" text-anchor="end" textLength="17.49" lengthAdjust="spacingAndGlyphs" style="font-family:'Liberation Sans',sans-serif">0.0</text>
<text x="479.80" y="290.83" font-size="11.50" text-anchor="end" textLength="21.46" lengthAdjust="spacingAndGlyphs" style="font-family:'Liberation Sans',sans-serif">-5.0</text>
<text x="479.80" y="319.67" font-size="11.50" text-anchor="end" textLength="28.46" lengthAdjust="spacingAndGlyphs" style="font-family:'Liberation Sans',sans-serif">-10.0</text>
<text x="479.80" y="348.50" font-size="11.50" text-anchor="end" textLength="28.46" lengthAdjust="spacingAndGlyphs" style="font-family:'Liberation Sans',sans-serif">-15.0</text>
<text x="485.00" y="358.20" font-size="11.50" text-anchor="middle" textLength="21.46" lengthAdjust="spacingAndGlyphs" style="font-family:'Liberation Sans',sans-serif">-2.0</text>
<text x="531.50" y="358.20" font-size="11.50" text-anchor="middle" textLength="17.49" lengthAdjust="spacingAndGlyphs" style="font-family:'Liberation Sans',sans-serif">0.0</text>
<text x="578.00" y="358.20" font-size="11.50" text-anchor="middle" textLength="17.49" lengthAdjust="spacingAndGlyphs" style="font-family:'Liberation Sans',sans-serif">2.0</text>
<text x="126.75" y="367.30" font-size="15.00" text-anchor="middle" textLength="107.04" lengthAdjust="spacingAndGlyphs" style="font-family:'Liberation Sans',sans-serif">Y position [cm]</text>
<text x="13.30" y="258.05" font-size="15.00" text-anchor="middle" textLength="108.10" lengthAdjust="spacingAndGlyphs" transform="rotate(-90 13.30 258.05)" style="font-family:'Liberation Sans',sans-serif">Z position [cm]</text>
<text x="336.40" y="375.00" font-size="15.00" text-anchor="middle" textLength="135.00" lengthAdjust="spacingAndGlyphs" style="font-family:'Liberation Sans',sans-serif">Y divergence [deg]</text>
<text x="244.20" y="257.95" font-size="15.00" text-anchor="middle" textLength="136.06" lengthAdjust="spacingAndGlyphs" transform="rotate(-90 244.20 257.95)" style="font-family:'Liberation Sans',sans-serif">Z divergence [deg]</text>
<text x="530.90" y="375.20" font-size="15.00" text-anchor="middle" textLength="107.04" lengthAdjust="spacingAndGlyphs" style="font-family:'Liberation Sans',sans-serif">Y position [cm]</text>
<text x="444.30" y="258.25" font-size="15.00" text-anchor="middle" textLength="108.10" lengthAdjust="spacingAndGlyphs" transform="rotate(-90 444.30 258.25)" style="font-family:'Liberation Sans',sans-serif">X position [cm]</text>
<text x="120.40" y="396.40" font-size="21.50" text-anchor="start" stroke="#000" stroke-width="0.75" textLength="27.20" lengthAdjust="spacingAndGlyphs" style="font-family:'Liberation Serif',serif">b)</text>
<text x="328.80" y="395.00" font-size="21.50" text-anchor="start" stroke="#000" stroke-width="0.75" textLength="22.60" lengthAdjust="spacingAndGlyphs" style="font-family:'Liberation Serif',serif">c)</text>
<text x="516.50" y="396.40" font-size="21.50" text-anchor="start" stroke="#000" stroke-width="0.75" textLength="25.40" lengthAdjust="spacingAndGlyphs" style="font-family:'Liberation Serif',serif">d)</text>
<defs><linearGradient id="cb" x1="0" y1="1" x2="0" y2="0"><stop offset="0.000" stop-color="#000080"/><stop offset="0.025" stop-color="#00009c"/><stop offset="0.050" stop-color="#0000b9"/><stop offset="0.075" stop-color="#0000d6"/><stop offset="0.100" stop-color="#0000f3"/><stop offset="0.125" stop-color="#0000ff"/><stop offset="0.150" stop-color="#001aff"/><stop offset="0.175" stop-color="#0033ff"/><stop offset="0.200" stop-color="#004dff"/><stop offset="0.225" stop-color="#0066ff"/><stop offset="0.250" stop-color="#0080ff"/><stop offset="0.275" stop-color="#0099ff"/><stop offset="0.300" stop-color="#00b3ff"/><stop offset="0.325" stop-color="#00ccff"/><stop offset="0.350" stop-color="#00e6f7"/><stop offset="0.375" stop-color="#15ffe2"/><stop offset="0.400" stop-color="#29ffce"/><stop offset="0.425" stop-color="#3effb9"/><stop offset="0.450" stop-color="#52ffa5"/><stop offset="0.475" stop-color="#67ff90"/><stop offset="0.500" stop-color="#7bff7b"/><stop offset="0.525" stop-color="#90ff67"/><stop offset="0.550" stop-color="#a5ff52"/><stop offset="0.575" stop-color="#b9ff3e"/><stop offset="0.600" stop-color="#ceff29"/><stop offset="0.625" stop-color="#e2ff15"/><stop offset="0.650" stop-color="#f7f600"/><stop offset="0.675" stop-color="#ffde00"/><stop offset="0.700" stop-color="#ffc600"/><stop offset="0.725" stop-color="#ffaf00"/><stop offset="0.750" stop-color="#ff9700"/><stop offset="0.775" stop-color="#ff8000"/><stop offset="0.800" stop-color="#ff6800"/><stop offset="0.825" stop-color="#ff5000"/><stop offset="0.850" stop-color="#ff3900"/><stop offset="0.875" stop-color="#ff2100"/><stop offset="0.900" stop-color="#f30900"/><stop offset="0.925" stop-color="#d60000"/><stop offset="0.950" stop-color="#b90000"/><stop offset="0.975" stop-color="#9c0000"/><stop offset="1.000" stop-color="#800000"/></linearGradient></defs>
<rect x="643.3" y="139.5" width="13" height="254" fill="url(#cb)"/>
<rect x="656.0" y="139.5" width="0.6" height="254" fill="#bbb"/>
<line x1="656.3" x2="659.3" y1="186.2" y2="186.2" stroke="#1a1a1a" stroke-width="1"/>
<line x1="656.3" x2="659.3" y1="284.6" y2="284.6" stroke="#1a1a1a" stroke-width="1"/>
<text x="659.20" y="191.90" font-size="14.60" text-anchor="start" textLength="16.80" lengthAdjust="spacingAndGlyphs" style="font-family:'Liberation Sans',sans-serif">10</text>
<text x="677.00" y="186.40" font-size="10.20" text-anchor="start" textLength="5.98" lengthAdjust="spacingAndGlyphs" style="font-family:'Liberation Sans',sans-serif">6</text>
<text x="659.20" y="290.00" font-size="14.60" text-anchor="start" textLength="16.80" lengthAdjust="spacingAndGlyphs" style="font-family:'Liberation Sans',sans-serif">10</text>
<text x="677.00" y="284.60" font-size="10.20" text-anchor="start" textLength="5.98" lengthAdjust="spacingAndGlyphs" style="font-family:'Liberation Sans',sans-serif">5</text>
<text x="659.30" y="399.40" font-size="14.60" text-anchor="start" textLength="8.40" lengthAdjust="spacingAndGlyphs" style="font-family:'Liberation Sans',sans-serif">0</text>
<text x="629.90" y="264.40" font-size="18.60" text-anchor="middle" textLength="71.82" lengthAdjust="spacingAndGlyphs" transform="rotate(-90 629.90 264.40)" style="font-family:'Liberation Sans',sans-serif">Intensity</text>
</svg>
</body></html>
